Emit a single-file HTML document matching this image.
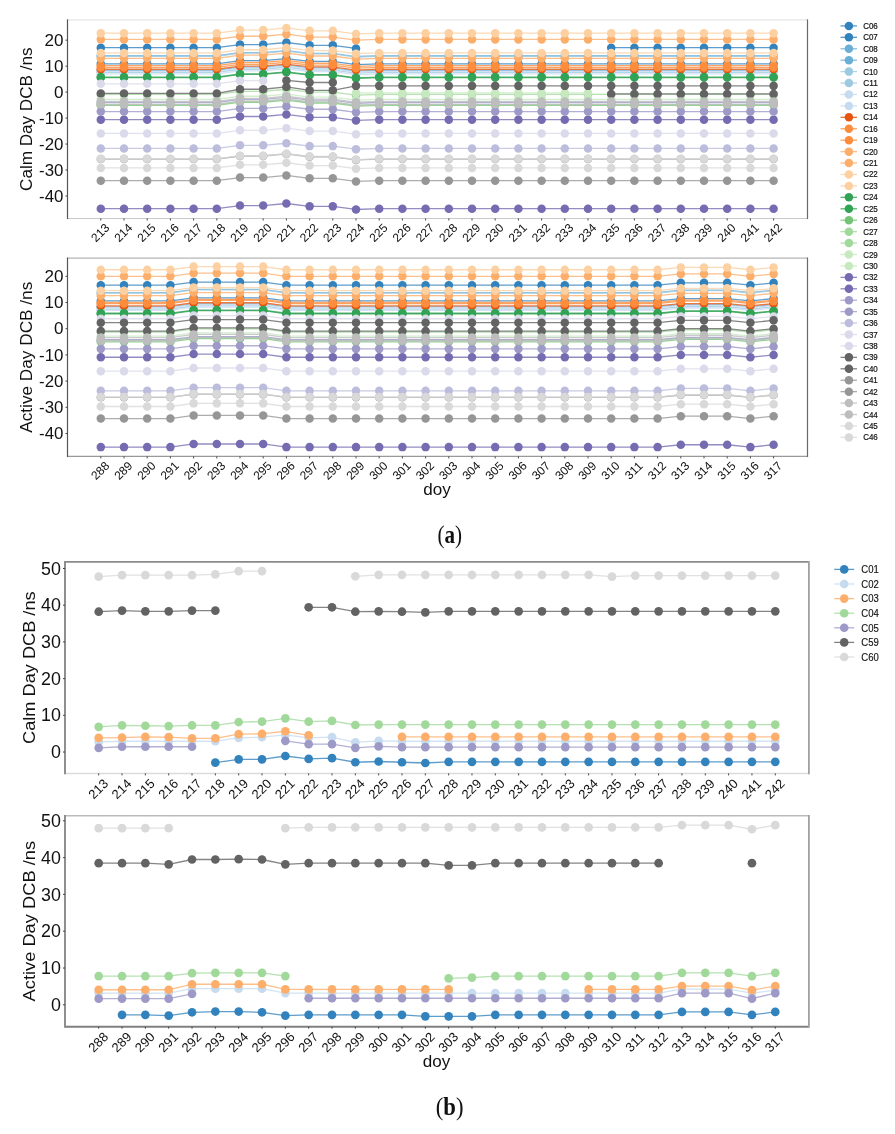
<!DOCTYPE html><html><head><meta charset="utf-8"><title>DCB</title><style>
html,body{margin:0;padding:0;background:#fff;width:895px;height:1134px;overflow:hidden}
svg{display:block;font-family:"Liberation Sans", sans-serif} text{opacity:0.999}
</style></head><body>
<svg width="895" height="1134" viewBox="0 0 895 1134">
<rect width="895" height="1134" fill="#fff"/>
<defs><filter id="gs" x="0" y="0" width="1" height="1"><feColorMatrix type="saturate" values="0"/></filter></defs>
<clipPath id="c1"><rect x="67.5" y="19.9" width="740.0" height="198.6"/></clipPath><g clip-path="url(#c1)"><path d="M100.80,47.69 L124.00,47.69 L147.20,47.69 L170.40,47.69 L193.60,47.69 L216.80,47.69 L240.00,44.57 L263.20,44.57 L286.40,42.50 L309.60,45.35 L332.80,45.35 L356.00,48.47" fill="none" stroke="#3182bd" stroke-width="1.3" stroke-opacity="0.78" stroke-linejoin="round"/><path d="M611.20,47.69 L634.40,47.69 L657.60,47.69 L680.80,47.69 L704.00,47.69 L727.20,47.69 L750.40,47.69 L773.60,47.69" fill="none" stroke="#3182bd" stroke-width="1.3" stroke-opacity="0.78" stroke-linejoin="round"/><circle cx="100.80" cy="47.69" r="4.25" fill="#3182bd"/><circle cx="124.00" cy="47.69" r="4.25" fill="#3182bd"/><circle cx="147.20" cy="47.69" r="4.25" fill="#3182bd"/><circle cx="170.40" cy="47.69" r="4.25" fill="#3182bd"/><circle cx="193.60" cy="47.69" r="4.25" fill="#3182bd"/><circle cx="216.80" cy="47.69" r="4.25" fill="#3182bd"/><circle cx="240.00" cy="44.57" r="4.25" fill="#3182bd"/><circle cx="263.20" cy="44.57" r="4.25" fill="#3182bd"/><circle cx="286.40" cy="42.50" r="4.25" fill="#3182bd"/><circle cx="309.60" cy="45.35" r="4.25" fill="#3182bd"/><circle cx="332.80" cy="45.35" r="4.25" fill="#3182bd"/><circle cx="356.00" cy="48.47" r="4.25" fill="#3182bd"/><circle cx="611.20" cy="47.69" r="4.25" fill="#3182bd"/><circle cx="634.40" cy="47.69" r="4.25" fill="#3182bd"/><circle cx="657.60" cy="47.69" r="4.25" fill="#3182bd"/><circle cx="680.80" cy="47.69" r="4.25" fill="#3182bd"/><circle cx="704.00" cy="47.69" r="4.25" fill="#3182bd"/><circle cx="727.20" cy="47.69" r="4.25" fill="#3182bd"/><circle cx="750.40" cy="47.69" r="4.25" fill="#3182bd"/><circle cx="773.60" cy="47.69" r="4.25" fill="#3182bd"/><path d="M100.80,63.79 L124.00,63.79 L147.20,63.79 L170.40,63.79 L193.60,63.79 L216.80,63.79 L240.00,60.68 L263.20,60.68 L286.40,58.60 L309.60,61.46 L332.80,61.46 L356.00,64.57 L379.20,63.79 L402.40,63.79 L425.60,63.79 L448.80,63.79 L472.00,63.79 L495.20,63.79 L518.40,63.79 L541.60,63.79 L564.80,63.79 L588.00,63.79 L611.20,63.79 L634.40,63.79 L657.60,63.79 L680.80,63.79 L704.00,63.79 L727.20,63.79 L750.40,63.79 L773.60,63.79" fill="none" stroke="#3182bd" stroke-width="1.3" stroke-opacity="0.78" stroke-linejoin="round"/><circle cx="100.80" cy="63.79" r="4.25" fill="#3182bd"/><circle cx="124.00" cy="63.79" r="4.25" fill="#3182bd"/><circle cx="147.20" cy="63.79" r="4.25" fill="#3182bd"/><circle cx="170.40" cy="63.79" r="4.25" fill="#3182bd"/><circle cx="193.60" cy="63.79" r="4.25" fill="#3182bd"/><circle cx="216.80" cy="63.79" r="4.25" fill="#3182bd"/><circle cx="240.00" cy="60.68" r="4.25" fill="#3182bd"/><circle cx="263.20" cy="60.68" r="4.25" fill="#3182bd"/><circle cx="286.40" cy="58.60" r="4.25" fill="#3182bd"/><circle cx="309.60" cy="61.46" r="4.25" fill="#3182bd"/><circle cx="332.80" cy="61.46" r="4.25" fill="#3182bd"/><circle cx="356.00" cy="64.57" r="4.25" fill="#3182bd"/><circle cx="379.20" cy="63.79" r="4.25" fill="#3182bd"/><circle cx="402.40" cy="63.79" r="4.25" fill="#3182bd"/><circle cx="425.60" cy="63.79" r="4.25" fill="#3182bd"/><circle cx="448.80" cy="63.79" r="4.25" fill="#3182bd"/><circle cx="472.00" cy="63.79" r="4.25" fill="#3182bd"/><circle cx="495.20" cy="63.79" r="4.25" fill="#3182bd"/><circle cx="518.40" cy="63.79" r="4.25" fill="#3182bd"/><circle cx="541.60" cy="63.79" r="4.25" fill="#3182bd"/><circle cx="564.80" cy="63.79" r="4.25" fill="#3182bd"/><circle cx="588.00" cy="63.79" r="4.25" fill="#3182bd"/><circle cx="611.20" cy="63.79" r="4.25" fill="#3182bd"/><circle cx="634.40" cy="63.79" r="4.25" fill="#3182bd"/><circle cx="657.60" cy="63.79" r="4.25" fill="#3182bd"/><circle cx="680.80" cy="63.79" r="4.25" fill="#3182bd"/><circle cx="704.00" cy="63.79" r="4.25" fill="#3182bd"/><circle cx="727.20" cy="63.79" r="4.25" fill="#3182bd"/><circle cx="750.40" cy="63.79" r="4.25" fill="#3182bd"/><circle cx="773.60" cy="63.79" r="4.25" fill="#3182bd"/><path d="M100.80,55.74 L124.00,55.74 L147.20,55.74 L170.40,55.74 L193.60,55.74 L216.80,55.74 L240.00,52.63 L263.20,52.63 L286.40,50.55 L309.60,53.40 L332.80,53.40 L356.00,56.52 L379.20,55.74 L402.40,55.74 L425.60,55.74 L448.80,55.74 L472.00,55.74 L495.20,55.74 L518.40,55.74 L541.60,55.74 L564.80,55.74 L588.00,55.74 L611.20,55.74 L634.40,55.74 L657.60,55.74 L680.80,55.74 L704.00,55.74 L727.20,55.74 L750.40,55.74 L773.60,55.74" fill="none" stroke="#6baed6" stroke-width="1.3" stroke-opacity="0.78" stroke-linejoin="round"/><circle cx="100.80" cy="55.74" r="4.25" fill="#6baed6"/><circle cx="124.00" cy="55.74" r="4.25" fill="#6baed6"/><circle cx="147.20" cy="55.74" r="4.25" fill="#6baed6"/><circle cx="170.40" cy="55.74" r="4.25" fill="#6baed6"/><circle cx="193.60" cy="55.74" r="4.25" fill="#6baed6"/><circle cx="216.80" cy="55.74" r="4.25" fill="#6baed6"/><circle cx="240.00" cy="52.63" r="4.25" fill="#6baed6"/><circle cx="263.20" cy="52.63" r="4.25" fill="#6baed6"/><circle cx="286.40" cy="50.55" r="4.25" fill="#6baed6"/><circle cx="309.60" cy="53.40" r="4.25" fill="#6baed6"/><circle cx="332.80" cy="53.40" r="4.25" fill="#6baed6"/><circle cx="356.00" cy="56.52" r="4.25" fill="#6baed6"/><circle cx="379.20" cy="55.74" r="4.25" fill="#6baed6"/><circle cx="402.40" cy="55.74" r="4.25" fill="#6baed6"/><circle cx="425.60" cy="55.74" r="4.25" fill="#6baed6"/><circle cx="448.80" cy="55.74" r="4.25" fill="#6baed6"/><circle cx="472.00" cy="55.74" r="4.25" fill="#6baed6"/><circle cx="495.20" cy="55.74" r="4.25" fill="#6baed6"/><circle cx="518.40" cy="55.74" r="4.25" fill="#6baed6"/><circle cx="541.60" cy="55.74" r="4.25" fill="#6baed6"/><circle cx="564.80" cy="55.74" r="4.25" fill="#6baed6"/><circle cx="588.00" cy="55.74" r="4.25" fill="#6baed6"/><circle cx="611.20" cy="55.74" r="4.25" fill="#6baed6"/><circle cx="634.40" cy="55.74" r="4.25" fill="#6baed6"/><circle cx="657.60" cy="55.74" r="4.25" fill="#6baed6"/><circle cx="680.80" cy="55.74" r="4.25" fill="#6baed6"/><circle cx="704.00" cy="55.74" r="4.25" fill="#6baed6"/><circle cx="727.20" cy="55.74" r="4.25" fill="#6baed6"/><circle cx="750.40" cy="55.74" r="4.25" fill="#6baed6"/><circle cx="773.60" cy="55.74" r="4.25" fill="#6baed6"/><path d="M100.80,70.29 L124.00,70.29 L147.20,70.29 L170.40,70.29 L193.60,70.29 L216.80,70.29 L240.00,67.17 L263.20,67.17 L286.40,65.09 L309.60,67.95 L332.80,67.95 L356.00,71.06 L379.20,70.29 L402.40,70.29 L425.60,70.29 L448.80,70.29 L472.00,70.29 L495.20,70.29 L518.40,70.29 L541.60,70.29 L564.80,70.29 L588.00,70.29 L611.20,70.29 L634.40,70.29 L657.60,70.29 L680.80,70.29 L704.00,70.29 L727.20,70.29 L750.40,70.29 L773.60,70.29" fill="none" stroke="#6baed6" stroke-width="1.3" stroke-opacity="0.78" stroke-linejoin="round"/><circle cx="100.80" cy="70.29" r="4.25" fill="#6baed6"/><circle cx="124.00" cy="70.29" r="4.25" fill="#6baed6"/><circle cx="147.20" cy="70.29" r="4.25" fill="#6baed6"/><circle cx="170.40" cy="70.29" r="4.25" fill="#6baed6"/><circle cx="193.60" cy="70.29" r="4.25" fill="#6baed6"/><circle cx="216.80" cy="70.29" r="4.25" fill="#6baed6"/><circle cx="240.00" cy="67.17" r="4.25" fill="#6baed6"/><circle cx="263.20" cy="67.17" r="4.25" fill="#6baed6"/><circle cx="286.40" cy="65.09" r="4.25" fill="#6baed6"/><circle cx="309.60" cy="67.95" r="4.25" fill="#6baed6"/><circle cx="332.80" cy="67.95" r="4.25" fill="#6baed6"/><circle cx="356.00" cy="71.06" r="4.25" fill="#6baed6"/><circle cx="379.20" cy="70.29" r="4.25" fill="#6baed6"/><circle cx="402.40" cy="70.29" r="4.25" fill="#6baed6"/><circle cx="425.60" cy="70.29" r="4.25" fill="#6baed6"/><circle cx="448.80" cy="70.29" r="4.25" fill="#6baed6"/><circle cx="472.00" cy="70.29" r="4.25" fill="#6baed6"/><circle cx="495.20" cy="70.29" r="4.25" fill="#6baed6"/><circle cx="518.40" cy="70.29" r="4.25" fill="#6baed6"/><circle cx="541.60" cy="70.29" r="4.25" fill="#6baed6"/><circle cx="564.80" cy="70.29" r="4.25" fill="#6baed6"/><circle cx="588.00" cy="70.29" r="4.25" fill="#6baed6"/><circle cx="611.20" cy="70.29" r="4.25" fill="#6baed6"/><circle cx="634.40" cy="70.29" r="4.25" fill="#6baed6"/><circle cx="657.60" cy="70.29" r="4.25" fill="#6baed6"/><circle cx="680.80" cy="70.29" r="4.25" fill="#6baed6"/><circle cx="704.00" cy="70.29" r="4.25" fill="#6baed6"/><circle cx="727.20" cy="70.29" r="4.25" fill="#6baed6"/><circle cx="750.40" cy="70.29" r="4.25" fill="#6baed6"/><circle cx="773.60" cy="70.29" r="4.25" fill="#6baed6"/><path d="M100.80,72.36 L124.00,72.36 L147.20,72.36 L170.40,72.36 L193.60,72.36 L216.80,72.36 L240.00,69.25 L263.20,69.25 L286.40,67.17 L309.60,70.03 L332.80,70.03 L356.00,73.14 L379.20,72.36 L402.40,72.36 L425.60,72.36 L448.80,72.36 L472.00,72.36 L495.20,72.36 L518.40,72.36 L541.60,72.36 L564.80,72.36 L588.00,72.36 L611.20,72.36 L634.40,72.36 L657.60,72.36 L680.80,72.36 L704.00,72.36 L727.20,72.36 L750.40,72.36 L773.60,72.36" fill="none" stroke="#9ecae1" stroke-width="1.3" stroke-opacity="0.78" stroke-linejoin="round"/><circle cx="100.80" cy="72.36" r="4.25" fill="#9ecae1"/><circle cx="124.00" cy="72.36" r="4.25" fill="#9ecae1"/><circle cx="147.20" cy="72.36" r="4.25" fill="#9ecae1"/><circle cx="170.40" cy="72.36" r="4.25" fill="#9ecae1"/><circle cx="193.60" cy="72.36" r="4.25" fill="#9ecae1"/><circle cx="216.80" cy="72.36" r="4.25" fill="#9ecae1"/><circle cx="240.00" cy="69.25" r="4.25" fill="#9ecae1"/><circle cx="263.20" cy="69.25" r="4.25" fill="#9ecae1"/><circle cx="286.40" cy="67.17" r="4.25" fill="#9ecae1"/><circle cx="309.60" cy="70.03" r="4.25" fill="#9ecae1"/><circle cx="332.80" cy="70.03" r="4.25" fill="#9ecae1"/><circle cx="356.00" cy="73.14" r="4.25" fill="#9ecae1"/><circle cx="379.20" cy="72.36" r="4.25" fill="#9ecae1"/><circle cx="402.40" cy="72.36" r="4.25" fill="#9ecae1"/><circle cx="425.60" cy="72.36" r="4.25" fill="#9ecae1"/><circle cx="448.80" cy="72.36" r="4.25" fill="#9ecae1"/><circle cx="472.00" cy="72.36" r="4.25" fill="#9ecae1"/><circle cx="495.20" cy="72.36" r="4.25" fill="#9ecae1"/><circle cx="518.40" cy="72.36" r="4.25" fill="#9ecae1"/><circle cx="541.60" cy="72.36" r="4.25" fill="#9ecae1"/><circle cx="564.80" cy="72.36" r="4.25" fill="#9ecae1"/><circle cx="588.00" cy="72.36" r="4.25" fill="#9ecae1"/><circle cx="611.20" cy="72.36" r="4.25" fill="#9ecae1"/><circle cx="634.40" cy="72.36" r="4.25" fill="#9ecae1"/><circle cx="657.60" cy="72.36" r="4.25" fill="#9ecae1"/><circle cx="680.80" cy="72.36" r="4.25" fill="#9ecae1"/><circle cx="704.00" cy="72.36" r="4.25" fill="#9ecae1"/><circle cx="727.20" cy="72.36" r="4.25" fill="#9ecae1"/><circle cx="750.40" cy="72.36" r="4.25" fill="#9ecae1"/><circle cx="773.60" cy="72.36" r="4.25" fill="#9ecae1"/><path d="M100.80,56.26 L124.00,56.26 L147.20,56.26 L170.40,56.26 L193.60,56.26 L216.80,56.26 L240.00,53.14 L263.20,53.14 L286.40,51.07 L309.60,53.92 L332.80,53.92 L356.00,57.04 L379.20,56.26 L402.40,56.26 L425.60,56.26 L448.80,56.26 L472.00,56.26 L495.20,56.26 L518.40,56.26 L541.60,56.26 L564.80,56.26 L588.00,56.26 L611.20,56.26 L634.40,56.26 L657.60,56.26 L680.80,56.26 L704.00,56.26 L727.20,56.26 L750.40,56.26 L773.60,56.26" fill="none" stroke="#9ecae1" stroke-width="1.3" stroke-opacity="0.78" stroke-linejoin="round"/><circle cx="100.80" cy="56.26" r="4.25" fill="#9ecae1"/><circle cx="124.00" cy="56.26" r="4.25" fill="#9ecae1"/><circle cx="147.20" cy="56.26" r="4.25" fill="#9ecae1"/><circle cx="170.40" cy="56.26" r="4.25" fill="#9ecae1"/><circle cx="193.60" cy="56.26" r="4.25" fill="#9ecae1"/><circle cx="216.80" cy="56.26" r="4.25" fill="#9ecae1"/><circle cx="240.00" cy="53.14" r="4.25" fill="#9ecae1"/><circle cx="263.20" cy="53.14" r="4.25" fill="#9ecae1"/><circle cx="286.40" cy="51.07" r="4.25" fill="#9ecae1"/><circle cx="309.60" cy="53.92" r="4.25" fill="#9ecae1"/><circle cx="332.80" cy="53.92" r="4.25" fill="#9ecae1"/><circle cx="356.00" cy="57.04" r="4.25" fill="#9ecae1"/><circle cx="379.20" cy="56.26" r="4.25" fill="#9ecae1"/><circle cx="402.40" cy="56.26" r="4.25" fill="#9ecae1"/><circle cx="425.60" cy="56.26" r="4.25" fill="#9ecae1"/><circle cx="448.80" cy="56.26" r="4.25" fill="#9ecae1"/><circle cx="472.00" cy="56.26" r="4.25" fill="#9ecae1"/><circle cx="495.20" cy="56.26" r="4.25" fill="#9ecae1"/><circle cx="518.40" cy="56.26" r="4.25" fill="#9ecae1"/><circle cx="541.60" cy="56.26" r="4.25" fill="#9ecae1"/><circle cx="564.80" cy="56.26" r="4.25" fill="#9ecae1"/><circle cx="588.00" cy="56.26" r="4.25" fill="#9ecae1"/><circle cx="611.20" cy="56.26" r="4.25" fill="#9ecae1"/><circle cx="634.40" cy="56.26" r="4.25" fill="#9ecae1"/><circle cx="657.60" cy="56.26" r="4.25" fill="#9ecae1"/><circle cx="680.80" cy="56.26" r="4.25" fill="#9ecae1"/><circle cx="704.00" cy="56.26" r="4.25" fill="#9ecae1"/><circle cx="727.20" cy="56.26" r="4.25" fill="#9ecae1"/><circle cx="750.40" cy="56.26" r="4.25" fill="#9ecae1"/><circle cx="773.60" cy="56.26" r="4.25" fill="#9ecae1"/><path d="M100.80,73.92 L124.00,73.92 L147.20,73.92 L170.40,73.92 L193.60,73.92 L216.80,73.92 L240.00,70.80 L263.20,70.80 L286.40,68.73 L309.60,71.58 L332.80,71.58 L356.00,74.70 L379.20,73.92 L402.40,73.92 L425.60,73.92 L448.80,73.92 L472.00,73.92 L495.20,73.92 L518.40,73.92 L541.60,73.92 L564.80,73.92 L588.00,73.92 L611.20,73.92 L634.40,73.92 L657.60,73.92 L680.80,73.92 L704.00,73.92 L727.20,73.92 L750.40,73.92 L773.60,73.92" fill="none" stroke="#c6dbef" stroke-width="1.3" stroke-opacity="0.78" stroke-linejoin="round"/><circle cx="100.80" cy="73.92" r="4.25" fill="#c6dbef"/><circle cx="124.00" cy="73.92" r="4.25" fill="#c6dbef"/><circle cx="147.20" cy="73.92" r="4.25" fill="#c6dbef"/><circle cx="170.40" cy="73.92" r="4.25" fill="#c6dbef"/><circle cx="193.60" cy="73.92" r="4.25" fill="#c6dbef"/><circle cx="216.80" cy="73.92" r="4.25" fill="#c6dbef"/><circle cx="240.00" cy="70.80" r="4.25" fill="#c6dbef"/><circle cx="263.20" cy="70.80" r="4.25" fill="#c6dbef"/><circle cx="286.40" cy="68.73" r="4.25" fill="#c6dbef"/><circle cx="309.60" cy="71.58" r="4.25" fill="#c6dbef"/><circle cx="332.80" cy="71.58" r="4.25" fill="#c6dbef"/><circle cx="356.00" cy="74.70" r="4.25" fill="#c6dbef"/><circle cx="379.20" cy="73.92" r="4.25" fill="#c6dbef"/><circle cx="402.40" cy="73.92" r="4.25" fill="#c6dbef"/><circle cx="425.60" cy="73.92" r="4.25" fill="#c6dbef"/><circle cx="448.80" cy="73.92" r="4.25" fill="#c6dbef"/><circle cx="472.00" cy="73.92" r="4.25" fill="#c6dbef"/><circle cx="495.20" cy="73.92" r="4.25" fill="#c6dbef"/><circle cx="518.40" cy="73.92" r="4.25" fill="#c6dbef"/><circle cx="541.60" cy="73.92" r="4.25" fill="#c6dbef"/><circle cx="564.80" cy="73.92" r="4.25" fill="#c6dbef"/><circle cx="588.00" cy="73.92" r="4.25" fill="#c6dbef"/><circle cx="611.20" cy="73.92" r="4.25" fill="#c6dbef"/><circle cx="634.40" cy="73.92" r="4.25" fill="#c6dbef"/><circle cx="657.60" cy="73.92" r="4.25" fill="#c6dbef"/><circle cx="680.80" cy="73.92" r="4.25" fill="#c6dbef"/><circle cx="704.00" cy="73.92" r="4.25" fill="#c6dbef"/><circle cx="727.20" cy="73.92" r="4.25" fill="#c6dbef"/><circle cx="750.40" cy="73.92" r="4.25" fill="#c6dbef"/><circle cx="773.60" cy="73.92" r="4.25" fill="#c6dbef"/><path d="M100.80,71.32 L124.00,71.32 L147.20,71.32 L170.40,71.32 L193.60,71.32 L216.80,71.32 L240.00,68.21 L263.20,68.21 L286.40,66.13 L309.60,68.99 L332.80,68.99 L356.00,72.10 L379.20,71.32 L402.40,71.32 L425.60,71.32 L448.80,71.32 L472.00,71.32 L495.20,71.32 L518.40,71.32 L541.60,71.32 L564.80,71.32 L588.00,71.32 L611.20,71.32 L634.40,71.32 L657.60,71.32 L680.80,71.32 L704.00,71.32 L727.20,71.32 L750.40,71.32 L773.60,71.32" fill="none" stroke="#c6dbef" stroke-width="1.3" stroke-opacity="0.78" stroke-linejoin="round"/><circle cx="100.80" cy="71.32" r="4.25" fill="#c6dbef"/><circle cx="124.00" cy="71.32" r="4.25" fill="#c6dbef"/><circle cx="147.20" cy="71.32" r="4.25" fill="#c6dbef"/><circle cx="170.40" cy="71.32" r="4.25" fill="#c6dbef"/><circle cx="193.60" cy="71.32" r="4.25" fill="#c6dbef"/><circle cx="216.80" cy="71.32" r="4.25" fill="#c6dbef"/><circle cx="240.00" cy="68.21" r="4.25" fill="#c6dbef"/><circle cx="263.20" cy="68.21" r="4.25" fill="#c6dbef"/><circle cx="286.40" cy="66.13" r="4.25" fill="#c6dbef"/><circle cx="309.60" cy="68.99" r="4.25" fill="#c6dbef"/><circle cx="332.80" cy="68.99" r="4.25" fill="#c6dbef"/><circle cx="356.00" cy="72.10" r="4.25" fill="#c6dbef"/><circle cx="379.20" cy="71.32" r="4.25" fill="#c6dbef"/><circle cx="402.40" cy="71.32" r="4.25" fill="#c6dbef"/><circle cx="425.60" cy="71.32" r="4.25" fill="#c6dbef"/><circle cx="448.80" cy="71.32" r="4.25" fill="#c6dbef"/><circle cx="472.00" cy="71.32" r="4.25" fill="#c6dbef"/><circle cx="495.20" cy="71.32" r="4.25" fill="#c6dbef"/><circle cx="518.40" cy="71.32" r="4.25" fill="#c6dbef"/><circle cx="541.60" cy="71.32" r="4.25" fill="#c6dbef"/><circle cx="564.80" cy="71.32" r="4.25" fill="#c6dbef"/><circle cx="588.00" cy="71.32" r="4.25" fill="#c6dbef"/><circle cx="611.20" cy="71.32" r="4.25" fill="#c6dbef"/><circle cx="634.40" cy="71.32" r="4.25" fill="#c6dbef"/><circle cx="657.60" cy="71.32" r="4.25" fill="#c6dbef"/><circle cx="680.80" cy="71.32" r="4.25" fill="#c6dbef"/><circle cx="704.00" cy="71.32" r="4.25" fill="#c6dbef"/><circle cx="727.20" cy="71.32" r="4.25" fill="#c6dbef"/><circle cx="750.40" cy="71.32" r="4.25" fill="#c6dbef"/><circle cx="773.60" cy="71.32" r="4.25" fill="#c6dbef"/><path d="M100.80,69.25 L124.00,69.25 L147.20,69.25 L170.40,69.25 L193.60,69.25 L216.80,69.25 L240.00,66.13 L263.20,66.13 L286.40,64.05 L309.60,66.91 L332.80,66.91 L356.00,70.03 L379.20,69.25 L402.40,69.25 L425.60,69.25 L448.80,69.25 L472.00,69.25 L495.20,69.25 L518.40,69.25 L541.60,69.25 L564.80,69.25 L588.00,69.25 L611.20,69.25 L634.40,69.25 L657.60,69.25 L680.80,69.25 L704.00,69.25 L727.20,69.25 L750.40,69.25 L773.60,69.25" fill="none" stroke="#e6550d" stroke-width="1.3" stroke-opacity="0.78" stroke-linejoin="round"/><circle cx="100.80" cy="69.25" r="4.25" fill="#e6550d"/><circle cx="124.00" cy="69.25" r="4.25" fill="#e6550d"/><circle cx="147.20" cy="69.25" r="4.25" fill="#e6550d"/><circle cx="170.40" cy="69.25" r="4.25" fill="#e6550d"/><circle cx="193.60" cy="69.25" r="4.25" fill="#e6550d"/><circle cx="216.80" cy="69.25" r="4.25" fill="#e6550d"/><circle cx="240.00" cy="66.13" r="4.25" fill="#e6550d"/><circle cx="263.20" cy="66.13" r="4.25" fill="#e6550d"/><circle cx="286.40" cy="64.05" r="4.25" fill="#e6550d"/><circle cx="309.60" cy="66.91" r="4.25" fill="#e6550d"/><circle cx="332.80" cy="66.91" r="4.25" fill="#e6550d"/><circle cx="356.00" cy="70.03" r="4.25" fill="#e6550d"/><circle cx="379.20" cy="69.25" r="4.25" fill="#e6550d"/><circle cx="402.40" cy="69.25" r="4.25" fill="#e6550d"/><circle cx="425.60" cy="69.25" r="4.25" fill="#e6550d"/><circle cx="448.80" cy="69.25" r="4.25" fill="#e6550d"/><circle cx="472.00" cy="69.25" r="4.25" fill="#e6550d"/><circle cx="495.20" cy="69.25" r="4.25" fill="#e6550d"/><circle cx="518.40" cy="69.25" r="4.25" fill="#e6550d"/><circle cx="541.60" cy="69.25" r="4.25" fill="#e6550d"/><circle cx="564.80" cy="69.25" r="4.25" fill="#e6550d"/><circle cx="588.00" cy="69.25" r="4.25" fill="#e6550d"/><circle cx="611.20" cy="69.25" r="4.25" fill="#e6550d"/><circle cx="634.40" cy="69.25" r="4.25" fill="#e6550d"/><circle cx="657.60" cy="69.25" r="4.25" fill="#e6550d"/><circle cx="680.80" cy="69.25" r="4.25" fill="#e6550d"/><circle cx="704.00" cy="69.25" r="4.25" fill="#e6550d"/><circle cx="727.20" cy="69.25" r="4.25" fill="#e6550d"/><circle cx="750.40" cy="69.25" r="4.25" fill="#e6550d"/><circle cx="773.60" cy="69.25" r="4.25" fill="#e6550d"/><path d="M100.80,65.61 L124.00,65.61 L147.20,65.61 L170.40,65.61 L193.60,65.61 L216.80,65.61 L240.00,62.49 L263.20,62.49 L286.40,60.42 L309.60,63.27 L332.80,63.27 L356.00,66.39 L379.20,65.61 L402.40,65.61 L425.60,65.61 L448.80,65.61 L472.00,65.61 L495.20,65.61 L518.40,65.61 L541.60,65.61 L564.80,65.61 L588.00,65.61 L611.20,65.61 L634.40,65.61 L657.60,65.61 L680.80,65.61 L704.00,65.61 L727.20,65.61 L750.40,65.61 L773.60,65.61" fill="none" stroke="#fd8d3c" stroke-width="1.3" stroke-opacity="0.78" stroke-linejoin="round"/><circle cx="100.80" cy="65.61" r="4.25" fill="#fd8d3c"/><circle cx="124.00" cy="65.61" r="4.25" fill="#fd8d3c"/><circle cx="147.20" cy="65.61" r="4.25" fill="#fd8d3c"/><circle cx="170.40" cy="65.61" r="4.25" fill="#fd8d3c"/><circle cx="193.60" cy="65.61" r="4.25" fill="#fd8d3c"/><circle cx="216.80" cy="65.61" r="4.25" fill="#fd8d3c"/><circle cx="240.00" cy="62.49" r="4.25" fill="#fd8d3c"/><circle cx="263.20" cy="62.49" r="4.25" fill="#fd8d3c"/><circle cx="286.40" cy="60.42" r="4.25" fill="#fd8d3c"/><circle cx="309.60" cy="63.27" r="4.25" fill="#fd8d3c"/><circle cx="332.80" cy="63.27" r="4.25" fill="#fd8d3c"/><circle cx="356.00" cy="66.39" r="4.25" fill="#fd8d3c"/><circle cx="379.20" cy="65.61" r="4.25" fill="#fd8d3c"/><circle cx="402.40" cy="65.61" r="4.25" fill="#fd8d3c"/><circle cx="425.60" cy="65.61" r="4.25" fill="#fd8d3c"/><circle cx="448.80" cy="65.61" r="4.25" fill="#fd8d3c"/><circle cx="472.00" cy="65.61" r="4.25" fill="#fd8d3c"/><circle cx="495.20" cy="65.61" r="4.25" fill="#fd8d3c"/><circle cx="518.40" cy="65.61" r="4.25" fill="#fd8d3c"/><circle cx="541.60" cy="65.61" r="4.25" fill="#fd8d3c"/><circle cx="564.80" cy="65.61" r="4.25" fill="#fd8d3c"/><circle cx="588.00" cy="65.61" r="4.25" fill="#fd8d3c"/><circle cx="611.20" cy="65.61" r="4.25" fill="#fd8d3c"/><circle cx="634.40" cy="65.61" r="4.25" fill="#fd8d3c"/><circle cx="657.60" cy="65.61" r="4.25" fill="#fd8d3c"/><circle cx="680.80" cy="65.61" r="4.25" fill="#fd8d3c"/><circle cx="704.00" cy="65.61" r="4.25" fill="#fd8d3c"/><circle cx="727.20" cy="65.61" r="4.25" fill="#fd8d3c"/><circle cx="750.40" cy="65.61" r="4.25" fill="#fd8d3c"/><circle cx="773.60" cy="65.61" r="4.25" fill="#fd8d3c"/><path d="M100.80,67.43 L124.00,67.43 L147.20,67.43 L170.40,67.43 L193.60,67.43 L216.80,67.43 L240.00,64.31 L263.20,64.31 L286.40,62.23 L309.60,65.09 L332.80,65.09 L356.00,68.21 L379.20,67.43 L402.40,67.43 L425.60,67.43 L448.80,67.43 L472.00,67.43 L495.20,67.43 L518.40,67.43 L541.60,67.43 L564.80,67.43 L588.00,67.43 L611.20,67.43 L634.40,67.43 L657.60,67.43 L680.80,67.43 L704.00,67.43 L727.20,67.43 L750.40,67.43 L773.60,67.43" fill="none" stroke="#fd8d3c" stroke-width="1.3" stroke-opacity="0.78" stroke-linejoin="round"/><circle cx="100.80" cy="67.43" r="4.25" fill="#fd8d3c"/><circle cx="124.00" cy="67.43" r="4.25" fill="#fd8d3c"/><circle cx="147.20" cy="67.43" r="4.25" fill="#fd8d3c"/><circle cx="170.40" cy="67.43" r="4.25" fill="#fd8d3c"/><circle cx="193.60" cy="67.43" r="4.25" fill="#fd8d3c"/><circle cx="216.80" cy="67.43" r="4.25" fill="#fd8d3c"/><circle cx="240.00" cy="64.31" r="4.25" fill="#fd8d3c"/><circle cx="263.20" cy="64.31" r="4.25" fill="#fd8d3c"/><circle cx="286.40" cy="62.23" r="4.25" fill="#fd8d3c"/><circle cx="309.60" cy="65.09" r="4.25" fill="#fd8d3c"/><circle cx="332.80" cy="65.09" r="4.25" fill="#fd8d3c"/><circle cx="356.00" cy="68.21" r="4.25" fill="#fd8d3c"/><circle cx="379.20" cy="67.43" r="4.25" fill="#fd8d3c"/><circle cx="402.40" cy="67.43" r="4.25" fill="#fd8d3c"/><circle cx="425.60" cy="67.43" r="4.25" fill="#fd8d3c"/><circle cx="448.80" cy="67.43" r="4.25" fill="#fd8d3c"/><circle cx="472.00" cy="67.43" r="4.25" fill="#fd8d3c"/><circle cx="495.20" cy="67.43" r="4.25" fill="#fd8d3c"/><circle cx="518.40" cy="67.43" r="4.25" fill="#fd8d3c"/><circle cx="541.60" cy="67.43" r="4.25" fill="#fd8d3c"/><circle cx="564.80" cy="67.43" r="4.25" fill="#fd8d3c"/><circle cx="588.00" cy="67.43" r="4.25" fill="#fd8d3c"/><circle cx="611.20" cy="67.43" r="4.25" fill="#fd8d3c"/><circle cx="634.40" cy="67.43" r="4.25" fill="#fd8d3c"/><circle cx="657.60" cy="67.43" r="4.25" fill="#fd8d3c"/><circle cx="680.80" cy="67.43" r="4.25" fill="#fd8d3c"/><circle cx="704.00" cy="67.43" r="4.25" fill="#fd8d3c"/><circle cx="727.20" cy="67.43" r="4.25" fill="#fd8d3c"/><circle cx="750.40" cy="67.43" r="4.25" fill="#fd8d3c"/><circle cx="773.60" cy="67.43" r="4.25" fill="#fd8d3c"/><path d="M100.80,39.38 L124.00,39.38 L147.20,39.38 L170.40,39.38 L193.60,39.38 L216.80,39.38 L240.00,36.26 L263.20,36.26 L286.40,34.19 L309.60,37.04 L332.80,37.04 L356.00,40.16 L379.20,39.38 L402.40,39.38 L425.60,39.38 L448.80,39.38 L472.00,39.38 L495.20,39.38 L518.40,39.38 L541.60,39.38 L564.80,39.38 L588.00,39.38 L611.20,39.38 L634.40,39.38 L657.60,39.38 L680.80,39.38 L704.00,39.38 L727.20,39.38 L750.40,39.38 L773.60,39.38" fill="none" stroke="#fdae6b" stroke-width="1.3" stroke-opacity="0.78" stroke-linejoin="round"/><circle cx="100.80" cy="39.38" r="4.25" fill="#fdae6b"/><circle cx="124.00" cy="39.38" r="4.25" fill="#fdae6b"/><circle cx="147.20" cy="39.38" r="4.25" fill="#fdae6b"/><circle cx="170.40" cy="39.38" r="4.25" fill="#fdae6b"/><circle cx="193.60" cy="39.38" r="4.25" fill="#fdae6b"/><circle cx="216.80" cy="39.38" r="4.25" fill="#fdae6b"/><circle cx="240.00" cy="36.26" r="4.25" fill="#fdae6b"/><circle cx="263.20" cy="36.26" r="4.25" fill="#fdae6b"/><circle cx="286.40" cy="34.19" r="4.25" fill="#fdae6b"/><circle cx="309.60" cy="37.04" r="4.25" fill="#fdae6b"/><circle cx="332.80" cy="37.04" r="4.25" fill="#fdae6b"/><circle cx="356.00" cy="40.16" r="4.25" fill="#fdae6b"/><circle cx="379.20" cy="39.38" r="4.25" fill="#fdae6b"/><circle cx="402.40" cy="39.38" r="4.25" fill="#fdae6b"/><circle cx="425.60" cy="39.38" r="4.25" fill="#fdae6b"/><circle cx="448.80" cy="39.38" r="4.25" fill="#fdae6b"/><circle cx="472.00" cy="39.38" r="4.25" fill="#fdae6b"/><circle cx="495.20" cy="39.38" r="4.25" fill="#fdae6b"/><circle cx="518.40" cy="39.38" r="4.25" fill="#fdae6b"/><circle cx="541.60" cy="39.38" r="4.25" fill="#fdae6b"/><circle cx="564.80" cy="39.38" r="4.25" fill="#fdae6b"/><circle cx="588.00" cy="39.38" r="4.25" fill="#fdae6b"/><circle cx="611.20" cy="39.38" r="4.25" fill="#fdae6b"/><circle cx="634.40" cy="39.38" r="4.25" fill="#fdae6b"/><circle cx="657.60" cy="39.38" r="4.25" fill="#fdae6b"/><circle cx="680.80" cy="39.38" r="4.25" fill="#fdae6b"/><circle cx="704.00" cy="39.38" r="4.25" fill="#fdae6b"/><circle cx="727.20" cy="39.38" r="4.25" fill="#fdae6b"/><circle cx="750.40" cy="39.38" r="4.25" fill="#fdae6b"/><circle cx="773.60" cy="39.38" r="4.25" fill="#fdae6b"/><path d="M100.80,58.34 L124.00,58.34 L147.20,58.34 L170.40,58.34 L193.60,58.34 L216.80,58.34 L240.00,55.22 L263.20,55.22 L286.40,53.14 L309.60,56.00 L332.80,56.00 L356.00,59.12 L379.20,58.34 L402.40,58.34 L425.60,58.34 L448.80,58.34 L472.00,58.34 L495.20,58.34 L518.40,58.34 L541.60,58.34 L564.80,58.34 L588.00,58.34 L611.20,58.34 L634.40,58.34 L657.60,58.34 L680.80,58.34 L704.00,58.34 L727.20,58.34 L750.40,58.34 L773.60,58.34" fill="none" stroke="#fdae6b" stroke-width="1.3" stroke-opacity="0.78" stroke-linejoin="round"/><circle cx="100.80" cy="58.34" r="4.25" fill="#fdae6b"/><circle cx="124.00" cy="58.34" r="4.25" fill="#fdae6b"/><circle cx="147.20" cy="58.34" r="4.25" fill="#fdae6b"/><circle cx="170.40" cy="58.34" r="4.25" fill="#fdae6b"/><circle cx="193.60" cy="58.34" r="4.25" fill="#fdae6b"/><circle cx="216.80" cy="58.34" r="4.25" fill="#fdae6b"/><circle cx="240.00" cy="55.22" r="4.25" fill="#fdae6b"/><circle cx="263.20" cy="55.22" r="4.25" fill="#fdae6b"/><circle cx="286.40" cy="53.14" r="4.25" fill="#fdae6b"/><circle cx="309.60" cy="56.00" r="4.25" fill="#fdae6b"/><circle cx="332.80" cy="56.00" r="4.25" fill="#fdae6b"/><circle cx="356.00" cy="59.12" r="4.25" fill="#fdae6b"/><circle cx="379.20" cy="58.34" r="4.25" fill="#fdae6b"/><circle cx="402.40" cy="58.34" r="4.25" fill="#fdae6b"/><circle cx="425.60" cy="58.34" r="4.25" fill="#fdae6b"/><circle cx="448.80" cy="58.34" r="4.25" fill="#fdae6b"/><circle cx="472.00" cy="58.34" r="4.25" fill="#fdae6b"/><circle cx="495.20" cy="58.34" r="4.25" fill="#fdae6b"/><circle cx="518.40" cy="58.34" r="4.25" fill="#fdae6b"/><circle cx="541.60" cy="58.34" r="4.25" fill="#fdae6b"/><circle cx="564.80" cy="58.34" r="4.25" fill="#fdae6b"/><circle cx="588.00" cy="58.34" r="4.25" fill="#fdae6b"/><circle cx="611.20" cy="58.34" r="4.25" fill="#fdae6b"/><circle cx="634.40" cy="58.34" r="4.25" fill="#fdae6b"/><circle cx="657.60" cy="58.34" r="4.25" fill="#fdae6b"/><circle cx="680.80" cy="58.34" r="4.25" fill="#fdae6b"/><circle cx="704.00" cy="58.34" r="4.25" fill="#fdae6b"/><circle cx="727.20" cy="58.34" r="4.25" fill="#fdae6b"/><circle cx="750.40" cy="58.34" r="4.25" fill="#fdae6b"/><circle cx="773.60" cy="58.34" r="4.25" fill="#fdae6b"/><path d="M100.80,33.15 L124.00,33.15 L147.20,33.15 L170.40,33.15 L193.60,33.15 L216.80,33.15 L240.00,30.03 L263.20,30.03 L286.40,27.95 L309.60,30.81 L332.80,30.81 L356.00,33.93 L379.20,33.15 L402.40,33.15 L425.60,33.15 L448.80,33.15 L472.00,33.15 L495.20,33.15 L518.40,33.15 L541.60,33.15 L564.80,33.15 L588.00,33.15 L611.20,33.15 L634.40,33.15 L657.60,33.15 L680.80,33.15 L704.00,33.15 L727.20,33.15 L750.40,33.15 L773.60,33.15" fill="none" stroke="#fdd0a2" stroke-width="1.3" stroke-opacity="0.78" stroke-linejoin="round"/><circle cx="100.80" cy="33.15" r="4.25" fill="#fdd0a2"/><circle cx="124.00" cy="33.15" r="4.25" fill="#fdd0a2"/><circle cx="147.20" cy="33.15" r="4.25" fill="#fdd0a2"/><circle cx="170.40" cy="33.15" r="4.25" fill="#fdd0a2"/><circle cx="193.60" cy="33.15" r="4.25" fill="#fdd0a2"/><circle cx="216.80" cy="33.15" r="4.25" fill="#fdd0a2"/><circle cx="240.00" cy="30.03" r="4.25" fill="#fdd0a2"/><circle cx="263.20" cy="30.03" r="4.25" fill="#fdd0a2"/><circle cx="286.40" cy="27.95" r="4.25" fill="#fdd0a2"/><circle cx="309.60" cy="30.81" r="4.25" fill="#fdd0a2"/><circle cx="332.80" cy="30.81" r="4.25" fill="#fdd0a2"/><circle cx="356.00" cy="33.93" r="4.25" fill="#fdd0a2"/><circle cx="379.20" cy="33.15" r="4.25" fill="#fdd0a2"/><circle cx="402.40" cy="33.15" r="4.25" fill="#fdd0a2"/><circle cx="425.60" cy="33.15" r="4.25" fill="#fdd0a2"/><circle cx="448.80" cy="33.15" r="4.25" fill="#fdd0a2"/><circle cx="472.00" cy="33.15" r="4.25" fill="#fdd0a2"/><circle cx="495.20" cy="33.15" r="4.25" fill="#fdd0a2"/><circle cx="518.40" cy="33.15" r="4.25" fill="#fdd0a2"/><circle cx="541.60" cy="33.15" r="4.25" fill="#fdd0a2"/><circle cx="564.80" cy="33.15" r="4.25" fill="#fdd0a2"/><circle cx="588.00" cy="33.15" r="4.25" fill="#fdd0a2"/><circle cx="611.20" cy="33.15" r="4.25" fill="#fdd0a2"/><circle cx="634.40" cy="33.15" r="4.25" fill="#fdd0a2"/><circle cx="657.60" cy="33.15" r="4.25" fill="#fdd0a2"/><circle cx="680.80" cy="33.15" r="4.25" fill="#fdd0a2"/><circle cx="704.00" cy="33.15" r="4.25" fill="#fdd0a2"/><circle cx="727.20" cy="33.15" r="4.25" fill="#fdd0a2"/><circle cx="750.40" cy="33.15" r="4.25" fill="#fdd0a2"/><circle cx="773.60" cy="33.15" r="4.25" fill="#fdd0a2"/><path d="M100.80,52.89 L124.00,52.89 L147.20,52.89 L170.40,52.89 L193.60,52.89 L216.80,52.89 L240.00,49.77 L263.20,49.77 L286.40,47.69 L309.60,50.55 L332.80,50.55 L356.00,53.66 L379.20,52.89 L402.40,52.89 L425.60,52.89 L448.80,52.89 L472.00,52.89 L495.20,52.89 L518.40,52.89 L541.60,52.89 L564.80,52.89 L588.00,52.89 L611.20,52.89 L634.40,52.89 L657.60,52.89 L680.80,52.89 L704.00,52.89 L727.20,52.89 L750.40,52.89 L773.60,52.89" fill="none" stroke="#fdd0a2" stroke-width="1.3" stroke-opacity="0.78" stroke-linejoin="round"/><circle cx="100.80" cy="52.89" r="4.25" fill="#fdd0a2"/><circle cx="124.00" cy="52.89" r="4.25" fill="#fdd0a2"/><circle cx="147.20" cy="52.89" r="4.25" fill="#fdd0a2"/><circle cx="170.40" cy="52.89" r="4.25" fill="#fdd0a2"/><circle cx="193.60" cy="52.89" r="4.25" fill="#fdd0a2"/><circle cx="216.80" cy="52.89" r="4.25" fill="#fdd0a2"/><circle cx="240.00" cy="49.77" r="4.25" fill="#fdd0a2"/><circle cx="263.20" cy="49.77" r="4.25" fill="#fdd0a2"/><circle cx="286.40" cy="47.69" r="4.25" fill="#fdd0a2"/><circle cx="309.60" cy="50.55" r="4.25" fill="#fdd0a2"/><circle cx="332.80" cy="50.55" r="4.25" fill="#fdd0a2"/><circle cx="356.00" cy="53.66" r="4.25" fill="#fdd0a2"/><circle cx="379.20" cy="52.89" r="4.25" fill="#fdd0a2"/><circle cx="402.40" cy="52.89" r="4.25" fill="#fdd0a2"/><circle cx="425.60" cy="52.89" r="4.25" fill="#fdd0a2"/><circle cx="448.80" cy="52.89" r="4.25" fill="#fdd0a2"/><circle cx="472.00" cy="52.89" r="4.25" fill="#fdd0a2"/><circle cx="495.20" cy="52.89" r="4.25" fill="#fdd0a2"/><circle cx="518.40" cy="52.89" r="4.25" fill="#fdd0a2"/><circle cx="541.60" cy="52.89" r="4.25" fill="#fdd0a2"/><circle cx="564.80" cy="52.89" r="4.25" fill="#fdd0a2"/><circle cx="588.00" cy="52.89" r="4.25" fill="#fdd0a2"/><circle cx="611.20" cy="52.89" r="4.25" fill="#fdd0a2"/><circle cx="634.40" cy="52.89" r="4.25" fill="#fdd0a2"/><circle cx="657.60" cy="52.89" r="4.25" fill="#fdd0a2"/><circle cx="680.80" cy="52.89" r="4.25" fill="#fdd0a2"/><circle cx="704.00" cy="52.89" r="4.25" fill="#fdd0a2"/><circle cx="727.20" cy="52.89" r="4.25" fill="#fdd0a2"/><circle cx="750.40" cy="52.89" r="4.25" fill="#fdd0a2"/><circle cx="773.60" cy="52.89" r="4.25" fill="#fdd0a2"/><path d="M100.80,77.04 L124.00,77.04 L147.20,77.04 L170.40,77.04 L193.60,77.04 L216.80,77.04 L240.00,73.92 L263.20,73.92 L286.40,71.84 L309.60,74.70 L332.80,74.70 L356.00,77.82 L379.20,77.04 L402.40,77.04 L425.60,77.04 L448.80,77.04 L472.00,77.04 L495.20,77.04 L518.40,77.04 L541.60,77.04 L564.80,77.04 L588.00,77.04 L611.20,77.04 L634.40,77.04 L657.60,77.04 L680.80,77.04 L704.00,77.04 L727.20,77.04 L750.40,77.04 L773.60,77.04" fill="none" stroke="#31a354" stroke-width="1.3" stroke-opacity="0.78" stroke-linejoin="round"/><circle cx="100.80" cy="77.04" r="4.25" fill="#31a354"/><circle cx="124.00" cy="77.04" r="4.25" fill="#31a354"/><circle cx="147.20" cy="77.04" r="4.25" fill="#31a354"/><circle cx="170.40" cy="77.04" r="4.25" fill="#31a354"/><circle cx="193.60" cy="77.04" r="4.25" fill="#31a354"/><circle cx="216.80" cy="77.04" r="4.25" fill="#31a354"/><circle cx="240.00" cy="73.92" r="4.25" fill="#31a354"/><circle cx="263.20" cy="73.92" r="4.25" fill="#31a354"/><circle cx="286.40" cy="71.84" r="4.25" fill="#31a354"/><circle cx="309.60" cy="74.70" r="4.25" fill="#31a354"/><circle cx="332.80" cy="74.70" r="4.25" fill="#31a354"/><circle cx="356.00" cy="77.82" r="4.25" fill="#31a354"/><circle cx="379.20" cy="77.04" r="4.25" fill="#31a354"/><circle cx="402.40" cy="77.04" r="4.25" fill="#31a354"/><circle cx="425.60" cy="77.04" r="4.25" fill="#31a354"/><circle cx="448.80" cy="77.04" r="4.25" fill="#31a354"/><circle cx="472.00" cy="77.04" r="4.25" fill="#31a354"/><circle cx="495.20" cy="77.04" r="4.25" fill="#31a354"/><circle cx="518.40" cy="77.04" r="4.25" fill="#31a354"/><circle cx="541.60" cy="77.04" r="4.25" fill="#31a354"/><circle cx="564.80" cy="77.04" r="4.25" fill="#31a354"/><circle cx="588.00" cy="77.04" r="4.25" fill="#31a354"/><circle cx="611.20" cy="77.04" r="4.25" fill="#31a354"/><circle cx="634.40" cy="77.04" r="4.25" fill="#31a354"/><circle cx="657.60" cy="77.04" r="4.25" fill="#31a354"/><circle cx="680.80" cy="77.04" r="4.25" fill="#31a354"/><circle cx="704.00" cy="77.04" r="4.25" fill="#31a354"/><circle cx="727.20" cy="77.04" r="4.25" fill="#31a354"/><circle cx="750.40" cy="77.04" r="4.25" fill="#31a354"/><circle cx="773.60" cy="77.04" r="4.25" fill="#31a354"/><path d="M100.80,77.56 L124.00,77.56 L147.20,77.56 L170.40,77.56 L193.60,77.56 L216.80,77.56 L240.00,74.44 L263.20,74.44 L286.40,72.36 L309.60,75.22 L332.80,75.22 L356.00,78.34 L379.20,77.56 L402.40,77.56 L425.60,77.56 L448.80,77.56 L472.00,77.56 L495.20,77.56 L518.40,77.56 L541.60,77.56 L564.80,77.56 L588.00,77.56 L611.20,77.56 L634.40,77.56 L657.60,77.56 L680.80,77.56 L704.00,77.56 L727.20,77.56 L750.40,77.56 L773.60,77.56" fill="none" stroke="#31a354" stroke-width="1.3" stroke-opacity="0.78" stroke-linejoin="round"/><circle cx="100.80" cy="77.56" r="4.25" fill="#31a354"/><circle cx="124.00" cy="77.56" r="4.25" fill="#31a354"/><circle cx="147.20" cy="77.56" r="4.25" fill="#31a354"/><circle cx="170.40" cy="77.56" r="4.25" fill="#31a354"/><circle cx="193.60" cy="77.56" r="4.25" fill="#31a354"/><circle cx="216.80" cy="77.56" r="4.25" fill="#31a354"/><circle cx="240.00" cy="74.44" r="4.25" fill="#31a354"/><circle cx="263.20" cy="74.44" r="4.25" fill="#31a354"/><circle cx="286.40" cy="72.36" r="4.25" fill="#31a354"/><circle cx="309.60" cy="75.22" r="4.25" fill="#31a354"/><circle cx="332.80" cy="75.22" r="4.25" fill="#31a354"/><circle cx="356.00" cy="78.34" r="4.25" fill="#31a354"/><circle cx="379.20" cy="77.56" r="4.25" fill="#31a354"/><circle cx="402.40" cy="77.56" r="4.25" fill="#31a354"/><circle cx="425.60" cy="77.56" r="4.25" fill="#31a354"/><circle cx="448.80" cy="77.56" r="4.25" fill="#31a354"/><circle cx="472.00" cy="77.56" r="4.25" fill="#31a354"/><circle cx="495.20" cy="77.56" r="4.25" fill="#31a354"/><circle cx="518.40" cy="77.56" r="4.25" fill="#31a354"/><circle cx="541.60" cy="77.56" r="4.25" fill="#31a354"/><circle cx="564.80" cy="77.56" r="4.25" fill="#31a354"/><circle cx="588.00" cy="77.56" r="4.25" fill="#31a354"/><circle cx="611.20" cy="77.56" r="4.25" fill="#31a354"/><circle cx="634.40" cy="77.56" r="4.25" fill="#31a354"/><circle cx="657.60" cy="77.56" r="4.25" fill="#31a354"/><circle cx="680.80" cy="77.56" r="4.25" fill="#31a354"/><circle cx="704.00" cy="77.56" r="4.25" fill="#31a354"/><circle cx="727.20" cy="77.56" r="4.25" fill="#31a354"/><circle cx="750.40" cy="77.56" r="4.25" fill="#31a354"/><circle cx="773.60" cy="77.56" r="4.25" fill="#31a354"/><path d="M100.80,105.34 L124.00,105.34 L147.20,105.34 L170.40,105.34 L193.60,105.34 L216.80,105.34 L240.00,102.23 L263.20,102.23 L286.40,100.15 L309.60,103.01 L332.80,103.01 L356.00,106.12 L379.20,105.34 L402.40,105.34 L425.60,105.34 L448.80,105.34 L472.00,105.34 L495.20,105.34 L518.40,105.34 L541.60,105.34 L564.80,105.34 L588.00,105.34 L611.20,105.34 L634.40,105.34 L657.60,105.34 L680.80,105.34 L704.00,105.34 L727.20,105.34 L750.40,105.34 L773.60,105.34" fill="none" stroke="#74c476" stroke-width="1.3" stroke-opacity="0.78" stroke-linejoin="round"/><circle cx="100.80" cy="105.34" r="4.25" fill="#74c476"/><circle cx="124.00" cy="105.34" r="4.25" fill="#74c476"/><circle cx="147.20" cy="105.34" r="4.25" fill="#74c476"/><circle cx="170.40" cy="105.34" r="4.25" fill="#74c476"/><circle cx="193.60" cy="105.34" r="4.25" fill="#74c476"/><circle cx="216.80" cy="105.34" r="4.25" fill="#74c476"/><circle cx="240.00" cy="102.23" r="4.25" fill="#74c476"/><circle cx="263.20" cy="102.23" r="4.25" fill="#74c476"/><circle cx="286.40" cy="100.15" r="4.25" fill="#74c476"/><circle cx="309.60" cy="103.01" r="4.25" fill="#74c476"/><circle cx="332.80" cy="103.01" r="4.25" fill="#74c476"/><circle cx="356.00" cy="106.12" r="4.25" fill="#74c476"/><circle cx="379.20" cy="105.34" r="4.25" fill="#74c476"/><circle cx="402.40" cy="105.34" r="4.25" fill="#74c476"/><circle cx="425.60" cy="105.34" r="4.25" fill="#74c476"/><circle cx="448.80" cy="105.34" r="4.25" fill="#74c476"/><circle cx="472.00" cy="105.34" r="4.25" fill="#74c476"/><circle cx="495.20" cy="105.34" r="4.25" fill="#74c476"/><circle cx="518.40" cy="105.34" r="4.25" fill="#74c476"/><circle cx="541.60" cy="105.34" r="4.25" fill="#74c476"/><circle cx="564.80" cy="105.34" r="4.25" fill="#74c476"/><circle cx="588.00" cy="105.34" r="4.25" fill="#74c476"/><circle cx="611.20" cy="105.34" r="4.25" fill="#74c476"/><circle cx="634.40" cy="105.34" r="4.25" fill="#74c476"/><circle cx="657.60" cy="105.34" r="4.25" fill="#74c476"/><circle cx="680.80" cy="105.34" r="4.25" fill="#74c476"/><circle cx="704.00" cy="105.34" r="4.25" fill="#74c476"/><circle cx="727.20" cy="105.34" r="4.25" fill="#74c476"/><circle cx="750.40" cy="105.34" r="4.25" fill="#74c476"/><circle cx="773.60" cy="105.34" r="4.25" fill="#74c476"/><path d="M100.80,94.44 L124.00,94.44 L147.20,94.44 L170.40,94.44 L193.60,94.44 L216.80,94.44 L240.00,91.32 L263.20,91.32 L286.40,89.24 L309.60,92.10 L332.80,92.10 L356.00,95.22 L379.20,94.44 L402.40,94.44 L425.60,94.44 L448.80,94.44 L472.00,94.44 L495.20,94.44 L518.40,94.44 L541.60,94.44 L564.80,94.44 L588.00,94.44 L611.20,94.44 L634.40,94.44 L657.60,94.44 L680.80,94.44 L704.00,94.44 L727.20,94.44 L750.40,94.44 L773.60,94.44" fill="none" stroke="#a1d99b" stroke-width="1.3" stroke-opacity="0.78" stroke-linejoin="round"/><circle cx="100.80" cy="94.44" r="4.25" fill="#a1d99b"/><circle cx="124.00" cy="94.44" r="4.25" fill="#a1d99b"/><circle cx="147.20" cy="94.44" r="4.25" fill="#a1d99b"/><circle cx="170.40" cy="94.44" r="4.25" fill="#a1d99b"/><circle cx="193.60" cy="94.44" r="4.25" fill="#a1d99b"/><circle cx="216.80" cy="94.44" r="4.25" fill="#a1d99b"/><circle cx="240.00" cy="91.32" r="4.25" fill="#a1d99b"/><circle cx="263.20" cy="91.32" r="4.25" fill="#a1d99b"/><circle cx="286.40" cy="89.24" r="4.25" fill="#a1d99b"/><circle cx="309.60" cy="92.10" r="4.25" fill="#a1d99b"/><circle cx="332.80" cy="92.10" r="4.25" fill="#a1d99b"/><circle cx="356.00" cy="95.22" r="4.25" fill="#a1d99b"/><circle cx="379.20" cy="94.44" r="4.25" fill="#a1d99b"/><circle cx="402.40" cy="94.44" r="4.25" fill="#a1d99b"/><circle cx="425.60" cy="94.44" r="4.25" fill="#a1d99b"/><circle cx="448.80" cy="94.44" r="4.25" fill="#a1d99b"/><circle cx="472.00" cy="94.44" r="4.25" fill="#a1d99b"/><circle cx="495.20" cy="94.44" r="4.25" fill="#a1d99b"/><circle cx="518.40" cy="94.44" r="4.25" fill="#a1d99b"/><circle cx="541.60" cy="94.44" r="4.25" fill="#a1d99b"/><circle cx="564.80" cy="94.44" r="4.25" fill="#a1d99b"/><circle cx="588.00" cy="94.44" r="4.25" fill="#a1d99b"/><circle cx="611.20" cy="94.44" r="4.25" fill="#a1d99b"/><circle cx="634.40" cy="94.44" r="4.25" fill="#a1d99b"/><circle cx="657.60" cy="94.44" r="4.25" fill="#a1d99b"/><circle cx="680.80" cy="94.44" r="4.25" fill="#a1d99b"/><circle cx="704.00" cy="94.44" r="4.25" fill="#a1d99b"/><circle cx="727.20" cy="94.44" r="4.25" fill="#a1d99b"/><circle cx="750.40" cy="94.44" r="4.25" fill="#a1d99b"/><circle cx="773.60" cy="94.44" r="4.25" fill="#a1d99b"/><path d="M100.80,104.57 L124.00,104.57 L147.20,104.57 L170.40,104.57 L193.60,104.57 L216.80,104.57 L240.00,101.45 L263.20,101.45 L286.40,99.37 L309.60,102.23 L332.80,102.23 L356.00,105.34 L379.20,104.57 L402.40,104.57 L425.60,104.57 L448.80,104.57 L472.00,104.57 L495.20,104.57 L518.40,104.57 L541.60,104.57 L564.80,104.57 L588.00,104.57 L611.20,104.57 L634.40,104.57 L657.60,104.57 L680.80,104.57 L704.00,104.57 L727.20,104.57 L750.40,104.57 L773.60,104.57" fill="none" stroke="#a1d99b" stroke-width="1.3" stroke-opacity="0.78" stroke-linejoin="round"/><circle cx="100.80" cy="104.57" r="4.25" fill="#a1d99b"/><circle cx="124.00" cy="104.57" r="4.25" fill="#a1d99b"/><circle cx="147.20" cy="104.57" r="4.25" fill="#a1d99b"/><circle cx="170.40" cy="104.57" r="4.25" fill="#a1d99b"/><circle cx="193.60" cy="104.57" r="4.25" fill="#a1d99b"/><circle cx="216.80" cy="104.57" r="4.25" fill="#a1d99b"/><circle cx="240.00" cy="101.45" r="4.25" fill="#a1d99b"/><circle cx="263.20" cy="101.45" r="4.25" fill="#a1d99b"/><circle cx="286.40" cy="99.37" r="4.25" fill="#a1d99b"/><circle cx="309.60" cy="102.23" r="4.25" fill="#a1d99b"/><circle cx="332.80" cy="102.23" r="4.25" fill="#a1d99b"/><circle cx="356.00" cy="105.34" r="4.25" fill="#a1d99b"/><circle cx="379.20" cy="104.57" r="4.25" fill="#a1d99b"/><circle cx="402.40" cy="104.57" r="4.25" fill="#a1d99b"/><circle cx="425.60" cy="104.57" r="4.25" fill="#a1d99b"/><circle cx="448.80" cy="104.57" r="4.25" fill="#a1d99b"/><circle cx="472.00" cy="104.57" r="4.25" fill="#a1d99b"/><circle cx="495.20" cy="104.57" r="4.25" fill="#a1d99b"/><circle cx="518.40" cy="104.57" r="4.25" fill="#a1d99b"/><circle cx="541.60" cy="104.57" r="4.25" fill="#a1d99b"/><circle cx="564.80" cy="104.57" r="4.25" fill="#a1d99b"/><circle cx="588.00" cy="104.57" r="4.25" fill="#a1d99b"/><circle cx="611.20" cy="104.57" r="4.25" fill="#a1d99b"/><circle cx="634.40" cy="104.57" r="4.25" fill="#a1d99b"/><circle cx="657.60" cy="104.57" r="4.25" fill="#a1d99b"/><circle cx="680.80" cy="104.57" r="4.25" fill="#a1d99b"/><circle cx="704.00" cy="104.57" r="4.25" fill="#a1d99b"/><circle cx="727.20" cy="104.57" r="4.25" fill="#a1d99b"/><circle cx="750.40" cy="104.57" r="4.25" fill="#a1d99b"/><circle cx="773.60" cy="104.57" r="4.25" fill="#a1d99b"/><path d="M356.00,92.88 L379.20,92.88 L402.40,92.88 L425.60,92.88 L448.80,92.88 L472.00,92.88 L495.20,92.88 L518.40,92.88 L541.60,92.88 L564.80,92.88 L588.00,92.88" fill="none" stroke="#c7e9c0" stroke-width="1.3" stroke-opacity="0.78" stroke-linejoin="round"/><circle cx="356.00" cy="92.88" r="4.25" fill="#c7e9c0"/><circle cx="379.20" cy="92.88" r="4.25" fill="#c7e9c0"/><circle cx="402.40" cy="92.88" r="4.25" fill="#c7e9c0"/><circle cx="425.60" cy="92.88" r="4.25" fill="#c7e9c0"/><circle cx="448.80" cy="92.88" r="4.25" fill="#c7e9c0"/><circle cx="472.00" cy="92.88" r="4.25" fill="#c7e9c0"/><circle cx="495.20" cy="92.88" r="4.25" fill="#c7e9c0"/><circle cx="518.40" cy="92.88" r="4.25" fill="#c7e9c0"/><circle cx="541.60" cy="92.88" r="4.25" fill="#c7e9c0"/><circle cx="564.80" cy="92.88" r="4.25" fill="#c7e9c0"/><circle cx="588.00" cy="92.88" r="4.25" fill="#c7e9c0"/><path d="M100.80,99.37 L124.00,99.37 L147.20,99.37 L170.40,99.37 L193.60,99.37 L216.80,99.37 L240.00,96.26 L263.20,96.26 L286.40,94.18 L309.60,97.03 L332.80,97.03 L356.00,100.15 L379.20,99.37 L402.40,99.37 L425.60,99.37 L448.80,99.37 L472.00,99.37 L495.20,99.37 L518.40,99.37 L541.60,99.37 L564.80,99.37 L588.00,99.37 L611.20,99.37 L634.40,99.37 L657.60,99.37 L680.80,99.37 L704.00,99.37 L727.20,99.37 L750.40,99.37 L773.60,99.37" fill="none" stroke="#c7e9c0" stroke-width="1.3" stroke-opacity="0.78" stroke-linejoin="round"/><circle cx="100.80" cy="99.37" r="4.25" fill="#c7e9c0"/><circle cx="124.00" cy="99.37" r="4.25" fill="#c7e9c0"/><circle cx="147.20" cy="99.37" r="4.25" fill="#c7e9c0"/><circle cx="170.40" cy="99.37" r="4.25" fill="#c7e9c0"/><circle cx="193.60" cy="99.37" r="4.25" fill="#c7e9c0"/><circle cx="216.80" cy="99.37" r="4.25" fill="#c7e9c0"/><circle cx="240.00" cy="96.26" r="4.25" fill="#c7e9c0"/><circle cx="263.20" cy="96.26" r="4.25" fill="#c7e9c0"/><circle cx="286.40" cy="94.18" r="4.25" fill="#c7e9c0"/><circle cx="309.60" cy="97.03" r="4.25" fill="#c7e9c0"/><circle cx="332.80" cy="97.03" r="4.25" fill="#c7e9c0"/><circle cx="356.00" cy="100.15" r="4.25" fill="#c7e9c0"/><circle cx="379.20" cy="99.37" r="4.25" fill="#c7e9c0"/><circle cx="402.40" cy="99.37" r="4.25" fill="#c7e9c0"/><circle cx="425.60" cy="99.37" r="4.25" fill="#c7e9c0"/><circle cx="448.80" cy="99.37" r="4.25" fill="#c7e9c0"/><circle cx="472.00" cy="99.37" r="4.25" fill="#c7e9c0"/><circle cx="495.20" cy="99.37" r="4.25" fill="#c7e9c0"/><circle cx="518.40" cy="99.37" r="4.25" fill="#c7e9c0"/><circle cx="541.60" cy="99.37" r="4.25" fill="#c7e9c0"/><circle cx="564.80" cy="99.37" r="4.25" fill="#c7e9c0"/><circle cx="588.00" cy="99.37" r="4.25" fill="#c7e9c0"/><circle cx="611.20" cy="99.37" r="4.25" fill="#c7e9c0"/><circle cx="634.40" cy="99.37" r="4.25" fill="#c7e9c0"/><circle cx="657.60" cy="99.37" r="4.25" fill="#c7e9c0"/><circle cx="680.80" cy="99.37" r="4.25" fill="#c7e9c0"/><circle cx="704.00" cy="99.37" r="4.25" fill="#c7e9c0"/><circle cx="727.20" cy="99.37" r="4.25" fill="#c7e9c0"/><circle cx="750.40" cy="99.37" r="4.25" fill="#c7e9c0"/><circle cx="773.60" cy="99.37" r="4.25" fill="#c7e9c0"/><path d="M100.80,119.63 L124.00,119.63 L147.20,119.63 L170.40,119.63 L193.60,119.63 L216.80,119.63 L240.00,116.51 L263.20,116.51 L286.40,114.43 L309.60,117.29 L332.80,117.29 L356.00,120.41 L379.20,119.63 L402.40,119.63 L425.60,119.63 L448.80,119.63 L472.00,119.63 L495.20,119.63 L518.40,119.63 L541.60,119.63 L564.80,119.63 L588.00,119.63 L611.20,119.63 L634.40,119.63 L657.60,119.63 L680.80,119.63 L704.00,119.63 L727.20,119.63 L750.40,119.63 L773.60,119.63" fill="none" stroke="#756bb1" stroke-width="1.3" stroke-opacity="0.78" stroke-linejoin="round"/><circle cx="100.80" cy="119.63" r="4.25" fill="#756bb1"/><circle cx="124.00" cy="119.63" r="4.25" fill="#756bb1"/><circle cx="147.20" cy="119.63" r="4.25" fill="#756bb1"/><circle cx="170.40" cy="119.63" r="4.25" fill="#756bb1"/><circle cx="193.60" cy="119.63" r="4.25" fill="#756bb1"/><circle cx="216.80" cy="119.63" r="4.25" fill="#756bb1"/><circle cx="240.00" cy="116.51" r="4.25" fill="#756bb1"/><circle cx="263.20" cy="116.51" r="4.25" fill="#756bb1"/><circle cx="286.40" cy="114.43" r="4.25" fill="#756bb1"/><circle cx="309.60" cy="117.29" r="4.25" fill="#756bb1"/><circle cx="332.80" cy="117.29" r="4.25" fill="#756bb1"/><circle cx="356.00" cy="120.41" r="4.25" fill="#756bb1"/><circle cx="379.20" cy="119.63" r="4.25" fill="#756bb1"/><circle cx="402.40" cy="119.63" r="4.25" fill="#756bb1"/><circle cx="425.60" cy="119.63" r="4.25" fill="#756bb1"/><circle cx="448.80" cy="119.63" r="4.25" fill="#756bb1"/><circle cx="472.00" cy="119.63" r="4.25" fill="#756bb1"/><circle cx="495.20" cy="119.63" r="4.25" fill="#756bb1"/><circle cx="518.40" cy="119.63" r="4.25" fill="#756bb1"/><circle cx="541.60" cy="119.63" r="4.25" fill="#756bb1"/><circle cx="564.80" cy="119.63" r="4.25" fill="#756bb1"/><circle cx="588.00" cy="119.63" r="4.25" fill="#756bb1"/><circle cx="611.20" cy="119.63" r="4.25" fill="#756bb1"/><circle cx="634.40" cy="119.63" r="4.25" fill="#756bb1"/><circle cx="657.60" cy="119.63" r="4.25" fill="#756bb1"/><circle cx="680.80" cy="119.63" r="4.25" fill="#756bb1"/><circle cx="704.00" cy="119.63" r="4.25" fill="#756bb1"/><circle cx="727.20" cy="119.63" r="4.25" fill="#756bb1"/><circle cx="750.40" cy="119.63" r="4.25" fill="#756bb1"/><circle cx="773.60" cy="119.63" r="4.25" fill="#756bb1"/><path d="M100.80,208.71 L124.00,208.71 L147.20,208.71 L170.40,208.71 L193.60,208.71 L216.80,208.71 L240.00,205.59 L263.20,205.59 L286.40,203.51 L309.60,206.37 L332.80,206.37 L356.00,209.48 L379.20,208.71 L402.40,208.71 L425.60,208.71 L448.80,208.71 L472.00,208.71 L495.20,208.71 L518.40,208.71 L541.60,208.71 L564.80,208.71 L588.00,208.71 L611.20,208.71 L634.40,208.71 L657.60,208.71 L680.80,208.71 L704.00,208.71 L727.20,208.71 L750.40,208.71 L773.60,208.71" fill="none" stroke="#756bb1" stroke-width="1.3" stroke-opacity="0.78" stroke-linejoin="round"/><circle cx="100.80" cy="208.71" r="4.25" fill="#756bb1"/><circle cx="124.00" cy="208.71" r="4.25" fill="#756bb1"/><circle cx="147.20" cy="208.71" r="4.25" fill="#756bb1"/><circle cx="170.40" cy="208.71" r="4.25" fill="#756bb1"/><circle cx="193.60" cy="208.71" r="4.25" fill="#756bb1"/><circle cx="216.80" cy="208.71" r="4.25" fill="#756bb1"/><circle cx="240.00" cy="205.59" r="4.25" fill="#756bb1"/><circle cx="263.20" cy="205.59" r="4.25" fill="#756bb1"/><circle cx="286.40" cy="203.51" r="4.25" fill="#756bb1"/><circle cx="309.60" cy="206.37" r="4.25" fill="#756bb1"/><circle cx="332.80" cy="206.37" r="4.25" fill="#756bb1"/><circle cx="356.00" cy="209.48" r="4.25" fill="#756bb1"/><circle cx="379.20" cy="208.71" r="4.25" fill="#756bb1"/><circle cx="402.40" cy="208.71" r="4.25" fill="#756bb1"/><circle cx="425.60" cy="208.71" r="4.25" fill="#756bb1"/><circle cx="448.80" cy="208.71" r="4.25" fill="#756bb1"/><circle cx="472.00" cy="208.71" r="4.25" fill="#756bb1"/><circle cx="495.20" cy="208.71" r="4.25" fill="#756bb1"/><circle cx="518.40" cy="208.71" r="4.25" fill="#756bb1"/><circle cx="541.60" cy="208.71" r="4.25" fill="#756bb1"/><circle cx="564.80" cy="208.71" r="4.25" fill="#756bb1"/><circle cx="588.00" cy="208.71" r="4.25" fill="#756bb1"/><circle cx="611.20" cy="208.71" r="4.25" fill="#756bb1"/><circle cx="634.40" cy="208.71" r="4.25" fill="#756bb1"/><circle cx="657.60" cy="208.71" r="4.25" fill="#756bb1"/><circle cx="680.80" cy="208.71" r="4.25" fill="#756bb1"/><circle cx="704.00" cy="208.71" r="4.25" fill="#756bb1"/><circle cx="727.20" cy="208.71" r="4.25" fill="#756bb1"/><circle cx="750.40" cy="208.71" r="4.25" fill="#756bb1"/><circle cx="773.60" cy="208.71" r="4.25" fill="#756bb1"/><path d="M100.80,111.58 L124.00,111.58 L147.20,111.58 L170.40,111.58 L193.60,111.58 L216.80,111.58 L240.00,108.46 L263.20,108.46 L286.40,106.38 L309.60,109.24 L332.80,109.24 L356.00,112.36 L379.20,111.58 L402.40,111.58 L425.60,111.58 L448.80,111.58 L472.00,111.58 L495.20,111.58 L518.40,111.58 L541.60,111.58 L564.80,111.58 L588.00,111.58 L611.20,111.58 L634.40,111.58 L657.60,111.58 L680.80,111.58 L704.00,111.58 L727.20,111.58 L750.40,111.58 L773.60,111.58" fill="none" stroke="#9e9ac8" stroke-width="1.3" stroke-opacity="0.78" stroke-linejoin="round"/><circle cx="100.80" cy="111.58" r="4.25" fill="#9e9ac8"/><circle cx="124.00" cy="111.58" r="4.25" fill="#9e9ac8"/><circle cx="147.20" cy="111.58" r="4.25" fill="#9e9ac8"/><circle cx="170.40" cy="111.58" r="4.25" fill="#9e9ac8"/><circle cx="193.60" cy="111.58" r="4.25" fill="#9e9ac8"/><circle cx="216.80" cy="111.58" r="4.25" fill="#9e9ac8"/><circle cx="240.00" cy="108.46" r="4.25" fill="#9e9ac8"/><circle cx="263.20" cy="108.46" r="4.25" fill="#9e9ac8"/><circle cx="286.40" cy="106.38" r="4.25" fill="#9e9ac8"/><circle cx="309.60" cy="109.24" r="4.25" fill="#9e9ac8"/><circle cx="332.80" cy="109.24" r="4.25" fill="#9e9ac8"/><circle cx="356.00" cy="112.36" r="4.25" fill="#9e9ac8"/><circle cx="379.20" cy="111.58" r="4.25" fill="#9e9ac8"/><circle cx="402.40" cy="111.58" r="4.25" fill="#9e9ac8"/><circle cx="425.60" cy="111.58" r="4.25" fill="#9e9ac8"/><circle cx="448.80" cy="111.58" r="4.25" fill="#9e9ac8"/><circle cx="472.00" cy="111.58" r="4.25" fill="#9e9ac8"/><circle cx="495.20" cy="111.58" r="4.25" fill="#9e9ac8"/><circle cx="518.40" cy="111.58" r="4.25" fill="#9e9ac8"/><circle cx="541.60" cy="111.58" r="4.25" fill="#9e9ac8"/><circle cx="564.80" cy="111.58" r="4.25" fill="#9e9ac8"/><circle cx="588.00" cy="111.58" r="4.25" fill="#9e9ac8"/><circle cx="611.20" cy="111.58" r="4.25" fill="#9e9ac8"/><circle cx="634.40" cy="111.58" r="4.25" fill="#9e9ac8"/><circle cx="657.60" cy="111.58" r="4.25" fill="#9e9ac8"/><circle cx="680.80" cy="111.58" r="4.25" fill="#9e9ac8"/><circle cx="704.00" cy="111.58" r="4.25" fill="#9e9ac8"/><circle cx="727.20" cy="111.58" r="4.25" fill="#9e9ac8"/><circle cx="750.40" cy="111.58" r="4.25" fill="#9e9ac8"/><circle cx="773.60" cy="111.58" r="4.25" fill="#9e9ac8"/><path d="M100.80,102.49 L124.00,102.49 L147.20,102.49 L170.40,102.49 L193.60,102.49 L216.80,102.49 L240.00,99.37 L263.20,99.37 L286.40,97.29 L309.60,100.15 L332.80,100.15 L356.00,103.27 L379.20,102.49 L402.40,102.49 L425.60,102.49 L448.80,102.49 L472.00,102.49 L495.20,102.49 L518.40,102.49 L541.60,102.49 L564.80,102.49 L588.00,102.49 L611.20,102.49 L634.40,102.49 L657.60,102.49 L680.80,102.49 L704.00,102.49 L727.20,102.49 L750.40,102.49 L773.60,102.49" fill="none" stroke="#9e9ac8" stroke-width="1.3" stroke-opacity="0.78" stroke-linejoin="round"/><circle cx="100.80" cy="102.49" r="4.25" fill="#9e9ac8"/><circle cx="124.00" cy="102.49" r="4.25" fill="#9e9ac8"/><circle cx="147.20" cy="102.49" r="4.25" fill="#9e9ac8"/><circle cx="170.40" cy="102.49" r="4.25" fill="#9e9ac8"/><circle cx="193.60" cy="102.49" r="4.25" fill="#9e9ac8"/><circle cx="216.80" cy="102.49" r="4.25" fill="#9e9ac8"/><circle cx="240.00" cy="99.37" r="4.25" fill="#9e9ac8"/><circle cx="263.20" cy="99.37" r="4.25" fill="#9e9ac8"/><circle cx="286.40" cy="97.29" r="4.25" fill="#9e9ac8"/><circle cx="309.60" cy="100.15" r="4.25" fill="#9e9ac8"/><circle cx="332.80" cy="100.15" r="4.25" fill="#9e9ac8"/><circle cx="356.00" cy="103.27" r="4.25" fill="#9e9ac8"/><circle cx="379.20" cy="102.49" r="4.25" fill="#9e9ac8"/><circle cx="402.40" cy="102.49" r="4.25" fill="#9e9ac8"/><circle cx="425.60" cy="102.49" r="4.25" fill="#9e9ac8"/><circle cx="448.80" cy="102.49" r="4.25" fill="#9e9ac8"/><circle cx="472.00" cy="102.49" r="4.25" fill="#9e9ac8"/><circle cx="495.20" cy="102.49" r="4.25" fill="#9e9ac8"/><circle cx="518.40" cy="102.49" r="4.25" fill="#9e9ac8"/><circle cx="541.60" cy="102.49" r="4.25" fill="#9e9ac8"/><circle cx="564.80" cy="102.49" r="4.25" fill="#9e9ac8"/><circle cx="588.00" cy="102.49" r="4.25" fill="#9e9ac8"/><circle cx="611.20" cy="102.49" r="4.25" fill="#9e9ac8"/><circle cx="634.40" cy="102.49" r="4.25" fill="#9e9ac8"/><circle cx="657.60" cy="102.49" r="4.25" fill="#9e9ac8"/><circle cx="680.80" cy="102.49" r="4.25" fill="#9e9ac8"/><circle cx="704.00" cy="102.49" r="4.25" fill="#9e9ac8"/><circle cx="727.20" cy="102.49" r="4.25" fill="#9e9ac8"/><circle cx="750.40" cy="102.49" r="4.25" fill="#9e9ac8"/><circle cx="773.60" cy="102.49" r="4.25" fill="#9e9ac8"/><path d="M100.80,148.45 L124.00,148.45 L147.20,148.45 L170.40,148.45 L193.60,148.45 L216.80,148.45 L240.00,145.34 L263.20,145.34 L286.40,143.26 L309.60,146.12 L332.80,146.12 L356.00,149.23 L379.20,148.45 L402.40,148.45 L425.60,148.45 L448.80,148.45 L472.00,148.45 L495.20,148.45 L518.40,148.45 L541.60,148.45 L564.80,148.45 L588.00,148.45 L611.20,148.45 L634.40,148.45 L657.60,148.45 L680.80,148.45 L704.00,148.45 L727.20,148.45 L750.40,148.45 L773.60,148.45" fill="none" stroke="#bcbddc" stroke-width="1.3" stroke-opacity="0.78" stroke-linejoin="round"/><circle cx="100.80" cy="148.45" r="4.25" fill="#bcbddc"/><circle cx="124.00" cy="148.45" r="4.25" fill="#bcbddc"/><circle cx="147.20" cy="148.45" r="4.25" fill="#bcbddc"/><circle cx="170.40" cy="148.45" r="4.25" fill="#bcbddc"/><circle cx="193.60" cy="148.45" r="4.25" fill="#bcbddc"/><circle cx="216.80" cy="148.45" r="4.25" fill="#bcbddc"/><circle cx="240.00" cy="145.34" r="4.25" fill="#bcbddc"/><circle cx="263.20" cy="145.34" r="4.25" fill="#bcbddc"/><circle cx="286.40" cy="143.26" r="4.25" fill="#bcbddc"/><circle cx="309.60" cy="146.12" r="4.25" fill="#bcbddc"/><circle cx="332.80" cy="146.12" r="4.25" fill="#bcbddc"/><circle cx="356.00" cy="149.23" r="4.25" fill="#bcbddc"/><circle cx="379.20" cy="148.45" r="4.25" fill="#bcbddc"/><circle cx="402.40" cy="148.45" r="4.25" fill="#bcbddc"/><circle cx="425.60" cy="148.45" r="4.25" fill="#bcbddc"/><circle cx="448.80" cy="148.45" r="4.25" fill="#bcbddc"/><circle cx="472.00" cy="148.45" r="4.25" fill="#bcbddc"/><circle cx="495.20" cy="148.45" r="4.25" fill="#bcbddc"/><circle cx="518.40" cy="148.45" r="4.25" fill="#bcbddc"/><circle cx="541.60" cy="148.45" r="4.25" fill="#bcbddc"/><circle cx="564.80" cy="148.45" r="4.25" fill="#bcbddc"/><circle cx="588.00" cy="148.45" r="4.25" fill="#bcbddc"/><circle cx="611.20" cy="148.45" r="4.25" fill="#bcbddc"/><circle cx="634.40" cy="148.45" r="4.25" fill="#bcbddc"/><circle cx="657.60" cy="148.45" r="4.25" fill="#bcbddc"/><circle cx="680.80" cy="148.45" r="4.25" fill="#bcbddc"/><circle cx="704.00" cy="148.45" r="4.25" fill="#bcbddc"/><circle cx="727.20" cy="148.45" r="4.25" fill="#bcbddc"/><circle cx="750.40" cy="148.45" r="4.25" fill="#bcbddc"/><circle cx="773.60" cy="148.45" r="4.25" fill="#bcbddc"/><path d="M100.80,83.79 L124.00,83.79 L147.20,83.79 L170.40,83.79 L193.60,83.79 L216.80,83.79 L240.00,80.67 L263.20,80.67" fill="none" stroke="#dadaeb" stroke-width="1.3" stroke-opacity="0.78" stroke-linejoin="round"/><circle cx="100.80" cy="83.79" r="4.25" fill="#dadaeb"/><circle cx="124.00" cy="83.79" r="4.25" fill="#dadaeb"/><circle cx="147.20" cy="83.79" r="4.25" fill="#dadaeb"/><circle cx="170.40" cy="83.79" r="4.25" fill="#dadaeb"/><circle cx="193.60" cy="83.79" r="4.25" fill="#dadaeb"/><circle cx="216.80" cy="83.79" r="4.25" fill="#dadaeb"/><circle cx="240.00" cy="80.67" r="4.25" fill="#dadaeb"/><circle cx="263.20" cy="80.67" r="4.25" fill="#dadaeb"/><path d="M100.80,133.39 L124.00,133.39 L147.20,133.39 L170.40,133.39 L193.60,133.39 L216.80,133.39 L240.00,130.28 L263.20,130.28 L286.40,128.20 L309.60,131.06 L332.80,131.06 L356.00,134.17 L379.20,133.39 L402.40,133.39 L425.60,133.39 L448.80,133.39 L472.00,133.39 L495.20,133.39 L518.40,133.39 L541.60,133.39 L564.80,133.39 L588.00,133.39 L611.20,133.39 L634.40,133.39 L657.60,133.39 L680.80,133.39 L704.00,133.39 L727.20,133.39 L750.40,133.39 L773.60,133.39" fill="none" stroke="#dadaeb" stroke-width="1.3" stroke-opacity="0.78" stroke-linejoin="round"/><circle cx="100.80" cy="133.39" r="4.25" fill="#dadaeb"/><circle cx="124.00" cy="133.39" r="4.25" fill="#dadaeb"/><circle cx="147.20" cy="133.39" r="4.25" fill="#dadaeb"/><circle cx="170.40" cy="133.39" r="4.25" fill="#dadaeb"/><circle cx="193.60" cy="133.39" r="4.25" fill="#dadaeb"/><circle cx="216.80" cy="133.39" r="4.25" fill="#dadaeb"/><circle cx="240.00" cy="130.28" r="4.25" fill="#dadaeb"/><circle cx="263.20" cy="130.28" r="4.25" fill="#dadaeb"/><circle cx="286.40" cy="128.20" r="4.25" fill="#dadaeb"/><circle cx="309.60" cy="131.06" r="4.25" fill="#dadaeb"/><circle cx="332.80" cy="131.06" r="4.25" fill="#dadaeb"/><circle cx="356.00" cy="134.17" r="4.25" fill="#dadaeb"/><circle cx="379.20" cy="133.39" r="4.25" fill="#dadaeb"/><circle cx="402.40" cy="133.39" r="4.25" fill="#dadaeb"/><circle cx="425.60" cy="133.39" r="4.25" fill="#dadaeb"/><circle cx="448.80" cy="133.39" r="4.25" fill="#dadaeb"/><circle cx="472.00" cy="133.39" r="4.25" fill="#dadaeb"/><circle cx="495.20" cy="133.39" r="4.25" fill="#dadaeb"/><circle cx="518.40" cy="133.39" r="4.25" fill="#dadaeb"/><circle cx="541.60" cy="133.39" r="4.25" fill="#dadaeb"/><circle cx="564.80" cy="133.39" r="4.25" fill="#dadaeb"/><circle cx="588.00" cy="133.39" r="4.25" fill="#dadaeb"/><circle cx="611.20" cy="133.39" r="4.25" fill="#dadaeb"/><circle cx="634.40" cy="133.39" r="4.25" fill="#dadaeb"/><circle cx="657.60" cy="133.39" r="4.25" fill="#dadaeb"/><circle cx="680.80" cy="133.39" r="4.25" fill="#dadaeb"/><circle cx="704.00" cy="133.39" r="4.25" fill="#dadaeb"/><circle cx="727.20" cy="133.39" r="4.25" fill="#dadaeb"/><circle cx="750.40" cy="133.39" r="4.25" fill="#dadaeb"/><circle cx="773.60" cy="133.39" r="4.25" fill="#dadaeb"/><path d="M100.80,93.40 L124.00,93.40 L147.20,93.40 L170.40,93.40 L193.60,93.40 L216.80,93.40 L240.00,89.24 L263.20,89.24 L286.40,86.91 L309.60,90.28 L332.80,90.28 L356.00,85.87 L379.20,85.87 L402.40,85.87 L425.60,85.87 L448.80,85.87 L472.00,85.87 L495.20,85.87 L518.40,85.87 L541.60,85.87 L564.80,85.87 L588.00,85.87 L611.20,85.87 L634.40,85.87 L657.60,85.87 L680.80,85.87 L704.00,85.87 L727.20,85.87 L750.40,85.87 L773.60,85.87" fill="none" stroke="#636363" stroke-width="1.3" stroke-opacity="0.78" stroke-linejoin="round"/><circle cx="100.80" cy="93.40" r="4.25" fill="#636363"/><circle cx="124.00" cy="93.40" r="4.25" fill="#636363"/><circle cx="147.20" cy="93.40" r="4.25" fill="#636363"/><circle cx="170.40" cy="93.40" r="4.25" fill="#636363"/><circle cx="193.60" cy="93.40" r="4.25" fill="#636363"/><circle cx="216.80" cy="93.40" r="4.25" fill="#636363"/><circle cx="240.00" cy="89.24" r="4.25" fill="#636363"/><circle cx="263.20" cy="89.24" r="4.25" fill="#636363"/><circle cx="286.40" cy="86.91" r="4.25" fill="#636363"/><circle cx="309.60" cy="90.28" r="4.25" fill="#636363"/><circle cx="332.80" cy="90.28" r="4.25" fill="#636363"/><circle cx="356.00" cy="85.87" r="4.25" fill="#636363"/><circle cx="379.20" cy="85.87" r="4.25" fill="#636363"/><circle cx="402.40" cy="85.87" r="4.25" fill="#636363"/><circle cx="425.60" cy="85.87" r="4.25" fill="#636363"/><circle cx="448.80" cy="85.87" r="4.25" fill="#636363"/><circle cx="472.00" cy="85.87" r="4.25" fill="#636363"/><circle cx="495.20" cy="85.87" r="4.25" fill="#636363"/><circle cx="518.40" cy="85.87" r="4.25" fill="#636363"/><circle cx="541.60" cy="85.87" r="4.25" fill="#636363"/><circle cx="564.80" cy="85.87" r="4.25" fill="#636363"/><circle cx="588.00" cy="85.87" r="4.25" fill="#636363"/><circle cx="611.20" cy="85.87" r="4.25" fill="#636363"/><circle cx="634.40" cy="85.87" r="4.25" fill="#636363"/><circle cx="657.60" cy="85.87" r="4.25" fill="#636363"/><circle cx="680.80" cy="85.87" r="4.25" fill="#636363"/><circle cx="704.00" cy="85.87" r="4.25" fill="#636363"/><circle cx="727.20" cy="85.87" r="4.25" fill="#636363"/><circle cx="750.40" cy="85.87" r="4.25" fill="#636363"/><circle cx="773.60" cy="85.87" r="4.25" fill="#636363"/><path d="M286.40,80.41 L309.60,82.49 L332.80,82.49" fill="none" stroke="#636363" stroke-width="1.3" stroke-opacity="0.78" stroke-linejoin="round"/><path d="M611.20,93.92 L634.40,93.92 L657.60,93.92 L680.80,93.92 L704.00,93.92 L727.20,93.92 L750.40,93.92 L773.60,93.92" fill="none" stroke="#636363" stroke-width="1.3" stroke-opacity="0.78" stroke-linejoin="round"/><circle cx="286.40" cy="80.41" r="4.25" fill="#636363"/><circle cx="309.60" cy="82.49" r="4.25" fill="#636363"/><circle cx="332.80" cy="82.49" r="4.25" fill="#636363"/><circle cx="611.20" cy="93.92" r="4.25" fill="#636363"/><circle cx="634.40" cy="93.92" r="4.25" fill="#636363"/><circle cx="657.60" cy="93.92" r="4.25" fill="#636363"/><circle cx="680.80" cy="93.92" r="4.25" fill="#636363"/><circle cx="704.00" cy="93.92" r="4.25" fill="#636363"/><circle cx="727.20" cy="93.92" r="4.25" fill="#636363"/><circle cx="750.40" cy="93.92" r="4.25" fill="#636363"/><circle cx="773.60" cy="93.92" r="4.25" fill="#636363"/><path d="M100.80,180.66 L124.00,180.66 L147.20,180.66 L170.40,180.66 L193.60,180.66 L216.80,180.66 L240.00,177.54 L263.20,177.54 L286.40,175.46 L309.60,178.32 L332.80,178.32 L356.00,181.44 L379.20,180.66 L402.40,180.66 L425.60,180.66 L448.80,180.66 L472.00,180.66 L495.20,180.66 L518.40,180.66 L541.60,180.66 L564.80,180.66 L588.00,180.66 L611.20,180.66 L634.40,180.66 L657.60,180.66 L680.80,180.66 L704.00,180.66 L727.20,180.66 L750.40,180.66 L773.60,180.66" fill="none" stroke="#969696" stroke-width="1.3" stroke-opacity="0.78" stroke-linejoin="round"/><circle cx="100.80" cy="180.66" r="4.25" fill="#969696"/><circle cx="124.00" cy="180.66" r="4.25" fill="#969696"/><circle cx="147.20" cy="180.66" r="4.25" fill="#969696"/><circle cx="170.40" cy="180.66" r="4.25" fill="#969696"/><circle cx="193.60" cy="180.66" r="4.25" fill="#969696"/><circle cx="216.80" cy="180.66" r="4.25" fill="#969696"/><circle cx="240.00" cy="177.54" r="4.25" fill="#969696"/><circle cx="263.20" cy="177.54" r="4.25" fill="#969696"/><circle cx="286.40" cy="175.46" r="4.25" fill="#969696"/><circle cx="309.60" cy="178.32" r="4.25" fill="#969696"/><circle cx="332.80" cy="178.32" r="4.25" fill="#969696"/><circle cx="356.00" cy="181.44" r="4.25" fill="#969696"/><circle cx="379.20" cy="180.66" r="4.25" fill="#969696"/><circle cx="402.40" cy="180.66" r="4.25" fill="#969696"/><circle cx="425.60" cy="180.66" r="4.25" fill="#969696"/><circle cx="448.80" cy="180.66" r="4.25" fill="#969696"/><circle cx="472.00" cy="180.66" r="4.25" fill="#969696"/><circle cx="495.20" cy="180.66" r="4.25" fill="#969696"/><circle cx="518.40" cy="180.66" r="4.25" fill="#969696"/><circle cx="541.60" cy="180.66" r="4.25" fill="#969696"/><circle cx="564.80" cy="180.66" r="4.25" fill="#969696"/><circle cx="588.00" cy="180.66" r="4.25" fill="#969696"/><circle cx="611.20" cy="180.66" r="4.25" fill="#969696"/><circle cx="634.40" cy="180.66" r="4.25" fill="#969696"/><circle cx="657.60" cy="180.66" r="4.25" fill="#969696"/><circle cx="680.80" cy="180.66" r="4.25" fill="#969696"/><circle cx="704.00" cy="180.66" r="4.25" fill="#969696"/><circle cx="727.20" cy="180.66" r="4.25" fill="#969696"/><circle cx="750.40" cy="180.66" r="4.25" fill="#969696"/><circle cx="773.60" cy="180.66" r="4.25" fill="#969696"/><path d="M100.80,159.10 L124.00,159.10 L147.20,159.10 L170.40,159.10 L193.60,159.10 L216.80,159.10 L240.00,155.99 L263.20,155.99 L286.40,153.91 L309.60,156.77 L332.80,156.77 L356.00,159.88 L379.20,159.10 L402.40,159.10 L425.60,159.10 L448.80,159.10 L472.00,159.10 L495.20,159.10 L518.40,159.10 L541.60,159.10 L564.80,159.10 L588.00,159.10 L611.20,159.10 L634.40,159.10 L657.60,159.10 L680.80,159.10 L704.00,159.10 L727.20,159.10 L750.40,159.10 L773.60,159.10" fill="none" stroke="#969696" stroke-width="1.3" stroke-opacity="0.78" stroke-linejoin="round"/><circle cx="100.80" cy="159.10" r="4.25" fill="#969696"/><circle cx="124.00" cy="159.10" r="4.25" fill="#969696"/><circle cx="147.20" cy="159.10" r="4.25" fill="#969696"/><circle cx="170.40" cy="159.10" r="4.25" fill="#969696"/><circle cx="193.60" cy="159.10" r="4.25" fill="#969696"/><circle cx="216.80" cy="159.10" r="4.25" fill="#969696"/><circle cx="240.00" cy="155.99" r="4.25" fill="#969696"/><circle cx="263.20" cy="155.99" r="4.25" fill="#969696"/><circle cx="286.40" cy="153.91" r="4.25" fill="#969696"/><circle cx="309.60" cy="156.77" r="4.25" fill="#969696"/><circle cx="332.80" cy="156.77" r="4.25" fill="#969696"/><circle cx="356.00" cy="159.88" r="4.25" fill="#969696"/><circle cx="379.20" cy="159.10" r="4.25" fill="#969696"/><circle cx="402.40" cy="159.10" r="4.25" fill="#969696"/><circle cx="425.60" cy="159.10" r="4.25" fill="#969696"/><circle cx="448.80" cy="159.10" r="4.25" fill="#969696"/><circle cx="472.00" cy="159.10" r="4.25" fill="#969696"/><circle cx="495.20" cy="159.10" r="4.25" fill="#969696"/><circle cx="518.40" cy="159.10" r="4.25" fill="#969696"/><circle cx="541.60" cy="159.10" r="4.25" fill="#969696"/><circle cx="564.80" cy="159.10" r="4.25" fill="#969696"/><circle cx="588.00" cy="159.10" r="4.25" fill="#969696"/><circle cx="611.20" cy="159.10" r="4.25" fill="#969696"/><circle cx="634.40" cy="159.10" r="4.25" fill="#969696"/><circle cx="657.60" cy="159.10" r="4.25" fill="#969696"/><circle cx="680.80" cy="159.10" r="4.25" fill="#969696"/><circle cx="704.00" cy="159.10" r="4.25" fill="#969696"/><circle cx="727.20" cy="159.10" r="4.25" fill="#969696"/><circle cx="750.40" cy="159.10" r="4.25" fill="#969696"/><circle cx="773.60" cy="159.10" r="4.25" fill="#969696"/><path d="M100.80,101.45 L124.00,101.45 L147.20,101.45 L170.40,101.45 L193.60,101.45 L216.80,101.45 L240.00,98.33 L263.20,98.33 L286.40,96.26 L309.60,99.11 L332.80,99.11 L356.00,102.23 L379.20,101.45 L402.40,101.45 L425.60,101.45 L448.80,101.45 L472.00,101.45 L495.20,101.45 L518.40,101.45 L541.60,101.45 L564.80,101.45 L588.00,101.45 L611.20,101.45 L634.40,101.45 L657.60,101.45 L680.80,101.45 L704.00,101.45 L727.20,101.45 L750.40,101.45 L773.60,101.45" fill="none" stroke="#bdbdbd" stroke-width="1.3" stroke-opacity="0.78" stroke-linejoin="round"/><circle cx="100.80" cy="101.45" r="4.25" fill="#bdbdbd"/><circle cx="124.00" cy="101.45" r="4.25" fill="#bdbdbd"/><circle cx="147.20" cy="101.45" r="4.25" fill="#bdbdbd"/><circle cx="170.40" cy="101.45" r="4.25" fill="#bdbdbd"/><circle cx="193.60" cy="101.45" r="4.25" fill="#bdbdbd"/><circle cx="216.80" cy="101.45" r="4.25" fill="#bdbdbd"/><circle cx="240.00" cy="98.33" r="4.25" fill="#bdbdbd"/><circle cx="263.20" cy="98.33" r="4.25" fill="#bdbdbd"/><circle cx="286.40" cy="96.26" r="4.25" fill="#bdbdbd"/><circle cx="309.60" cy="99.11" r="4.25" fill="#bdbdbd"/><circle cx="332.80" cy="99.11" r="4.25" fill="#bdbdbd"/><circle cx="356.00" cy="102.23" r="4.25" fill="#bdbdbd"/><circle cx="379.20" cy="101.45" r="4.25" fill="#bdbdbd"/><circle cx="402.40" cy="101.45" r="4.25" fill="#bdbdbd"/><circle cx="425.60" cy="101.45" r="4.25" fill="#bdbdbd"/><circle cx="448.80" cy="101.45" r="4.25" fill="#bdbdbd"/><circle cx="472.00" cy="101.45" r="4.25" fill="#bdbdbd"/><circle cx="495.20" cy="101.45" r="4.25" fill="#bdbdbd"/><circle cx="518.40" cy="101.45" r="4.25" fill="#bdbdbd"/><circle cx="541.60" cy="101.45" r="4.25" fill="#bdbdbd"/><circle cx="564.80" cy="101.45" r="4.25" fill="#bdbdbd"/><circle cx="588.00" cy="101.45" r="4.25" fill="#bdbdbd"/><circle cx="611.20" cy="101.45" r="4.25" fill="#bdbdbd"/><circle cx="634.40" cy="101.45" r="4.25" fill="#bdbdbd"/><circle cx="657.60" cy="101.45" r="4.25" fill="#bdbdbd"/><circle cx="680.80" cy="101.45" r="4.25" fill="#bdbdbd"/><circle cx="704.00" cy="101.45" r="4.25" fill="#bdbdbd"/><circle cx="727.20" cy="101.45" r="4.25" fill="#bdbdbd"/><circle cx="750.40" cy="101.45" r="4.25" fill="#bdbdbd"/><circle cx="773.60" cy="101.45" r="4.25" fill="#bdbdbd"/><path d="M100.80,104.31 L124.00,104.31 L147.20,104.31 L170.40,104.31 L193.60,104.31 L216.80,104.31 L240.00,101.19 L263.20,101.19 L286.40,99.11 L309.60,101.97 L332.80,101.97 L356.00,105.08 L379.20,104.31 L402.40,104.31 L425.60,104.31 L448.80,104.31 L472.00,104.31 L495.20,104.31 L518.40,104.31 L541.60,104.31 L564.80,104.31 L588.00,104.31 L611.20,104.31 L634.40,104.31 L657.60,104.31 L680.80,104.31 L704.00,104.31 L727.20,104.31 L750.40,104.31 L773.60,104.31" fill="none" stroke="#bdbdbd" stroke-width="1.3" stroke-opacity="0.78" stroke-linejoin="round"/><circle cx="100.80" cy="104.31" r="4.25" fill="#bdbdbd"/><circle cx="124.00" cy="104.31" r="4.25" fill="#bdbdbd"/><circle cx="147.20" cy="104.31" r="4.25" fill="#bdbdbd"/><circle cx="170.40" cy="104.31" r="4.25" fill="#bdbdbd"/><circle cx="193.60" cy="104.31" r="4.25" fill="#bdbdbd"/><circle cx="216.80" cy="104.31" r="4.25" fill="#bdbdbd"/><circle cx="240.00" cy="101.19" r="4.25" fill="#bdbdbd"/><circle cx="263.20" cy="101.19" r="4.25" fill="#bdbdbd"/><circle cx="286.40" cy="99.11" r="4.25" fill="#bdbdbd"/><circle cx="309.60" cy="101.97" r="4.25" fill="#bdbdbd"/><circle cx="332.80" cy="101.97" r="4.25" fill="#bdbdbd"/><circle cx="356.00" cy="105.08" r="4.25" fill="#bdbdbd"/><circle cx="379.20" cy="104.31" r="4.25" fill="#bdbdbd"/><circle cx="402.40" cy="104.31" r="4.25" fill="#bdbdbd"/><circle cx="425.60" cy="104.31" r="4.25" fill="#bdbdbd"/><circle cx="448.80" cy="104.31" r="4.25" fill="#bdbdbd"/><circle cx="472.00" cy="104.31" r="4.25" fill="#bdbdbd"/><circle cx="495.20" cy="104.31" r="4.25" fill="#bdbdbd"/><circle cx="518.40" cy="104.31" r="4.25" fill="#bdbdbd"/><circle cx="541.60" cy="104.31" r="4.25" fill="#bdbdbd"/><circle cx="564.80" cy="104.31" r="4.25" fill="#bdbdbd"/><circle cx="588.00" cy="104.31" r="4.25" fill="#bdbdbd"/><circle cx="611.20" cy="104.31" r="4.25" fill="#bdbdbd"/><circle cx="634.40" cy="104.31" r="4.25" fill="#bdbdbd"/><circle cx="657.60" cy="104.31" r="4.25" fill="#bdbdbd"/><circle cx="680.80" cy="104.31" r="4.25" fill="#bdbdbd"/><circle cx="704.00" cy="104.31" r="4.25" fill="#bdbdbd"/><circle cx="727.20" cy="104.31" r="4.25" fill="#bdbdbd"/><circle cx="750.40" cy="104.31" r="4.25" fill="#bdbdbd"/><circle cx="773.60" cy="104.31" r="4.25" fill="#bdbdbd"/><path d="M100.80,158.84 L124.00,158.84 L147.20,158.84 L170.40,158.84 L193.60,158.84 L216.80,158.84 L240.00,155.73 L263.20,155.73 L286.40,153.65 L309.60,156.51 L332.80,156.51 L356.00,159.62 L379.20,158.84 L402.40,158.84 L425.60,158.84 L448.80,158.84 L472.00,158.84 L495.20,158.84 L518.40,158.84 L541.60,158.84 L564.80,158.84 L588.00,158.84 L611.20,158.84 L634.40,158.84 L657.60,158.84 L680.80,158.84 L704.00,158.84 L727.20,158.84 L750.40,158.84 L773.60,158.84" fill="none" stroke="#d9d9d9" stroke-width="1.3" stroke-opacity="0.78" stroke-linejoin="round"/><circle cx="100.80" cy="158.84" r="4.25" fill="#d9d9d9"/><circle cx="124.00" cy="158.84" r="4.25" fill="#d9d9d9"/><circle cx="147.20" cy="158.84" r="4.25" fill="#d9d9d9"/><circle cx="170.40" cy="158.84" r="4.25" fill="#d9d9d9"/><circle cx="193.60" cy="158.84" r="4.25" fill="#d9d9d9"/><circle cx="216.80" cy="158.84" r="4.25" fill="#d9d9d9"/><circle cx="240.00" cy="155.73" r="4.25" fill="#d9d9d9"/><circle cx="263.20" cy="155.73" r="4.25" fill="#d9d9d9"/><circle cx="286.40" cy="153.65" r="4.25" fill="#d9d9d9"/><circle cx="309.60" cy="156.51" r="4.25" fill="#d9d9d9"/><circle cx="332.80" cy="156.51" r="4.25" fill="#d9d9d9"/><circle cx="356.00" cy="159.62" r="4.25" fill="#d9d9d9"/><circle cx="379.20" cy="158.84" r="4.25" fill="#d9d9d9"/><circle cx="402.40" cy="158.84" r="4.25" fill="#d9d9d9"/><circle cx="425.60" cy="158.84" r="4.25" fill="#d9d9d9"/><circle cx="448.80" cy="158.84" r="4.25" fill="#d9d9d9"/><circle cx="472.00" cy="158.84" r="4.25" fill="#d9d9d9"/><circle cx="495.20" cy="158.84" r="4.25" fill="#d9d9d9"/><circle cx="518.40" cy="158.84" r="4.25" fill="#d9d9d9"/><circle cx="541.60" cy="158.84" r="4.25" fill="#d9d9d9"/><circle cx="564.80" cy="158.84" r="4.25" fill="#d9d9d9"/><circle cx="588.00" cy="158.84" r="4.25" fill="#d9d9d9"/><circle cx="611.20" cy="158.84" r="4.25" fill="#d9d9d9"/><circle cx="634.40" cy="158.84" r="4.25" fill="#d9d9d9"/><circle cx="657.60" cy="158.84" r="4.25" fill="#d9d9d9"/><circle cx="680.80" cy="158.84" r="4.25" fill="#d9d9d9"/><circle cx="704.00" cy="158.84" r="4.25" fill="#d9d9d9"/><circle cx="727.20" cy="158.84" r="4.25" fill="#d9d9d9"/><circle cx="750.40" cy="158.84" r="4.25" fill="#d9d9d9"/><circle cx="773.60" cy="158.84" r="4.25" fill="#d9d9d9"/><path d="M100.80,167.93 L124.00,167.93 L147.20,167.93 L170.40,167.93 L193.60,167.93 L216.80,167.93 L240.00,164.82 L263.20,164.82 L286.40,162.74 L309.60,165.60 L332.80,165.60 L356.00,168.71 L379.20,167.93 L402.40,167.93 L425.60,167.93 L448.80,167.93 L472.00,167.93 L495.20,167.93 L518.40,167.93 L541.60,167.93 L564.80,167.93 L588.00,167.93 L611.20,167.93 L634.40,167.93 L657.60,167.93 L680.80,167.93 L704.00,167.93 L727.20,167.93 L750.40,167.93 L773.60,167.93" fill="none" stroke="#d9d9d9" stroke-width="1.3" stroke-opacity="0.78" stroke-linejoin="round"/><circle cx="100.80" cy="167.93" r="4.25" fill="#d9d9d9"/><circle cx="124.00" cy="167.93" r="4.25" fill="#d9d9d9"/><circle cx="147.20" cy="167.93" r="4.25" fill="#d9d9d9"/><circle cx="170.40" cy="167.93" r="4.25" fill="#d9d9d9"/><circle cx="193.60" cy="167.93" r="4.25" fill="#d9d9d9"/><circle cx="216.80" cy="167.93" r="4.25" fill="#d9d9d9"/><circle cx="240.00" cy="164.82" r="4.25" fill="#d9d9d9"/><circle cx="263.20" cy="164.82" r="4.25" fill="#d9d9d9"/><circle cx="286.40" cy="162.74" r="4.25" fill="#d9d9d9"/><circle cx="309.60" cy="165.60" r="4.25" fill="#d9d9d9"/><circle cx="332.80" cy="165.60" r="4.25" fill="#d9d9d9"/><circle cx="356.00" cy="168.71" r="4.25" fill="#d9d9d9"/><circle cx="379.20" cy="167.93" r="4.25" fill="#d9d9d9"/><circle cx="402.40" cy="167.93" r="4.25" fill="#d9d9d9"/><circle cx="425.60" cy="167.93" r="4.25" fill="#d9d9d9"/><circle cx="448.80" cy="167.93" r="4.25" fill="#d9d9d9"/><circle cx="472.00" cy="167.93" r="4.25" fill="#d9d9d9"/><circle cx="495.20" cy="167.93" r="4.25" fill="#d9d9d9"/><circle cx="518.40" cy="167.93" r="4.25" fill="#d9d9d9"/><circle cx="541.60" cy="167.93" r="4.25" fill="#d9d9d9"/><circle cx="564.80" cy="167.93" r="4.25" fill="#d9d9d9"/><circle cx="588.00" cy="167.93" r="4.25" fill="#d9d9d9"/><circle cx="611.20" cy="167.93" r="4.25" fill="#d9d9d9"/><circle cx="634.40" cy="167.93" r="4.25" fill="#d9d9d9"/><circle cx="657.60" cy="167.93" r="4.25" fill="#d9d9d9"/><circle cx="680.80" cy="167.93" r="4.25" fill="#d9d9d9"/><circle cx="704.00" cy="167.93" r="4.25" fill="#d9d9d9"/><circle cx="727.20" cy="167.93" r="4.25" fill="#d9d9d9"/><circle cx="750.40" cy="167.93" r="4.25" fill="#d9d9d9"/><circle cx="773.60" cy="167.93" r="4.25" fill="#d9d9d9"/></g><line x1="67.5" y1="19.9" x2="807.5" y2="19.9" stroke="#e6e6e6" stroke-width="1.1"/><line x1="67.5" y1="218.5" x2="807.5" y2="218.5" stroke="#c8c8c8" stroke-width="1.1"/><line x1="67.5" y1="19.349999999999998" x2="67.5" y2="219.05" stroke="#555" stroke-width="1.2"/><line x1="807.5" y1="19.349999999999998" x2="807.5" y2="219.05" stroke="#6a6a6a" stroke-width="1.2"/><line x1="65.5" y1="40.16" x2="67.5" y2="40.16" stroke="#444" stroke-width="1.0"/><line x1="65.5" y1="66.13" x2="67.5" y2="66.13" stroke="#444" stroke-width="1.0"/><line x1="65.5" y1="92.10" x2="67.5" y2="92.10" stroke="#444" stroke-width="1.0"/><line x1="65.5" y1="118.07" x2="67.5" y2="118.07" stroke="#444" stroke-width="1.0"/><line x1="65.5" y1="144.04" x2="67.5" y2="144.04" stroke="#444" stroke-width="1.0"/><line x1="65.5" y1="170.01" x2="67.5" y2="170.01" stroke="#444" stroke-width="1.0"/><line x1="65.5" y1="195.98" x2="67.5" y2="195.98" stroke="#444" stroke-width="1.0"/><line x1="100.80" y1="218.5" x2="100.80" y2="220.5" stroke="#444" stroke-width="1.0"/><line x1="124.00" y1="218.5" x2="124.00" y2="220.5" stroke="#444" stroke-width="1.0"/><line x1="147.20" y1="218.5" x2="147.20" y2="220.5" stroke="#444" stroke-width="1.0"/><line x1="170.40" y1="218.5" x2="170.40" y2="220.5" stroke="#444" stroke-width="1.0"/><line x1="193.60" y1="218.5" x2="193.60" y2="220.5" stroke="#444" stroke-width="1.0"/><line x1="216.80" y1="218.5" x2="216.80" y2="220.5" stroke="#444" stroke-width="1.0"/><line x1="240.00" y1="218.5" x2="240.00" y2="220.5" stroke="#444" stroke-width="1.0"/><line x1="263.20" y1="218.5" x2="263.20" y2="220.5" stroke="#444" stroke-width="1.0"/><line x1="286.40" y1="218.5" x2="286.40" y2="220.5" stroke="#444" stroke-width="1.0"/><line x1="309.60" y1="218.5" x2="309.60" y2="220.5" stroke="#444" stroke-width="1.0"/><line x1="332.80" y1="218.5" x2="332.80" y2="220.5" stroke="#444" stroke-width="1.0"/><line x1="356.00" y1="218.5" x2="356.00" y2="220.5" stroke="#444" stroke-width="1.0"/><line x1="379.20" y1="218.5" x2="379.20" y2="220.5" stroke="#444" stroke-width="1.0"/><line x1="402.40" y1="218.5" x2="402.40" y2="220.5" stroke="#444" stroke-width="1.0"/><line x1="425.60" y1="218.5" x2="425.60" y2="220.5" stroke="#444" stroke-width="1.0"/><line x1="448.80" y1="218.5" x2="448.80" y2="220.5" stroke="#444" stroke-width="1.0"/><line x1="472.00" y1="218.5" x2="472.00" y2="220.5" stroke="#444" stroke-width="1.0"/><line x1="495.20" y1="218.5" x2="495.20" y2="220.5" stroke="#444" stroke-width="1.0"/><line x1="518.40" y1="218.5" x2="518.40" y2="220.5" stroke="#444" stroke-width="1.0"/><line x1="541.60" y1="218.5" x2="541.60" y2="220.5" stroke="#444" stroke-width="1.0"/><line x1="564.80" y1="218.5" x2="564.80" y2="220.5" stroke="#444" stroke-width="1.0"/><line x1="588.00" y1="218.5" x2="588.00" y2="220.5" stroke="#444" stroke-width="1.0"/><line x1="611.20" y1="218.5" x2="611.20" y2="220.5" stroke="#444" stroke-width="1.0"/><line x1="634.40" y1="218.5" x2="634.40" y2="220.5" stroke="#444" stroke-width="1.0"/><line x1="657.60" y1="218.5" x2="657.60" y2="220.5" stroke="#444" stroke-width="1.0"/><line x1="680.80" y1="218.5" x2="680.80" y2="220.5" stroke="#444" stroke-width="1.0"/><line x1="704.00" y1="218.5" x2="704.00" y2="220.5" stroke="#444" stroke-width="1.0"/><line x1="727.20" y1="218.5" x2="727.20" y2="220.5" stroke="#444" stroke-width="1.0"/><line x1="750.40" y1="218.5" x2="750.40" y2="220.5" stroke="#444" stroke-width="1.0"/><line x1="773.60" y1="218.5" x2="773.60" y2="220.5" stroke="#444" stroke-width="1.0"/>
<clipPath id="c2"><rect x="67.5" y="258.1" width="740.0" height="198.29999999999995"/></clipPath><g clip-path="url(#c2)"><path d="M100.80,285.21 L124.00,285.21 L147.20,285.21 L170.40,285.21 L193.60,282.06 L216.80,282.06 L240.00,282.06 L263.20,282.06 L286.40,285.21 L309.60,285.21 L332.80,285.21 L356.00,285.21 L379.20,285.21 L402.40,285.21 L425.60,285.21 L448.80,285.21 L472.00,285.21 L495.20,285.21 L518.40,285.21 L541.60,285.21 L564.80,285.21 L588.00,285.21 L611.20,285.21 L634.40,285.21 L657.60,285.21 L680.80,282.85 L704.00,282.85 L727.20,282.85 L750.40,285.21 L773.60,282.85" fill="none" stroke="#3182bd" stroke-width="1.3" stroke-opacity="0.78" stroke-linejoin="round"/><circle cx="100.80" cy="285.21" r="4.25" fill="#3182bd"/><circle cx="124.00" cy="285.21" r="4.25" fill="#3182bd"/><circle cx="147.20" cy="285.21" r="4.25" fill="#3182bd"/><circle cx="170.40" cy="285.21" r="4.25" fill="#3182bd"/><circle cx="193.60" cy="282.06" r="4.25" fill="#3182bd"/><circle cx="216.80" cy="282.06" r="4.25" fill="#3182bd"/><circle cx="240.00" cy="282.06" r="4.25" fill="#3182bd"/><circle cx="263.20" cy="282.06" r="4.25" fill="#3182bd"/><circle cx="286.40" cy="285.21" r="4.25" fill="#3182bd"/><circle cx="309.60" cy="285.21" r="4.25" fill="#3182bd"/><circle cx="332.80" cy="285.21" r="4.25" fill="#3182bd"/><circle cx="356.00" cy="285.21" r="4.25" fill="#3182bd"/><circle cx="379.20" cy="285.21" r="4.25" fill="#3182bd"/><circle cx="402.40" cy="285.21" r="4.25" fill="#3182bd"/><circle cx="425.60" cy="285.21" r="4.25" fill="#3182bd"/><circle cx="448.80" cy="285.21" r="4.25" fill="#3182bd"/><circle cx="472.00" cy="285.21" r="4.25" fill="#3182bd"/><circle cx="495.20" cy="285.21" r="4.25" fill="#3182bd"/><circle cx="518.40" cy="285.21" r="4.25" fill="#3182bd"/><circle cx="541.60" cy="285.21" r="4.25" fill="#3182bd"/><circle cx="564.80" cy="285.21" r="4.25" fill="#3182bd"/><circle cx="588.00" cy="285.21" r="4.25" fill="#3182bd"/><circle cx="611.20" cy="285.21" r="4.25" fill="#3182bd"/><circle cx="634.40" cy="285.21" r="4.25" fill="#3182bd"/><circle cx="657.60" cy="285.21" r="4.25" fill="#3182bd"/><circle cx="680.80" cy="282.85" r="4.25" fill="#3182bd"/><circle cx="704.00" cy="282.85" r="4.25" fill="#3182bd"/><circle cx="727.20" cy="282.85" r="4.25" fill="#3182bd"/><circle cx="750.40" cy="285.21" r="4.25" fill="#3182bd"/><circle cx="773.60" cy="282.85" r="4.25" fill="#3182bd"/><path d="M100.80,300.93 L124.00,300.93 L147.20,300.93 L170.40,300.93 L193.60,297.78 L216.80,297.78 L240.00,297.78 L263.20,297.78 L286.40,300.93 L309.60,300.93 L332.80,300.93 L356.00,300.93 L379.20,300.93 L402.40,300.93 L425.60,300.93 L448.80,300.93 L472.00,300.93 L495.20,300.93 L518.40,300.93 L541.60,300.93 L564.80,300.93 L588.00,300.93 L611.20,300.93 L634.40,300.93 L657.60,300.93 L680.80,298.57 L704.00,298.57 L727.20,298.57 L750.40,300.93 L773.60,298.57" fill="none" stroke="#3182bd" stroke-width="1.3" stroke-opacity="0.78" stroke-linejoin="round"/><circle cx="100.80" cy="300.93" r="4.25" fill="#3182bd"/><circle cx="124.00" cy="300.93" r="4.25" fill="#3182bd"/><circle cx="147.20" cy="300.93" r="4.25" fill="#3182bd"/><circle cx="170.40" cy="300.93" r="4.25" fill="#3182bd"/><circle cx="193.60" cy="297.78" r="4.25" fill="#3182bd"/><circle cx="216.80" cy="297.78" r="4.25" fill="#3182bd"/><circle cx="240.00" cy="297.78" r="4.25" fill="#3182bd"/><circle cx="263.20" cy="297.78" r="4.25" fill="#3182bd"/><circle cx="286.40" cy="300.93" r="4.25" fill="#3182bd"/><circle cx="309.60" cy="300.93" r="4.25" fill="#3182bd"/><circle cx="332.80" cy="300.93" r="4.25" fill="#3182bd"/><circle cx="356.00" cy="300.93" r="4.25" fill="#3182bd"/><circle cx="379.20" cy="300.93" r="4.25" fill="#3182bd"/><circle cx="402.40" cy="300.93" r="4.25" fill="#3182bd"/><circle cx="425.60" cy="300.93" r="4.25" fill="#3182bd"/><circle cx="448.80" cy="300.93" r="4.25" fill="#3182bd"/><circle cx="472.00" cy="300.93" r="4.25" fill="#3182bd"/><circle cx="495.20" cy="300.93" r="4.25" fill="#3182bd"/><circle cx="518.40" cy="300.93" r="4.25" fill="#3182bd"/><circle cx="541.60" cy="300.93" r="4.25" fill="#3182bd"/><circle cx="564.80" cy="300.93" r="4.25" fill="#3182bd"/><circle cx="588.00" cy="300.93" r="4.25" fill="#3182bd"/><circle cx="611.20" cy="300.93" r="4.25" fill="#3182bd"/><circle cx="634.40" cy="300.93" r="4.25" fill="#3182bd"/><circle cx="657.60" cy="300.93" r="4.25" fill="#3182bd"/><circle cx="680.80" cy="298.57" r="4.25" fill="#3182bd"/><circle cx="704.00" cy="298.57" r="4.25" fill="#3182bd"/><circle cx="727.20" cy="298.57" r="4.25" fill="#3182bd"/><circle cx="750.40" cy="300.93" r="4.25" fill="#3182bd"/><circle cx="773.60" cy="298.57" r="4.25" fill="#3182bd"/><path d="M100.80,292.54 L124.00,292.54 L147.20,292.54 L170.40,292.54 L193.60,289.40 L216.80,289.40 L240.00,289.40 L263.20,289.40 L286.40,292.54 L309.60,292.54 L332.80,292.54 L356.00,292.54 L379.20,292.54 L402.40,292.54 L425.60,292.54 L448.80,292.54 L472.00,292.54 L495.20,292.54 L518.40,292.54 L541.60,292.54 L564.80,292.54 L588.00,292.54 L611.20,292.54 L634.40,292.54 L657.60,292.54 L680.80,290.19 L704.00,290.19 L727.20,290.19 L750.40,292.54 L773.60,290.19" fill="none" stroke="#6baed6" stroke-width="1.3" stroke-opacity="0.78" stroke-linejoin="round"/><circle cx="100.80" cy="292.54" r="4.25" fill="#6baed6"/><circle cx="124.00" cy="292.54" r="4.25" fill="#6baed6"/><circle cx="147.20" cy="292.54" r="4.25" fill="#6baed6"/><circle cx="170.40" cy="292.54" r="4.25" fill="#6baed6"/><circle cx="193.60" cy="289.40" r="4.25" fill="#6baed6"/><circle cx="216.80" cy="289.40" r="4.25" fill="#6baed6"/><circle cx="240.00" cy="289.40" r="4.25" fill="#6baed6"/><circle cx="263.20" cy="289.40" r="4.25" fill="#6baed6"/><circle cx="286.40" cy="292.54" r="4.25" fill="#6baed6"/><circle cx="309.60" cy="292.54" r="4.25" fill="#6baed6"/><circle cx="332.80" cy="292.54" r="4.25" fill="#6baed6"/><circle cx="356.00" cy="292.54" r="4.25" fill="#6baed6"/><circle cx="379.20" cy="292.54" r="4.25" fill="#6baed6"/><circle cx="402.40" cy="292.54" r="4.25" fill="#6baed6"/><circle cx="425.60" cy="292.54" r="4.25" fill="#6baed6"/><circle cx="448.80" cy="292.54" r="4.25" fill="#6baed6"/><circle cx="472.00" cy="292.54" r="4.25" fill="#6baed6"/><circle cx="495.20" cy="292.54" r="4.25" fill="#6baed6"/><circle cx="518.40" cy="292.54" r="4.25" fill="#6baed6"/><circle cx="541.60" cy="292.54" r="4.25" fill="#6baed6"/><circle cx="564.80" cy="292.54" r="4.25" fill="#6baed6"/><circle cx="588.00" cy="292.54" r="4.25" fill="#6baed6"/><circle cx="611.20" cy="292.54" r="4.25" fill="#6baed6"/><circle cx="634.40" cy="292.54" r="4.25" fill="#6baed6"/><circle cx="657.60" cy="292.54" r="4.25" fill="#6baed6"/><circle cx="680.80" cy="290.19" r="4.25" fill="#6baed6"/><circle cx="704.00" cy="290.19" r="4.25" fill="#6baed6"/><circle cx="727.20" cy="290.19" r="4.25" fill="#6baed6"/><circle cx="750.40" cy="292.54" r="4.25" fill="#6baed6"/><circle cx="773.60" cy="290.19" r="4.25" fill="#6baed6"/><path d="M100.80,306.95 L124.00,306.95 L147.20,306.95 L170.40,306.95 L193.60,303.81 L216.80,303.81 L240.00,303.81 L263.20,303.81 L286.40,306.95 L309.60,306.95 L332.80,306.95 L356.00,306.95 L379.20,306.95 L402.40,306.95 L425.60,306.95 L448.80,306.95 L472.00,306.95 L495.20,306.95 L518.40,306.95 L541.60,306.95 L564.80,306.95 L588.00,306.95 L611.20,306.95 L634.40,306.95 L657.60,306.95 L680.80,304.60 L704.00,304.60 L727.20,304.60 L750.40,306.95 L773.60,304.60" fill="none" stroke="#6baed6" stroke-width="1.3" stroke-opacity="0.78" stroke-linejoin="round"/><circle cx="100.80" cy="306.95" r="4.25" fill="#6baed6"/><circle cx="124.00" cy="306.95" r="4.25" fill="#6baed6"/><circle cx="147.20" cy="306.95" r="4.25" fill="#6baed6"/><circle cx="170.40" cy="306.95" r="4.25" fill="#6baed6"/><circle cx="193.60" cy="303.81" r="4.25" fill="#6baed6"/><circle cx="216.80" cy="303.81" r="4.25" fill="#6baed6"/><circle cx="240.00" cy="303.81" r="4.25" fill="#6baed6"/><circle cx="263.20" cy="303.81" r="4.25" fill="#6baed6"/><circle cx="286.40" cy="306.95" r="4.25" fill="#6baed6"/><circle cx="309.60" cy="306.95" r="4.25" fill="#6baed6"/><circle cx="332.80" cy="306.95" r="4.25" fill="#6baed6"/><circle cx="356.00" cy="306.95" r="4.25" fill="#6baed6"/><circle cx="379.20" cy="306.95" r="4.25" fill="#6baed6"/><circle cx="402.40" cy="306.95" r="4.25" fill="#6baed6"/><circle cx="425.60" cy="306.95" r="4.25" fill="#6baed6"/><circle cx="448.80" cy="306.95" r="4.25" fill="#6baed6"/><circle cx="472.00" cy="306.95" r="4.25" fill="#6baed6"/><circle cx="495.20" cy="306.95" r="4.25" fill="#6baed6"/><circle cx="518.40" cy="306.95" r="4.25" fill="#6baed6"/><circle cx="541.60" cy="306.95" r="4.25" fill="#6baed6"/><circle cx="564.80" cy="306.95" r="4.25" fill="#6baed6"/><circle cx="588.00" cy="306.95" r="4.25" fill="#6baed6"/><circle cx="611.20" cy="306.95" r="4.25" fill="#6baed6"/><circle cx="634.40" cy="306.95" r="4.25" fill="#6baed6"/><circle cx="657.60" cy="306.95" r="4.25" fill="#6baed6"/><circle cx="680.80" cy="304.60" r="4.25" fill="#6baed6"/><circle cx="704.00" cy="304.60" r="4.25" fill="#6baed6"/><circle cx="727.20" cy="304.60" r="4.25" fill="#6baed6"/><circle cx="750.40" cy="306.95" r="4.25" fill="#6baed6"/><circle cx="773.60" cy="304.60" r="4.25" fill="#6baed6"/><path d="M100.80,309.05 L124.00,309.05 L147.20,309.05 L170.40,309.05 L193.60,305.91 L216.80,305.91 L240.00,305.91 L263.20,305.91 L286.40,309.05 L309.60,309.05 L332.80,309.05 L356.00,309.05 L379.20,309.05 L402.40,309.05 L425.60,309.05 L448.80,309.05 L472.00,309.05 L495.20,309.05 L518.40,309.05 L541.60,309.05 L564.80,309.05 L588.00,309.05 L611.20,309.05 L634.40,309.05 L657.60,309.05 L680.80,306.69 L704.00,306.69 L727.20,306.69 L750.40,309.05 L773.60,306.69" fill="none" stroke="#9ecae1" stroke-width="1.3" stroke-opacity="0.78" stroke-linejoin="round"/><circle cx="100.80" cy="309.05" r="4.25" fill="#9ecae1"/><circle cx="124.00" cy="309.05" r="4.25" fill="#9ecae1"/><circle cx="147.20" cy="309.05" r="4.25" fill="#9ecae1"/><circle cx="170.40" cy="309.05" r="4.25" fill="#9ecae1"/><circle cx="193.60" cy="305.91" r="4.25" fill="#9ecae1"/><circle cx="216.80" cy="305.91" r="4.25" fill="#9ecae1"/><circle cx="240.00" cy="305.91" r="4.25" fill="#9ecae1"/><circle cx="263.20" cy="305.91" r="4.25" fill="#9ecae1"/><circle cx="286.40" cy="309.05" r="4.25" fill="#9ecae1"/><circle cx="309.60" cy="309.05" r="4.25" fill="#9ecae1"/><circle cx="332.80" cy="309.05" r="4.25" fill="#9ecae1"/><circle cx="356.00" cy="309.05" r="4.25" fill="#9ecae1"/><circle cx="379.20" cy="309.05" r="4.25" fill="#9ecae1"/><circle cx="402.40" cy="309.05" r="4.25" fill="#9ecae1"/><circle cx="425.60" cy="309.05" r="4.25" fill="#9ecae1"/><circle cx="448.80" cy="309.05" r="4.25" fill="#9ecae1"/><circle cx="472.00" cy="309.05" r="4.25" fill="#9ecae1"/><circle cx="495.20" cy="309.05" r="4.25" fill="#9ecae1"/><circle cx="518.40" cy="309.05" r="4.25" fill="#9ecae1"/><circle cx="541.60" cy="309.05" r="4.25" fill="#9ecae1"/><circle cx="564.80" cy="309.05" r="4.25" fill="#9ecae1"/><circle cx="588.00" cy="309.05" r="4.25" fill="#9ecae1"/><circle cx="611.20" cy="309.05" r="4.25" fill="#9ecae1"/><circle cx="634.40" cy="309.05" r="4.25" fill="#9ecae1"/><circle cx="657.60" cy="309.05" r="4.25" fill="#9ecae1"/><circle cx="680.80" cy="306.69" r="4.25" fill="#9ecae1"/><circle cx="704.00" cy="306.69" r="4.25" fill="#9ecae1"/><circle cx="727.20" cy="306.69" r="4.25" fill="#9ecae1"/><circle cx="750.40" cy="309.05" r="4.25" fill="#9ecae1"/><circle cx="773.60" cy="306.69" r="4.25" fill="#9ecae1"/><path d="M100.80,293.07 L124.00,293.07 L147.20,293.07 L170.40,293.07 L193.60,289.92 L216.80,289.92 L240.00,289.92 L263.20,289.92 L286.40,293.07 L309.60,293.07 L332.80,293.07 L356.00,293.07 L379.20,293.07 L402.40,293.07 L425.60,293.07 L448.80,293.07 L472.00,293.07 L495.20,293.07 L518.40,293.07 L541.60,293.07 L564.80,293.07 L588.00,293.07 L611.20,293.07 L634.40,293.07 L657.60,293.07 L680.80,290.71 L704.00,290.71 L727.20,290.71 L750.40,293.07 L773.60,290.71" fill="none" stroke="#9ecae1" stroke-width="1.3" stroke-opacity="0.78" stroke-linejoin="round"/><circle cx="100.80" cy="293.07" r="4.25" fill="#9ecae1"/><circle cx="124.00" cy="293.07" r="4.25" fill="#9ecae1"/><circle cx="147.20" cy="293.07" r="4.25" fill="#9ecae1"/><circle cx="170.40" cy="293.07" r="4.25" fill="#9ecae1"/><circle cx="193.60" cy="289.92" r="4.25" fill="#9ecae1"/><circle cx="216.80" cy="289.92" r="4.25" fill="#9ecae1"/><circle cx="240.00" cy="289.92" r="4.25" fill="#9ecae1"/><circle cx="263.20" cy="289.92" r="4.25" fill="#9ecae1"/><circle cx="286.40" cy="293.07" r="4.25" fill="#9ecae1"/><circle cx="309.60" cy="293.07" r="4.25" fill="#9ecae1"/><circle cx="332.80" cy="293.07" r="4.25" fill="#9ecae1"/><circle cx="356.00" cy="293.07" r="4.25" fill="#9ecae1"/><circle cx="379.20" cy="293.07" r="4.25" fill="#9ecae1"/><circle cx="402.40" cy="293.07" r="4.25" fill="#9ecae1"/><circle cx="425.60" cy="293.07" r="4.25" fill="#9ecae1"/><circle cx="448.80" cy="293.07" r="4.25" fill="#9ecae1"/><circle cx="472.00" cy="293.07" r="4.25" fill="#9ecae1"/><circle cx="495.20" cy="293.07" r="4.25" fill="#9ecae1"/><circle cx="518.40" cy="293.07" r="4.25" fill="#9ecae1"/><circle cx="541.60" cy="293.07" r="4.25" fill="#9ecae1"/><circle cx="564.80" cy="293.07" r="4.25" fill="#9ecae1"/><circle cx="588.00" cy="293.07" r="4.25" fill="#9ecae1"/><circle cx="611.20" cy="293.07" r="4.25" fill="#9ecae1"/><circle cx="634.40" cy="293.07" r="4.25" fill="#9ecae1"/><circle cx="657.60" cy="293.07" r="4.25" fill="#9ecae1"/><circle cx="680.80" cy="290.71" r="4.25" fill="#9ecae1"/><circle cx="704.00" cy="290.71" r="4.25" fill="#9ecae1"/><circle cx="727.20" cy="290.71" r="4.25" fill="#9ecae1"/><circle cx="750.40" cy="293.07" r="4.25" fill="#9ecae1"/><circle cx="773.60" cy="290.71" r="4.25" fill="#9ecae1"/><path d="M100.80,310.36 L124.00,310.36 L147.20,310.36 L170.40,310.36 L193.60,307.22 L216.80,307.22 L240.00,307.22 L263.20,307.22 L286.40,310.36 L309.60,310.36 L332.80,310.36 L356.00,310.36 L379.20,310.36 L402.40,310.36 L425.60,310.36 L448.80,310.36 L472.00,310.36 L495.20,310.36 L518.40,310.36 L541.60,310.36 L564.80,310.36 L588.00,310.36 L611.20,310.36 L634.40,310.36 L657.60,310.36 L680.80,308.00 L704.00,308.00 L727.20,308.00 L750.40,310.36 L773.60,308.00" fill="none" stroke="#c6dbef" stroke-width="1.3" stroke-opacity="0.78" stroke-linejoin="round"/><circle cx="100.80" cy="310.36" r="4.25" fill="#c6dbef"/><circle cx="124.00" cy="310.36" r="4.25" fill="#c6dbef"/><circle cx="147.20" cy="310.36" r="4.25" fill="#c6dbef"/><circle cx="170.40" cy="310.36" r="4.25" fill="#c6dbef"/><circle cx="193.60" cy="307.22" r="4.25" fill="#c6dbef"/><circle cx="216.80" cy="307.22" r="4.25" fill="#c6dbef"/><circle cx="240.00" cy="307.22" r="4.25" fill="#c6dbef"/><circle cx="263.20" cy="307.22" r="4.25" fill="#c6dbef"/><circle cx="286.40" cy="310.36" r="4.25" fill="#c6dbef"/><circle cx="309.60" cy="310.36" r="4.25" fill="#c6dbef"/><circle cx="332.80" cy="310.36" r="4.25" fill="#c6dbef"/><circle cx="356.00" cy="310.36" r="4.25" fill="#c6dbef"/><circle cx="379.20" cy="310.36" r="4.25" fill="#c6dbef"/><circle cx="402.40" cy="310.36" r="4.25" fill="#c6dbef"/><circle cx="425.60" cy="310.36" r="4.25" fill="#c6dbef"/><circle cx="448.80" cy="310.36" r="4.25" fill="#c6dbef"/><circle cx="472.00" cy="310.36" r="4.25" fill="#c6dbef"/><circle cx="495.20" cy="310.36" r="4.25" fill="#c6dbef"/><circle cx="518.40" cy="310.36" r="4.25" fill="#c6dbef"/><circle cx="541.60" cy="310.36" r="4.25" fill="#c6dbef"/><circle cx="564.80" cy="310.36" r="4.25" fill="#c6dbef"/><circle cx="588.00" cy="310.36" r="4.25" fill="#c6dbef"/><circle cx="611.20" cy="310.36" r="4.25" fill="#c6dbef"/><circle cx="634.40" cy="310.36" r="4.25" fill="#c6dbef"/><circle cx="657.60" cy="310.36" r="4.25" fill="#c6dbef"/><circle cx="680.80" cy="308.00" r="4.25" fill="#c6dbef"/><circle cx="704.00" cy="308.00" r="4.25" fill="#c6dbef"/><circle cx="727.20" cy="308.00" r="4.25" fill="#c6dbef"/><circle cx="750.40" cy="310.36" r="4.25" fill="#c6dbef"/><circle cx="773.60" cy="308.00" r="4.25" fill="#c6dbef"/><path d="M100.80,307.74 L124.00,307.74 L147.20,307.74 L170.40,307.74 L193.60,304.60 L216.80,304.60 L240.00,304.60 L263.20,304.60 L286.40,307.74 L309.60,307.74 L332.80,307.74 L356.00,307.74 L379.20,307.74 L402.40,307.74 L425.60,307.74 L448.80,307.74 L472.00,307.74 L495.20,307.74 L518.40,307.74 L541.60,307.74 L564.80,307.74 L588.00,307.74 L611.20,307.74 L634.40,307.74 L657.60,307.74 L680.80,305.38 L704.00,305.38 L727.20,305.38 L750.40,307.74 L773.60,305.38" fill="none" stroke="#c6dbef" stroke-width="1.3" stroke-opacity="0.78" stroke-linejoin="round"/><circle cx="100.80" cy="307.74" r="4.25" fill="#c6dbef"/><circle cx="124.00" cy="307.74" r="4.25" fill="#c6dbef"/><circle cx="147.20" cy="307.74" r="4.25" fill="#c6dbef"/><circle cx="170.40" cy="307.74" r="4.25" fill="#c6dbef"/><circle cx="193.60" cy="304.60" r="4.25" fill="#c6dbef"/><circle cx="216.80" cy="304.60" r="4.25" fill="#c6dbef"/><circle cx="240.00" cy="304.60" r="4.25" fill="#c6dbef"/><circle cx="263.20" cy="304.60" r="4.25" fill="#c6dbef"/><circle cx="286.40" cy="307.74" r="4.25" fill="#c6dbef"/><circle cx="309.60" cy="307.74" r="4.25" fill="#c6dbef"/><circle cx="332.80" cy="307.74" r="4.25" fill="#c6dbef"/><circle cx="356.00" cy="307.74" r="4.25" fill="#c6dbef"/><circle cx="379.20" cy="307.74" r="4.25" fill="#c6dbef"/><circle cx="402.40" cy="307.74" r="4.25" fill="#c6dbef"/><circle cx="425.60" cy="307.74" r="4.25" fill="#c6dbef"/><circle cx="448.80" cy="307.74" r="4.25" fill="#c6dbef"/><circle cx="472.00" cy="307.74" r="4.25" fill="#c6dbef"/><circle cx="495.20" cy="307.74" r="4.25" fill="#c6dbef"/><circle cx="518.40" cy="307.74" r="4.25" fill="#c6dbef"/><circle cx="541.60" cy="307.74" r="4.25" fill="#c6dbef"/><circle cx="564.80" cy="307.74" r="4.25" fill="#c6dbef"/><circle cx="588.00" cy="307.74" r="4.25" fill="#c6dbef"/><circle cx="611.20" cy="307.74" r="4.25" fill="#c6dbef"/><circle cx="634.40" cy="307.74" r="4.25" fill="#c6dbef"/><circle cx="657.60" cy="307.74" r="4.25" fill="#c6dbef"/><circle cx="680.80" cy="305.38" r="4.25" fill="#c6dbef"/><circle cx="704.00" cy="305.38" r="4.25" fill="#c6dbef"/><circle cx="727.20" cy="305.38" r="4.25" fill="#c6dbef"/><circle cx="750.40" cy="307.74" r="4.25" fill="#c6dbef"/><circle cx="773.60" cy="305.38" r="4.25" fill="#c6dbef"/><path d="M100.80,305.91 L124.00,305.91 L147.20,305.91 L170.40,305.91 L193.60,302.76 L216.80,302.76 L240.00,302.76 L263.20,302.76 L286.40,305.91 L309.60,305.91 L332.80,305.91 L356.00,305.91 L379.20,305.91 L402.40,305.91 L425.60,305.91 L448.80,305.91 L472.00,305.91 L495.20,305.91 L518.40,305.91 L541.60,305.91 L564.80,305.91 L588.00,305.91 L611.20,305.91 L634.40,305.91 L657.60,305.91 L680.80,303.55 L704.00,303.55 L727.20,303.55 L750.40,305.91 L773.60,303.55" fill="none" stroke="#e6550d" stroke-width="1.3" stroke-opacity="0.78" stroke-linejoin="round"/><circle cx="100.80" cy="305.91" r="4.25" fill="#e6550d"/><circle cx="124.00" cy="305.91" r="4.25" fill="#e6550d"/><circle cx="147.20" cy="305.91" r="4.25" fill="#e6550d"/><circle cx="170.40" cy="305.91" r="4.25" fill="#e6550d"/><circle cx="193.60" cy="302.76" r="4.25" fill="#e6550d"/><circle cx="216.80" cy="302.76" r="4.25" fill="#e6550d"/><circle cx="240.00" cy="302.76" r="4.25" fill="#e6550d"/><circle cx="263.20" cy="302.76" r="4.25" fill="#e6550d"/><circle cx="286.40" cy="305.91" r="4.25" fill="#e6550d"/><circle cx="309.60" cy="305.91" r="4.25" fill="#e6550d"/><circle cx="332.80" cy="305.91" r="4.25" fill="#e6550d"/><circle cx="356.00" cy="305.91" r="4.25" fill="#e6550d"/><circle cx="379.20" cy="305.91" r="4.25" fill="#e6550d"/><circle cx="402.40" cy="305.91" r="4.25" fill="#e6550d"/><circle cx="425.60" cy="305.91" r="4.25" fill="#e6550d"/><circle cx="448.80" cy="305.91" r="4.25" fill="#e6550d"/><circle cx="472.00" cy="305.91" r="4.25" fill="#e6550d"/><circle cx="495.20" cy="305.91" r="4.25" fill="#e6550d"/><circle cx="518.40" cy="305.91" r="4.25" fill="#e6550d"/><circle cx="541.60" cy="305.91" r="4.25" fill="#e6550d"/><circle cx="564.80" cy="305.91" r="4.25" fill="#e6550d"/><circle cx="588.00" cy="305.91" r="4.25" fill="#e6550d"/><circle cx="611.20" cy="305.91" r="4.25" fill="#e6550d"/><circle cx="634.40" cy="305.91" r="4.25" fill="#e6550d"/><circle cx="657.60" cy="305.91" r="4.25" fill="#e6550d"/><circle cx="680.80" cy="303.55" r="4.25" fill="#e6550d"/><circle cx="704.00" cy="303.55" r="4.25" fill="#e6550d"/><circle cx="727.20" cy="303.55" r="4.25" fill="#e6550d"/><circle cx="750.40" cy="305.91" r="4.25" fill="#e6550d"/><circle cx="773.60" cy="303.55" r="4.25" fill="#e6550d"/><path d="M100.80,302.50 L124.00,302.50 L147.20,302.50 L170.40,302.50 L193.60,299.36 L216.80,299.36 L240.00,299.36 L263.20,299.36 L286.40,302.50 L309.60,302.50 L332.80,302.50 L356.00,302.50 L379.20,302.50 L402.40,302.50 L425.60,302.50 L448.80,302.50 L472.00,302.50 L495.20,302.50 L518.40,302.50 L541.60,302.50 L564.80,302.50 L588.00,302.50 L611.20,302.50 L634.40,302.50 L657.60,302.50 L680.80,300.14 L704.00,300.14 L727.20,300.14 L750.40,302.50 L773.60,300.14" fill="none" stroke="#fd8d3c" stroke-width="1.3" stroke-opacity="0.78" stroke-linejoin="round"/><circle cx="100.80" cy="302.50" r="4.25" fill="#fd8d3c"/><circle cx="124.00" cy="302.50" r="4.25" fill="#fd8d3c"/><circle cx="147.20" cy="302.50" r="4.25" fill="#fd8d3c"/><circle cx="170.40" cy="302.50" r="4.25" fill="#fd8d3c"/><circle cx="193.60" cy="299.36" r="4.25" fill="#fd8d3c"/><circle cx="216.80" cy="299.36" r="4.25" fill="#fd8d3c"/><circle cx="240.00" cy="299.36" r="4.25" fill="#fd8d3c"/><circle cx="263.20" cy="299.36" r="4.25" fill="#fd8d3c"/><circle cx="286.40" cy="302.50" r="4.25" fill="#fd8d3c"/><circle cx="309.60" cy="302.50" r="4.25" fill="#fd8d3c"/><circle cx="332.80" cy="302.50" r="4.25" fill="#fd8d3c"/><circle cx="356.00" cy="302.50" r="4.25" fill="#fd8d3c"/><circle cx="379.20" cy="302.50" r="4.25" fill="#fd8d3c"/><circle cx="402.40" cy="302.50" r="4.25" fill="#fd8d3c"/><circle cx="425.60" cy="302.50" r="4.25" fill="#fd8d3c"/><circle cx="448.80" cy="302.50" r="4.25" fill="#fd8d3c"/><circle cx="472.00" cy="302.50" r="4.25" fill="#fd8d3c"/><circle cx="495.20" cy="302.50" r="4.25" fill="#fd8d3c"/><circle cx="518.40" cy="302.50" r="4.25" fill="#fd8d3c"/><circle cx="541.60" cy="302.50" r="4.25" fill="#fd8d3c"/><circle cx="564.80" cy="302.50" r="4.25" fill="#fd8d3c"/><circle cx="588.00" cy="302.50" r="4.25" fill="#fd8d3c"/><circle cx="611.20" cy="302.50" r="4.25" fill="#fd8d3c"/><circle cx="634.40" cy="302.50" r="4.25" fill="#fd8d3c"/><circle cx="657.60" cy="302.50" r="4.25" fill="#fd8d3c"/><circle cx="680.80" cy="300.14" r="4.25" fill="#fd8d3c"/><circle cx="704.00" cy="300.14" r="4.25" fill="#fd8d3c"/><circle cx="727.20" cy="300.14" r="4.25" fill="#fd8d3c"/><circle cx="750.40" cy="302.50" r="4.25" fill="#fd8d3c"/><circle cx="773.60" cy="300.14" r="4.25" fill="#fd8d3c"/><path d="M100.80,303.55 L124.00,303.55 L147.20,303.55 L170.40,303.55 L193.60,300.40 L216.80,300.40 L240.00,300.40 L263.20,300.40 L286.40,303.55 L309.60,303.55 L332.80,303.55 L356.00,303.55 L379.20,303.55 L402.40,303.55 L425.60,303.55 L448.80,303.55 L472.00,303.55 L495.20,303.55 L518.40,303.55 L541.60,303.55 L564.80,303.55 L588.00,303.55 L611.20,303.55 L634.40,303.55 L657.60,303.55 L680.80,301.19 L704.00,301.19 L727.20,301.19 L750.40,303.55 L773.60,301.19" fill="none" stroke="#fd8d3c" stroke-width="1.3" stroke-opacity="0.78" stroke-linejoin="round"/><circle cx="100.80" cy="303.55" r="4.25" fill="#fd8d3c"/><circle cx="124.00" cy="303.55" r="4.25" fill="#fd8d3c"/><circle cx="147.20" cy="303.55" r="4.25" fill="#fd8d3c"/><circle cx="170.40" cy="303.55" r="4.25" fill="#fd8d3c"/><circle cx="193.60" cy="300.40" r="4.25" fill="#fd8d3c"/><circle cx="216.80" cy="300.40" r="4.25" fill="#fd8d3c"/><circle cx="240.00" cy="300.40" r="4.25" fill="#fd8d3c"/><circle cx="263.20" cy="300.40" r="4.25" fill="#fd8d3c"/><circle cx="286.40" cy="303.55" r="4.25" fill="#fd8d3c"/><circle cx="309.60" cy="303.55" r="4.25" fill="#fd8d3c"/><circle cx="332.80" cy="303.55" r="4.25" fill="#fd8d3c"/><circle cx="356.00" cy="303.55" r="4.25" fill="#fd8d3c"/><circle cx="379.20" cy="303.55" r="4.25" fill="#fd8d3c"/><circle cx="402.40" cy="303.55" r="4.25" fill="#fd8d3c"/><circle cx="425.60" cy="303.55" r="4.25" fill="#fd8d3c"/><circle cx="448.80" cy="303.55" r="4.25" fill="#fd8d3c"/><circle cx="472.00" cy="303.55" r="4.25" fill="#fd8d3c"/><circle cx="495.20" cy="303.55" r="4.25" fill="#fd8d3c"/><circle cx="518.40" cy="303.55" r="4.25" fill="#fd8d3c"/><circle cx="541.60" cy="303.55" r="4.25" fill="#fd8d3c"/><circle cx="564.80" cy="303.55" r="4.25" fill="#fd8d3c"/><circle cx="588.00" cy="303.55" r="4.25" fill="#fd8d3c"/><circle cx="611.20" cy="303.55" r="4.25" fill="#fd8d3c"/><circle cx="634.40" cy="303.55" r="4.25" fill="#fd8d3c"/><circle cx="657.60" cy="303.55" r="4.25" fill="#fd8d3c"/><circle cx="680.80" cy="301.19" r="4.25" fill="#fd8d3c"/><circle cx="704.00" cy="301.19" r="4.25" fill="#fd8d3c"/><circle cx="727.20" cy="301.19" r="4.25" fill="#fd8d3c"/><circle cx="750.40" cy="303.55" r="4.25" fill="#fd8d3c"/><circle cx="773.60" cy="301.19" r="4.25" fill="#fd8d3c"/><path d="M100.80,276.30 L124.00,276.30 L147.20,276.30 L170.40,276.30 L193.60,273.16 L216.80,273.16 L240.00,273.16 L263.20,273.16 L286.40,276.30 L309.60,276.30 L332.80,276.30 L356.00,276.30 L379.20,276.30 L402.40,276.30 L425.60,276.30 L448.80,276.30 L472.00,276.30 L495.20,276.30 L518.40,276.30 L541.60,276.30 L564.80,276.30 L588.00,276.30 L611.20,276.30 L634.40,276.30 L657.60,276.30 L680.80,273.94 L704.00,273.94 L727.20,273.94 L750.40,276.30 L773.60,273.94" fill="none" stroke="#fdae6b" stroke-width="1.3" stroke-opacity="0.78" stroke-linejoin="round"/><circle cx="100.80" cy="276.30" r="4.25" fill="#fdae6b"/><circle cx="124.00" cy="276.30" r="4.25" fill="#fdae6b"/><circle cx="147.20" cy="276.30" r="4.25" fill="#fdae6b"/><circle cx="170.40" cy="276.30" r="4.25" fill="#fdae6b"/><circle cx="193.60" cy="273.16" r="4.25" fill="#fdae6b"/><circle cx="216.80" cy="273.16" r="4.25" fill="#fdae6b"/><circle cx="240.00" cy="273.16" r="4.25" fill="#fdae6b"/><circle cx="263.20" cy="273.16" r="4.25" fill="#fdae6b"/><circle cx="286.40" cy="276.30" r="4.25" fill="#fdae6b"/><circle cx="309.60" cy="276.30" r="4.25" fill="#fdae6b"/><circle cx="332.80" cy="276.30" r="4.25" fill="#fdae6b"/><circle cx="356.00" cy="276.30" r="4.25" fill="#fdae6b"/><circle cx="379.20" cy="276.30" r="4.25" fill="#fdae6b"/><circle cx="402.40" cy="276.30" r="4.25" fill="#fdae6b"/><circle cx="425.60" cy="276.30" r="4.25" fill="#fdae6b"/><circle cx="448.80" cy="276.30" r="4.25" fill="#fdae6b"/><circle cx="472.00" cy="276.30" r="4.25" fill="#fdae6b"/><circle cx="495.20" cy="276.30" r="4.25" fill="#fdae6b"/><circle cx="518.40" cy="276.30" r="4.25" fill="#fdae6b"/><circle cx="541.60" cy="276.30" r="4.25" fill="#fdae6b"/><circle cx="564.80" cy="276.30" r="4.25" fill="#fdae6b"/><circle cx="588.00" cy="276.30" r="4.25" fill="#fdae6b"/><circle cx="611.20" cy="276.30" r="4.25" fill="#fdae6b"/><circle cx="634.40" cy="276.30" r="4.25" fill="#fdae6b"/><circle cx="657.60" cy="276.30" r="4.25" fill="#fdae6b"/><circle cx="680.80" cy="273.94" r="4.25" fill="#fdae6b"/><circle cx="704.00" cy="273.94" r="4.25" fill="#fdae6b"/><circle cx="727.20" cy="273.94" r="4.25" fill="#fdae6b"/><circle cx="750.40" cy="276.30" r="4.25" fill="#fdae6b"/><circle cx="773.60" cy="273.94" r="4.25" fill="#fdae6b"/><path d="M100.80,295.69 L124.00,295.69 L147.20,295.69 L170.40,295.69 L193.60,292.54 L216.80,292.54 L240.00,292.54 L263.20,292.54 L286.40,295.69 L309.60,295.69 L332.80,295.69 L356.00,295.69 L379.20,295.69 L402.40,295.69 L425.60,295.69 L448.80,295.69 L472.00,295.69 L495.20,295.69 L518.40,295.69 L541.60,295.69 L564.80,295.69 L588.00,295.69 L611.20,295.69 L634.40,295.69 L657.60,295.69 L680.80,293.33 L704.00,293.33 L727.20,293.33 L750.40,295.69 L773.60,293.33" fill="none" stroke="#fdae6b" stroke-width="1.3" stroke-opacity="0.78" stroke-linejoin="round"/><circle cx="100.80" cy="295.69" r="4.25" fill="#fdae6b"/><circle cx="124.00" cy="295.69" r="4.25" fill="#fdae6b"/><circle cx="147.20" cy="295.69" r="4.25" fill="#fdae6b"/><circle cx="170.40" cy="295.69" r="4.25" fill="#fdae6b"/><circle cx="193.60" cy="292.54" r="4.25" fill="#fdae6b"/><circle cx="216.80" cy="292.54" r="4.25" fill="#fdae6b"/><circle cx="240.00" cy="292.54" r="4.25" fill="#fdae6b"/><circle cx="263.20" cy="292.54" r="4.25" fill="#fdae6b"/><circle cx="286.40" cy="295.69" r="4.25" fill="#fdae6b"/><circle cx="309.60" cy="295.69" r="4.25" fill="#fdae6b"/><circle cx="332.80" cy="295.69" r="4.25" fill="#fdae6b"/><circle cx="356.00" cy="295.69" r="4.25" fill="#fdae6b"/><circle cx="379.20" cy="295.69" r="4.25" fill="#fdae6b"/><circle cx="402.40" cy="295.69" r="4.25" fill="#fdae6b"/><circle cx="425.60" cy="295.69" r="4.25" fill="#fdae6b"/><circle cx="448.80" cy="295.69" r="4.25" fill="#fdae6b"/><circle cx="472.00" cy="295.69" r="4.25" fill="#fdae6b"/><circle cx="495.20" cy="295.69" r="4.25" fill="#fdae6b"/><circle cx="518.40" cy="295.69" r="4.25" fill="#fdae6b"/><circle cx="541.60" cy="295.69" r="4.25" fill="#fdae6b"/><circle cx="564.80" cy="295.69" r="4.25" fill="#fdae6b"/><circle cx="588.00" cy="295.69" r="4.25" fill="#fdae6b"/><circle cx="611.20" cy="295.69" r="4.25" fill="#fdae6b"/><circle cx="634.40" cy="295.69" r="4.25" fill="#fdae6b"/><circle cx="657.60" cy="295.69" r="4.25" fill="#fdae6b"/><circle cx="680.80" cy="293.33" r="4.25" fill="#fdae6b"/><circle cx="704.00" cy="293.33" r="4.25" fill="#fdae6b"/><circle cx="727.20" cy="293.33" r="4.25" fill="#fdae6b"/><circle cx="750.40" cy="295.69" r="4.25" fill="#fdae6b"/><circle cx="773.60" cy="293.33" r="4.25" fill="#fdae6b"/><path d="M100.80,269.75 L124.00,269.75 L147.20,269.75 L170.40,269.75 L193.60,266.61 L216.80,266.61 L240.00,266.61 L263.20,266.61 L286.40,269.75 L309.60,269.75 L332.80,269.75 L356.00,269.75 L379.20,269.75 L402.40,269.75 L425.60,269.75 L448.80,269.75 L472.00,269.75 L495.20,269.75 L518.40,269.75 L541.60,269.75 L564.80,269.75 L588.00,269.75 L611.20,269.75 L634.40,269.75 L657.60,269.75 L680.80,267.39 L704.00,267.39 L727.20,267.39 L750.40,269.75 L773.60,267.39" fill="none" stroke="#fdd0a2" stroke-width="1.3" stroke-opacity="0.78" stroke-linejoin="round"/><circle cx="100.80" cy="269.75" r="4.25" fill="#fdd0a2"/><circle cx="124.00" cy="269.75" r="4.25" fill="#fdd0a2"/><circle cx="147.20" cy="269.75" r="4.25" fill="#fdd0a2"/><circle cx="170.40" cy="269.75" r="4.25" fill="#fdd0a2"/><circle cx="193.60" cy="266.61" r="4.25" fill="#fdd0a2"/><circle cx="216.80" cy="266.61" r="4.25" fill="#fdd0a2"/><circle cx="240.00" cy="266.61" r="4.25" fill="#fdd0a2"/><circle cx="263.20" cy="266.61" r="4.25" fill="#fdd0a2"/><circle cx="286.40" cy="269.75" r="4.25" fill="#fdd0a2"/><circle cx="309.60" cy="269.75" r="4.25" fill="#fdd0a2"/><circle cx="332.80" cy="269.75" r="4.25" fill="#fdd0a2"/><circle cx="356.00" cy="269.75" r="4.25" fill="#fdd0a2"/><circle cx="379.20" cy="269.75" r="4.25" fill="#fdd0a2"/><circle cx="402.40" cy="269.75" r="4.25" fill="#fdd0a2"/><circle cx="425.60" cy="269.75" r="4.25" fill="#fdd0a2"/><circle cx="448.80" cy="269.75" r="4.25" fill="#fdd0a2"/><circle cx="472.00" cy="269.75" r="4.25" fill="#fdd0a2"/><circle cx="495.20" cy="269.75" r="4.25" fill="#fdd0a2"/><circle cx="518.40" cy="269.75" r="4.25" fill="#fdd0a2"/><circle cx="541.60" cy="269.75" r="4.25" fill="#fdd0a2"/><circle cx="564.80" cy="269.75" r="4.25" fill="#fdd0a2"/><circle cx="588.00" cy="269.75" r="4.25" fill="#fdd0a2"/><circle cx="611.20" cy="269.75" r="4.25" fill="#fdd0a2"/><circle cx="634.40" cy="269.75" r="4.25" fill="#fdd0a2"/><circle cx="657.60" cy="269.75" r="4.25" fill="#fdd0a2"/><circle cx="680.80" cy="267.39" r="4.25" fill="#fdd0a2"/><circle cx="704.00" cy="267.39" r="4.25" fill="#fdd0a2"/><circle cx="727.20" cy="267.39" r="4.25" fill="#fdd0a2"/><circle cx="750.40" cy="269.75" r="4.25" fill="#fdd0a2"/><circle cx="773.60" cy="267.39" r="4.25" fill="#fdd0a2"/><path d="M100.80,290.71 L124.00,290.71 L147.20,290.71 L170.40,290.71 L193.60,287.57 L216.80,287.57 L240.00,287.57 L263.20,287.57 L286.40,290.71 L309.60,290.71 L332.80,290.71 L356.00,290.71 L379.20,290.71 L402.40,290.71 L425.60,290.71 L448.80,290.71 L472.00,290.71 L495.20,290.71 L518.40,290.71 L541.60,290.71 L564.80,290.71 L588.00,290.71 L611.20,290.71 L634.40,290.71 L657.60,290.71 L680.80,288.35 L704.00,288.35 L727.20,288.35 L750.40,290.71 L773.60,288.35" fill="none" stroke="#fdd0a2" stroke-width="1.3" stroke-opacity="0.78" stroke-linejoin="round"/><circle cx="100.80" cy="290.71" r="4.25" fill="#fdd0a2"/><circle cx="124.00" cy="290.71" r="4.25" fill="#fdd0a2"/><circle cx="147.20" cy="290.71" r="4.25" fill="#fdd0a2"/><circle cx="170.40" cy="290.71" r="4.25" fill="#fdd0a2"/><circle cx="193.60" cy="287.57" r="4.25" fill="#fdd0a2"/><circle cx="216.80" cy="287.57" r="4.25" fill="#fdd0a2"/><circle cx="240.00" cy="287.57" r="4.25" fill="#fdd0a2"/><circle cx="263.20" cy="287.57" r="4.25" fill="#fdd0a2"/><circle cx="286.40" cy="290.71" r="4.25" fill="#fdd0a2"/><circle cx="309.60" cy="290.71" r="4.25" fill="#fdd0a2"/><circle cx="332.80" cy="290.71" r="4.25" fill="#fdd0a2"/><circle cx="356.00" cy="290.71" r="4.25" fill="#fdd0a2"/><circle cx="379.20" cy="290.71" r="4.25" fill="#fdd0a2"/><circle cx="402.40" cy="290.71" r="4.25" fill="#fdd0a2"/><circle cx="425.60" cy="290.71" r="4.25" fill="#fdd0a2"/><circle cx="448.80" cy="290.71" r="4.25" fill="#fdd0a2"/><circle cx="472.00" cy="290.71" r="4.25" fill="#fdd0a2"/><circle cx="495.20" cy="290.71" r="4.25" fill="#fdd0a2"/><circle cx="518.40" cy="290.71" r="4.25" fill="#fdd0a2"/><circle cx="541.60" cy="290.71" r="4.25" fill="#fdd0a2"/><circle cx="564.80" cy="290.71" r="4.25" fill="#fdd0a2"/><circle cx="588.00" cy="290.71" r="4.25" fill="#fdd0a2"/><circle cx="611.20" cy="290.71" r="4.25" fill="#fdd0a2"/><circle cx="634.40" cy="290.71" r="4.25" fill="#fdd0a2"/><circle cx="657.60" cy="290.71" r="4.25" fill="#fdd0a2"/><circle cx="680.80" cy="288.35" r="4.25" fill="#fdd0a2"/><circle cx="704.00" cy="288.35" r="4.25" fill="#fdd0a2"/><circle cx="727.20" cy="288.35" r="4.25" fill="#fdd0a2"/><circle cx="750.40" cy="290.71" r="4.25" fill="#fdd0a2"/><circle cx="773.60" cy="288.35" r="4.25" fill="#fdd0a2"/><path d="M100.80,313.24 L124.00,313.24 L147.20,313.24 L170.40,313.24 L193.60,310.10 L216.80,310.10 L240.00,310.10 L263.20,310.10 L286.40,313.24 L309.60,313.24 L332.80,313.24 L356.00,313.24 L379.20,313.24 L402.40,313.24 L425.60,313.24 L448.80,313.24 L472.00,313.24 L495.20,313.24 L518.40,313.24 L541.60,313.24 L564.80,313.24 L588.00,313.24 L611.20,313.24 L634.40,313.24 L657.60,313.24 L680.80,310.88 L704.00,310.88 L727.20,310.88 L750.40,313.24 L773.60,310.88" fill="none" stroke="#31a354" stroke-width="1.3" stroke-opacity="0.78" stroke-linejoin="round"/><circle cx="100.80" cy="313.24" r="4.25" fill="#31a354"/><circle cx="124.00" cy="313.24" r="4.25" fill="#31a354"/><circle cx="147.20" cy="313.24" r="4.25" fill="#31a354"/><circle cx="170.40" cy="313.24" r="4.25" fill="#31a354"/><circle cx="193.60" cy="310.10" r="4.25" fill="#31a354"/><circle cx="216.80" cy="310.10" r="4.25" fill="#31a354"/><circle cx="240.00" cy="310.10" r="4.25" fill="#31a354"/><circle cx="263.20" cy="310.10" r="4.25" fill="#31a354"/><circle cx="286.40" cy="313.24" r="4.25" fill="#31a354"/><circle cx="309.60" cy="313.24" r="4.25" fill="#31a354"/><circle cx="332.80" cy="313.24" r="4.25" fill="#31a354"/><circle cx="356.00" cy="313.24" r="4.25" fill="#31a354"/><circle cx="379.20" cy="313.24" r="4.25" fill="#31a354"/><circle cx="402.40" cy="313.24" r="4.25" fill="#31a354"/><circle cx="425.60" cy="313.24" r="4.25" fill="#31a354"/><circle cx="448.80" cy="313.24" r="4.25" fill="#31a354"/><circle cx="472.00" cy="313.24" r="4.25" fill="#31a354"/><circle cx="495.20" cy="313.24" r="4.25" fill="#31a354"/><circle cx="518.40" cy="313.24" r="4.25" fill="#31a354"/><circle cx="541.60" cy="313.24" r="4.25" fill="#31a354"/><circle cx="564.80" cy="313.24" r="4.25" fill="#31a354"/><circle cx="588.00" cy="313.24" r="4.25" fill="#31a354"/><circle cx="611.20" cy="313.24" r="4.25" fill="#31a354"/><circle cx="634.40" cy="313.24" r="4.25" fill="#31a354"/><circle cx="657.60" cy="313.24" r="4.25" fill="#31a354"/><circle cx="680.80" cy="310.88" r="4.25" fill="#31a354"/><circle cx="704.00" cy="310.88" r="4.25" fill="#31a354"/><circle cx="727.20" cy="310.88" r="4.25" fill="#31a354"/><circle cx="750.40" cy="313.24" r="4.25" fill="#31a354"/><circle cx="773.60" cy="310.88" r="4.25" fill="#31a354"/><path d="M100.80,313.77 L124.00,313.77 L147.20,313.77 L170.40,313.77 L193.60,310.62 L216.80,310.62 L240.00,310.62 L263.20,310.62 L286.40,313.77 L309.60,313.77 L332.80,313.77 L356.00,313.77 L379.20,313.77 L402.40,313.77 L425.60,313.77 L448.80,313.77 L472.00,313.77 L495.20,313.77 L518.40,313.77 L541.60,313.77 L564.80,313.77 L588.00,313.77 L611.20,313.77 L634.40,313.77 L657.60,313.77 L680.80,311.41 L704.00,311.41 L727.20,311.41 L750.40,313.77 L773.60,311.41" fill="none" stroke="#31a354" stroke-width="1.3" stroke-opacity="0.78" stroke-linejoin="round"/><circle cx="100.80" cy="313.77" r="4.25" fill="#31a354"/><circle cx="124.00" cy="313.77" r="4.25" fill="#31a354"/><circle cx="147.20" cy="313.77" r="4.25" fill="#31a354"/><circle cx="170.40" cy="313.77" r="4.25" fill="#31a354"/><circle cx="193.60" cy="310.62" r="4.25" fill="#31a354"/><circle cx="216.80" cy="310.62" r="4.25" fill="#31a354"/><circle cx="240.00" cy="310.62" r="4.25" fill="#31a354"/><circle cx="263.20" cy="310.62" r="4.25" fill="#31a354"/><circle cx="286.40" cy="313.77" r="4.25" fill="#31a354"/><circle cx="309.60" cy="313.77" r="4.25" fill="#31a354"/><circle cx="332.80" cy="313.77" r="4.25" fill="#31a354"/><circle cx="356.00" cy="313.77" r="4.25" fill="#31a354"/><circle cx="379.20" cy="313.77" r="4.25" fill="#31a354"/><circle cx="402.40" cy="313.77" r="4.25" fill="#31a354"/><circle cx="425.60" cy="313.77" r="4.25" fill="#31a354"/><circle cx="448.80" cy="313.77" r="4.25" fill="#31a354"/><circle cx="472.00" cy="313.77" r="4.25" fill="#31a354"/><circle cx="495.20" cy="313.77" r="4.25" fill="#31a354"/><circle cx="518.40" cy="313.77" r="4.25" fill="#31a354"/><circle cx="541.60" cy="313.77" r="4.25" fill="#31a354"/><circle cx="564.80" cy="313.77" r="4.25" fill="#31a354"/><circle cx="588.00" cy="313.77" r="4.25" fill="#31a354"/><circle cx="611.20" cy="313.77" r="4.25" fill="#31a354"/><circle cx="634.40" cy="313.77" r="4.25" fill="#31a354"/><circle cx="657.60" cy="313.77" r="4.25" fill="#31a354"/><circle cx="680.80" cy="311.41" r="4.25" fill="#31a354"/><circle cx="704.00" cy="311.41" r="4.25" fill="#31a354"/><circle cx="727.20" cy="311.41" r="4.25" fill="#31a354"/><circle cx="750.40" cy="313.77" r="4.25" fill="#31a354"/><circle cx="773.60" cy="311.41" r="4.25" fill="#31a354"/><path d="M100.80,341.80 L124.00,341.80 L147.20,341.80 L170.40,341.80 L193.60,338.66 L216.80,338.66 L240.00,338.66 L263.20,338.66 L286.40,341.80 L309.60,341.80 L332.80,341.80 L356.00,341.80 L379.20,341.80 L402.40,341.80 L425.60,341.80 L448.80,341.80 L472.00,341.80 L495.20,341.80 L518.40,341.80 L541.60,341.80 L564.80,341.80 L588.00,341.80 L611.20,341.80 L634.40,341.80 L657.60,341.80 L680.80,339.44 L704.00,339.44 L727.20,339.44 L750.40,341.80 L773.60,339.44" fill="none" stroke="#74c476" stroke-width="1.3" stroke-opacity="0.78" stroke-linejoin="round"/><circle cx="100.80" cy="341.80" r="4.25" fill="#74c476"/><circle cx="124.00" cy="341.80" r="4.25" fill="#74c476"/><circle cx="147.20" cy="341.80" r="4.25" fill="#74c476"/><circle cx="170.40" cy="341.80" r="4.25" fill="#74c476"/><circle cx="193.60" cy="338.66" r="4.25" fill="#74c476"/><circle cx="216.80" cy="338.66" r="4.25" fill="#74c476"/><circle cx="240.00" cy="338.66" r="4.25" fill="#74c476"/><circle cx="263.20" cy="338.66" r="4.25" fill="#74c476"/><circle cx="286.40" cy="341.80" r="4.25" fill="#74c476"/><circle cx="309.60" cy="341.80" r="4.25" fill="#74c476"/><circle cx="332.80" cy="341.80" r="4.25" fill="#74c476"/><circle cx="356.00" cy="341.80" r="4.25" fill="#74c476"/><circle cx="379.20" cy="341.80" r="4.25" fill="#74c476"/><circle cx="402.40" cy="341.80" r="4.25" fill="#74c476"/><circle cx="425.60" cy="341.80" r="4.25" fill="#74c476"/><circle cx="448.80" cy="341.80" r="4.25" fill="#74c476"/><circle cx="472.00" cy="341.80" r="4.25" fill="#74c476"/><circle cx="495.20" cy="341.80" r="4.25" fill="#74c476"/><circle cx="518.40" cy="341.80" r="4.25" fill="#74c476"/><circle cx="541.60" cy="341.80" r="4.25" fill="#74c476"/><circle cx="564.80" cy="341.80" r="4.25" fill="#74c476"/><circle cx="588.00" cy="341.80" r="4.25" fill="#74c476"/><circle cx="611.20" cy="341.80" r="4.25" fill="#74c476"/><circle cx="634.40" cy="341.80" r="4.25" fill="#74c476"/><circle cx="657.60" cy="341.80" r="4.25" fill="#74c476"/><circle cx="680.80" cy="339.44" r="4.25" fill="#74c476"/><circle cx="704.00" cy="339.44" r="4.25" fill="#74c476"/><circle cx="727.20" cy="339.44" r="4.25" fill="#74c476"/><circle cx="750.40" cy="341.80" r="4.25" fill="#74c476"/><circle cx="773.60" cy="339.44" r="4.25" fill="#74c476"/><path d="M100.80,332.11 L124.00,332.11 L147.20,332.11 L170.40,332.11 L193.60,328.96 L216.80,328.96 L240.00,328.96 L263.20,328.96 L286.40,332.11 L309.60,332.11 L332.80,332.11 L356.00,332.11 L379.20,332.11 L402.40,332.11 L425.60,332.11 L448.80,332.11 L472.00,332.11 L495.20,332.11 L518.40,332.11 L541.60,332.11 L564.80,332.11 L588.00,332.11 L611.20,332.11 L634.40,332.11 L657.60,332.11 L680.80,329.75 L704.00,329.75 L727.20,329.75 L750.40,332.11 L773.60,329.75" fill="none" stroke="#a1d99b" stroke-width="1.3" stroke-opacity="0.78" stroke-linejoin="round"/><circle cx="100.80" cy="332.11" r="4.25" fill="#a1d99b"/><circle cx="124.00" cy="332.11" r="4.25" fill="#a1d99b"/><circle cx="147.20" cy="332.11" r="4.25" fill="#a1d99b"/><circle cx="170.40" cy="332.11" r="4.25" fill="#a1d99b"/><circle cx="193.60" cy="328.96" r="4.25" fill="#a1d99b"/><circle cx="216.80" cy="328.96" r="4.25" fill="#a1d99b"/><circle cx="240.00" cy="328.96" r="4.25" fill="#a1d99b"/><circle cx="263.20" cy="328.96" r="4.25" fill="#a1d99b"/><circle cx="286.40" cy="332.11" r="4.25" fill="#a1d99b"/><circle cx="309.60" cy="332.11" r="4.25" fill="#a1d99b"/><circle cx="332.80" cy="332.11" r="4.25" fill="#a1d99b"/><circle cx="356.00" cy="332.11" r="4.25" fill="#a1d99b"/><circle cx="379.20" cy="332.11" r="4.25" fill="#a1d99b"/><circle cx="402.40" cy="332.11" r="4.25" fill="#a1d99b"/><circle cx="425.60" cy="332.11" r="4.25" fill="#a1d99b"/><circle cx="448.80" cy="332.11" r="4.25" fill="#a1d99b"/><circle cx="472.00" cy="332.11" r="4.25" fill="#a1d99b"/><circle cx="495.20" cy="332.11" r="4.25" fill="#a1d99b"/><circle cx="518.40" cy="332.11" r="4.25" fill="#a1d99b"/><circle cx="541.60" cy="332.11" r="4.25" fill="#a1d99b"/><circle cx="564.80" cy="332.11" r="4.25" fill="#a1d99b"/><circle cx="588.00" cy="332.11" r="4.25" fill="#a1d99b"/><circle cx="611.20" cy="332.11" r="4.25" fill="#a1d99b"/><circle cx="634.40" cy="332.11" r="4.25" fill="#a1d99b"/><circle cx="657.60" cy="332.11" r="4.25" fill="#a1d99b"/><circle cx="680.80" cy="329.75" r="4.25" fill="#a1d99b"/><circle cx="704.00" cy="329.75" r="4.25" fill="#a1d99b"/><circle cx="727.20" cy="329.75" r="4.25" fill="#a1d99b"/><circle cx="750.40" cy="332.11" r="4.25" fill="#a1d99b"/><circle cx="773.60" cy="329.75" r="4.25" fill="#a1d99b"/><path d="M100.80,340.49 L124.00,340.49 L147.20,340.49 L170.40,340.49 L193.60,337.35 L216.80,337.35 L240.00,337.35 L263.20,337.35 L286.40,340.49 L309.60,340.49 L332.80,340.49 L356.00,340.49 L379.20,340.49 L402.40,340.49 L425.60,340.49 L448.80,340.49 L472.00,340.49 L495.20,340.49 L518.40,340.49 L541.60,340.49 L564.80,340.49 L588.00,340.49 L611.20,340.49 L634.40,340.49 L657.60,340.49 L680.80,338.13 L704.00,338.13 L727.20,338.13 L750.40,340.49 L773.60,338.13" fill="none" stroke="#a1d99b" stroke-width="1.3" stroke-opacity="0.78" stroke-linejoin="round"/><circle cx="100.80" cy="340.49" r="4.25" fill="#a1d99b"/><circle cx="124.00" cy="340.49" r="4.25" fill="#a1d99b"/><circle cx="147.20" cy="340.49" r="4.25" fill="#a1d99b"/><circle cx="170.40" cy="340.49" r="4.25" fill="#a1d99b"/><circle cx="193.60" cy="337.35" r="4.25" fill="#a1d99b"/><circle cx="216.80" cy="337.35" r="4.25" fill="#a1d99b"/><circle cx="240.00" cy="337.35" r="4.25" fill="#a1d99b"/><circle cx="263.20" cy="337.35" r="4.25" fill="#a1d99b"/><circle cx="286.40" cy="340.49" r="4.25" fill="#a1d99b"/><circle cx="309.60" cy="340.49" r="4.25" fill="#a1d99b"/><circle cx="332.80" cy="340.49" r="4.25" fill="#a1d99b"/><circle cx="356.00" cy="340.49" r="4.25" fill="#a1d99b"/><circle cx="379.20" cy="340.49" r="4.25" fill="#a1d99b"/><circle cx="402.40" cy="340.49" r="4.25" fill="#a1d99b"/><circle cx="425.60" cy="340.49" r="4.25" fill="#a1d99b"/><circle cx="448.80" cy="340.49" r="4.25" fill="#a1d99b"/><circle cx="472.00" cy="340.49" r="4.25" fill="#a1d99b"/><circle cx="495.20" cy="340.49" r="4.25" fill="#a1d99b"/><circle cx="518.40" cy="340.49" r="4.25" fill="#a1d99b"/><circle cx="541.60" cy="340.49" r="4.25" fill="#a1d99b"/><circle cx="564.80" cy="340.49" r="4.25" fill="#a1d99b"/><circle cx="588.00" cy="340.49" r="4.25" fill="#a1d99b"/><circle cx="611.20" cy="340.49" r="4.25" fill="#a1d99b"/><circle cx="634.40" cy="340.49" r="4.25" fill="#a1d99b"/><circle cx="657.60" cy="340.49" r="4.25" fill="#a1d99b"/><circle cx="680.80" cy="338.13" r="4.25" fill="#a1d99b"/><circle cx="704.00" cy="338.13" r="4.25" fill="#a1d99b"/><circle cx="727.20" cy="338.13" r="4.25" fill="#a1d99b"/><circle cx="750.40" cy="340.49" r="4.25" fill="#a1d99b"/><circle cx="773.60" cy="338.13" r="4.25" fill="#a1d99b"/><path d="M100.80,336.04 L124.00,336.04 L147.20,336.04 L170.40,336.04 L193.60,332.89 L216.80,332.89 L240.00,332.89 L263.20,332.89 L286.40,336.04 L309.60,336.04 L332.80,336.04 L356.00,336.04 L379.20,336.04 L402.40,336.04 L425.60,336.04 L448.80,336.04 L472.00,336.04 L495.20,336.04 L518.40,336.04 L541.60,336.04 L564.80,336.04 L588.00,336.04 L611.20,336.04 L634.40,336.04 L657.60,336.04 L680.80,333.68 L704.00,333.68 L727.20,333.68 L750.40,336.04 L773.60,333.68" fill="none" stroke="#c7e9c0" stroke-width="1.3" stroke-opacity="0.78" stroke-linejoin="round"/><circle cx="100.80" cy="336.04" r="4.25" fill="#c7e9c0"/><circle cx="124.00" cy="336.04" r="4.25" fill="#c7e9c0"/><circle cx="147.20" cy="336.04" r="4.25" fill="#c7e9c0"/><circle cx="170.40" cy="336.04" r="4.25" fill="#c7e9c0"/><circle cx="193.60" cy="332.89" r="4.25" fill="#c7e9c0"/><circle cx="216.80" cy="332.89" r="4.25" fill="#c7e9c0"/><circle cx="240.00" cy="332.89" r="4.25" fill="#c7e9c0"/><circle cx="263.20" cy="332.89" r="4.25" fill="#c7e9c0"/><circle cx="286.40" cy="336.04" r="4.25" fill="#c7e9c0"/><circle cx="309.60" cy="336.04" r="4.25" fill="#c7e9c0"/><circle cx="332.80" cy="336.04" r="4.25" fill="#c7e9c0"/><circle cx="356.00" cy="336.04" r="4.25" fill="#c7e9c0"/><circle cx="379.20" cy="336.04" r="4.25" fill="#c7e9c0"/><circle cx="402.40" cy="336.04" r="4.25" fill="#c7e9c0"/><circle cx="425.60" cy="336.04" r="4.25" fill="#c7e9c0"/><circle cx="448.80" cy="336.04" r="4.25" fill="#c7e9c0"/><circle cx="472.00" cy="336.04" r="4.25" fill="#c7e9c0"/><circle cx="495.20" cy="336.04" r="4.25" fill="#c7e9c0"/><circle cx="518.40" cy="336.04" r="4.25" fill="#c7e9c0"/><circle cx="541.60" cy="336.04" r="4.25" fill="#c7e9c0"/><circle cx="564.80" cy="336.04" r="4.25" fill="#c7e9c0"/><circle cx="588.00" cy="336.04" r="4.25" fill="#c7e9c0"/><circle cx="611.20" cy="336.04" r="4.25" fill="#c7e9c0"/><circle cx="634.40" cy="336.04" r="4.25" fill="#c7e9c0"/><circle cx="657.60" cy="336.04" r="4.25" fill="#c7e9c0"/><circle cx="680.80" cy="333.68" r="4.25" fill="#c7e9c0"/><circle cx="704.00" cy="333.68" r="4.25" fill="#c7e9c0"/><circle cx="727.20" cy="333.68" r="4.25" fill="#c7e9c0"/><circle cx="750.40" cy="336.04" r="4.25" fill="#c7e9c0"/><circle cx="773.60" cy="333.68" r="4.25" fill="#c7e9c0"/><path d="M100.80,357.26 L124.00,357.26 L147.20,357.26 L170.40,357.26 L193.60,354.11 L216.80,354.11 L240.00,354.11 L263.20,354.11 L286.40,357.26 L309.60,357.26 L332.80,357.26 L356.00,357.26 L379.20,357.26 L402.40,357.26 L425.60,357.26 L448.80,357.26 L472.00,357.26 L495.20,357.26 L518.40,357.26 L541.60,357.26 L564.80,357.26 L588.00,357.26 L611.20,357.26 L634.40,357.26 L657.60,357.26 L680.80,354.90 L704.00,354.90 L727.20,354.90 L750.40,357.26 L773.60,354.90" fill="none" stroke="#756bb1" stroke-width="1.3" stroke-opacity="0.78" stroke-linejoin="round"/><circle cx="100.80" cy="357.26" r="4.25" fill="#756bb1"/><circle cx="124.00" cy="357.26" r="4.25" fill="#756bb1"/><circle cx="147.20" cy="357.26" r="4.25" fill="#756bb1"/><circle cx="170.40" cy="357.26" r="4.25" fill="#756bb1"/><circle cx="193.60" cy="354.11" r="4.25" fill="#756bb1"/><circle cx="216.80" cy="354.11" r="4.25" fill="#756bb1"/><circle cx="240.00" cy="354.11" r="4.25" fill="#756bb1"/><circle cx="263.20" cy="354.11" r="4.25" fill="#756bb1"/><circle cx="286.40" cy="357.26" r="4.25" fill="#756bb1"/><circle cx="309.60" cy="357.26" r="4.25" fill="#756bb1"/><circle cx="332.80" cy="357.26" r="4.25" fill="#756bb1"/><circle cx="356.00" cy="357.26" r="4.25" fill="#756bb1"/><circle cx="379.20" cy="357.26" r="4.25" fill="#756bb1"/><circle cx="402.40" cy="357.26" r="4.25" fill="#756bb1"/><circle cx="425.60" cy="357.26" r="4.25" fill="#756bb1"/><circle cx="448.80" cy="357.26" r="4.25" fill="#756bb1"/><circle cx="472.00" cy="357.26" r="4.25" fill="#756bb1"/><circle cx="495.20" cy="357.26" r="4.25" fill="#756bb1"/><circle cx="518.40" cy="357.26" r="4.25" fill="#756bb1"/><circle cx="541.60" cy="357.26" r="4.25" fill="#756bb1"/><circle cx="564.80" cy="357.26" r="4.25" fill="#756bb1"/><circle cx="588.00" cy="357.26" r="4.25" fill="#756bb1"/><circle cx="611.20" cy="357.26" r="4.25" fill="#756bb1"/><circle cx="634.40" cy="357.26" r="4.25" fill="#756bb1"/><circle cx="657.60" cy="357.26" r="4.25" fill="#756bb1"/><circle cx="680.80" cy="354.90" r="4.25" fill="#756bb1"/><circle cx="704.00" cy="354.90" r="4.25" fill="#756bb1"/><circle cx="727.20" cy="354.90" r="4.25" fill="#756bb1"/><circle cx="750.40" cy="357.26" r="4.25" fill="#756bb1"/><circle cx="773.60" cy="354.90" r="4.25" fill="#756bb1"/><path d="M100.80,447.12 L124.00,447.12 L147.20,447.12 L170.40,447.12 L193.60,443.98 L216.80,443.98 L240.00,443.98 L263.20,443.98 L286.40,447.12 L309.60,447.12 L332.80,447.12 L356.00,447.12 L379.20,447.12 L402.40,447.12 L425.60,447.12 L448.80,447.12 L472.00,447.12 L495.20,447.12 L518.40,447.12 L541.60,447.12 L564.80,447.12 L588.00,447.12 L611.20,447.12 L634.40,447.12 L657.60,447.12 L680.80,444.77 L704.00,444.77 L727.20,444.77 L750.40,447.12 L773.60,444.77" fill="none" stroke="#756bb1" stroke-width="1.3" stroke-opacity="0.78" stroke-linejoin="round"/><circle cx="100.80" cy="447.12" r="4.25" fill="#756bb1"/><circle cx="124.00" cy="447.12" r="4.25" fill="#756bb1"/><circle cx="147.20" cy="447.12" r="4.25" fill="#756bb1"/><circle cx="170.40" cy="447.12" r="4.25" fill="#756bb1"/><circle cx="193.60" cy="443.98" r="4.25" fill="#756bb1"/><circle cx="216.80" cy="443.98" r="4.25" fill="#756bb1"/><circle cx="240.00" cy="443.98" r="4.25" fill="#756bb1"/><circle cx="263.20" cy="443.98" r="4.25" fill="#756bb1"/><circle cx="286.40" cy="447.12" r="4.25" fill="#756bb1"/><circle cx="309.60" cy="447.12" r="4.25" fill="#756bb1"/><circle cx="332.80" cy="447.12" r="4.25" fill="#756bb1"/><circle cx="356.00" cy="447.12" r="4.25" fill="#756bb1"/><circle cx="379.20" cy="447.12" r="4.25" fill="#756bb1"/><circle cx="402.40" cy="447.12" r="4.25" fill="#756bb1"/><circle cx="425.60" cy="447.12" r="4.25" fill="#756bb1"/><circle cx="448.80" cy="447.12" r="4.25" fill="#756bb1"/><circle cx="472.00" cy="447.12" r="4.25" fill="#756bb1"/><circle cx="495.20" cy="447.12" r="4.25" fill="#756bb1"/><circle cx="518.40" cy="447.12" r="4.25" fill="#756bb1"/><circle cx="541.60" cy="447.12" r="4.25" fill="#756bb1"/><circle cx="564.80" cy="447.12" r="4.25" fill="#756bb1"/><circle cx="588.00" cy="447.12" r="4.25" fill="#756bb1"/><circle cx="611.20" cy="447.12" r="4.25" fill="#756bb1"/><circle cx="634.40" cy="447.12" r="4.25" fill="#756bb1"/><circle cx="657.60" cy="447.12" r="4.25" fill="#756bb1"/><circle cx="680.80" cy="444.77" r="4.25" fill="#756bb1"/><circle cx="704.00" cy="444.77" r="4.25" fill="#756bb1"/><circle cx="727.20" cy="444.77" r="4.25" fill="#756bb1"/><circle cx="750.40" cy="447.12" r="4.25" fill="#756bb1"/><circle cx="773.60" cy="444.77" r="4.25" fill="#756bb1"/><path d="M100.80,348.87 L124.00,348.87 L147.20,348.87 L170.40,348.87 L193.60,345.73 L216.80,345.73 L240.00,345.73 L263.20,345.73 L286.40,348.87 L309.60,348.87 L332.80,348.87 L356.00,348.87 L379.20,348.87 L402.40,348.87 L425.60,348.87 L448.80,348.87 L472.00,348.87 L495.20,348.87 L518.40,348.87 L541.60,348.87 L564.80,348.87 L588.00,348.87 L611.20,348.87 L634.40,348.87 L657.60,348.87 L680.80,346.52 L704.00,346.52 L727.20,346.52 L750.40,348.87 L773.60,346.52" fill="none" stroke="#9e9ac8" stroke-width="1.3" stroke-opacity="0.78" stroke-linejoin="round"/><circle cx="100.80" cy="348.87" r="4.25" fill="#9e9ac8"/><circle cx="124.00" cy="348.87" r="4.25" fill="#9e9ac8"/><circle cx="147.20" cy="348.87" r="4.25" fill="#9e9ac8"/><circle cx="170.40" cy="348.87" r="4.25" fill="#9e9ac8"/><circle cx="193.60" cy="345.73" r="4.25" fill="#9e9ac8"/><circle cx="216.80" cy="345.73" r="4.25" fill="#9e9ac8"/><circle cx="240.00" cy="345.73" r="4.25" fill="#9e9ac8"/><circle cx="263.20" cy="345.73" r="4.25" fill="#9e9ac8"/><circle cx="286.40" cy="348.87" r="4.25" fill="#9e9ac8"/><circle cx="309.60" cy="348.87" r="4.25" fill="#9e9ac8"/><circle cx="332.80" cy="348.87" r="4.25" fill="#9e9ac8"/><circle cx="356.00" cy="348.87" r="4.25" fill="#9e9ac8"/><circle cx="379.20" cy="348.87" r="4.25" fill="#9e9ac8"/><circle cx="402.40" cy="348.87" r="4.25" fill="#9e9ac8"/><circle cx="425.60" cy="348.87" r="4.25" fill="#9e9ac8"/><circle cx="448.80" cy="348.87" r="4.25" fill="#9e9ac8"/><circle cx="472.00" cy="348.87" r="4.25" fill="#9e9ac8"/><circle cx="495.20" cy="348.87" r="4.25" fill="#9e9ac8"/><circle cx="518.40" cy="348.87" r="4.25" fill="#9e9ac8"/><circle cx="541.60" cy="348.87" r="4.25" fill="#9e9ac8"/><circle cx="564.80" cy="348.87" r="4.25" fill="#9e9ac8"/><circle cx="588.00" cy="348.87" r="4.25" fill="#9e9ac8"/><circle cx="611.20" cy="348.87" r="4.25" fill="#9e9ac8"/><circle cx="634.40" cy="348.87" r="4.25" fill="#9e9ac8"/><circle cx="657.60" cy="348.87" r="4.25" fill="#9e9ac8"/><circle cx="680.80" cy="346.52" r="4.25" fill="#9e9ac8"/><circle cx="704.00" cy="346.52" r="4.25" fill="#9e9ac8"/><circle cx="727.20" cy="346.52" r="4.25" fill="#9e9ac8"/><circle cx="750.40" cy="348.87" r="4.25" fill="#9e9ac8"/><circle cx="773.60" cy="346.52" r="4.25" fill="#9e9ac8"/><path d="M100.80,339.70 L124.00,339.70 L147.20,339.70 L170.40,339.70 L193.60,336.56 L216.80,336.56 L240.00,336.56 L263.20,336.56 L286.40,339.70 L309.60,339.70 L332.80,339.70 L356.00,339.70 L379.20,339.70 L402.40,339.70 L425.60,339.70 L448.80,339.70 L472.00,339.70 L495.20,339.70 L518.40,339.70 L541.60,339.70 L564.80,339.70 L588.00,339.70 L611.20,339.70 L634.40,339.70 L657.60,339.70 L680.80,337.35 L704.00,337.35 L727.20,337.35 L750.40,339.70 L773.60,337.35" fill="none" stroke="#9e9ac8" stroke-width="1.3" stroke-opacity="0.78" stroke-linejoin="round"/><circle cx="100.80" cy="339.70" r="4.25" fill="#9e9ac8"/><circle cx="124.00" cy="339.70" r="4.25" fill="#9e9ac8"/><circle cx="147.20" cy="339.70" r="4.25" fill="#9e9ac8"/><circle cx="170.40" cy="339.70" r="4.25" fill="#9e9ac8"/><circle cx="193.60" cy="336.56" r="4.25" fill="#9e9ac8"/><circle cx="216.80" cy="336.56" r="4.25" fill="#9e9ac8"/><circle cx="240.00" cy="336.56" r="4.25" fill="#9e9ac8"/><circle cx="263.20" cy="336.56" r="4.25" fill="#9e9ac8"/><circle cx="286.40" cy="339.70" r="4.25" fill="#9e9ac8"/><circle cx="309.60" cy="339.70" r="4.25" fill="#9e9ac8"/><circle cx="332.80" cy="339.70" r="4.25" fill="#9e9ac8"/><circle cx="356.00" cy="339.70" r="4.25" fill="#9e9ac8"/><circle cx="379.20" cy="339.70" r="4.25" fill="#9e9ac8"/><circle cx="402.40" cy="339.70" r="4.25" fill="#9e9ac8"/><circle cx="425.60" cy="339.70" r="4.25" fill="#9e9ac8"/><circle cx="448.80" cy="339.70" r="4.25" fill="#9e9ac8"/><circle cx="472.00" cy="339.70" r="4.25" fill="#9e9ac8"/><circle cx="495.20" cy="339.70" r="4.25" fill="#9e9ac8"/><circle cx="518.40" cy="339.70" r="4.25" fill="#9e9ac8"/><circle cx="541.60" cy="339.70" r="4.25" fill="#9e9ac8"/><circle cx="564.80" cy="339.70" r="4.25" fill="#9e9ac8"/><circle cx="588.00" cy="339.70" r="4.25" fill="#9e9ac8"/><circle cx="611.20" cy="339.70" r="4.25" fill="#9e9ac8"/><circle cx="634.40" cy="339.70" r="4.25" fill="#9e9ac8"/><circle cx="657.60" cy="339.70" r="4.25" fill="#9e9ac8"/><circle cx="680.80" cy="337.35" r="4.25" fill="#9e9ac8"/><circle cx="704.00" cy="337.35" r="4.25" fill="#9e9ac8"/><circle cx="727.20" cy="337.35" r="4.25" fill="#9e9ac8"/><circle cx="750.40" cy="339.70" r="4.25" fill="#9e9ac8"/><circle cx="773.60" cy="337.35" r="4.25" fill="#9e9ac8"/><path d="M100.80,390.79 L124.00,390.79 L147.20,390.79 L170.40,390.79 L193.60,387.65 L216.80,387.65 L240.00,387.65 L263.20,387.65 L286.40,390.79 L309.60,390.79 L332.80,390.79 L356.00,390.79 L379.20,390.79 L402.40,390.79 L425.60,390.79 L448.80,390.79 L472.00,390.79 L495.20,390.79 L518.40,390.79 L541.60,390.79 L564.80,390.79 L588.00,390.79 L611.20,390.79 L634.40,390.79 L657.60,390.79 L680.80,388.44 L704.00,388.44 L727.20,388.44 L750.40,390.79 L773.60,388.44" fill="none" stroke="#bcbddc" stroke-width="1.3" stroke-opacity="0.78" stroke-linejoin="round"/><circle cx="100.80" cy="390.79" r="4.25" fill="#bcbddc"/><circle cx="124.00" cy="390.79" r="4.25" fill="#bcbddc"/><circle cx="147.20" cy="390.79" r="4.25" fill="#bcbddc"/><circle cx="170.40" cy="390.79" r="4.25" fill="#bcbddc"/><circle cx="193.60" cy="387.65" r="4.25" fill="#bcbddc"/><circle cx="216.80" cy="387.65" r="4.25" fill="#bcbddc"/><circle cx="240.00" cy="387.65" r="4.25" fill="#bcbddc"/><circle cx="263.20" cy="387.65" r="4.25" fill="#bcbddc"/><circle cx="286.40" cy="390.79" r="4.25" fill="#bcbddc"/><circle cx="309.60" cy="390.79" r="4.25" fill="#bcbddc"/><circle cx="332.80" cy="390.79" r="4.25" fill="#bcbddc"/><circle cx="356.00" cy="390.79" r="4.25" fill="#bcbddc"/><circle cx="379.20" cy="390.79" r="4.25" fill="#bcbddc"/><circle cx="402.40" cy="390.79" r="4.25" fill="#bcbddc"/><circle cx="425.60" cy="390.79" r="4.25" fill="#bcbddc"/><circle cx="448.80" cy="390.79" r="4.25" fill="#bcbddc"/><circle cx="472.00" cy="390.79" r="4.25" fill="#bcbddc"/><circle cx="495.20" cy="390.79" r="4.25" fill="#bcbddc"/><circle cx="518.40" cy="390.79" r="4.25" fill="#bcbddc"/><circle cx="541.60" cy="390.79" r="4.25" fill="#bcbddc"/><circle cx="564.80" cy="390.79" r="4.25" fill="#bcbddc"/><circle cx="588.00" cy="390.79" r="4.25" fill="#bcbddc"/><circle cx="611.20" cy="390.79" r="4.25" fill="#bcbddc"/><circle cx="634.40" cy="390.79" r="4.25" fill="#bcbddc"/><circle cx="657.60" cy="390.79" r="4.25" fill="#bcbddc"/><circle cx="680.80" cy="388.44" r="4.25" fill="#bcbddc"/><circle cx="704.00" cy="388.44" r="4.25" fill="#bcbddc"/><circle cx="727.20" cy="388.44" r="4.25" fill="#bcbddc"/><circle cx="750.40" cy="390.79" r="4.25" fill="#bcbddc"/><circle cx="773.60" cy="388.44" r="4.25" fill="#bcbddc"/><path d="M100.80,318.74 L124.00,318.74 L147.20,318.74 L170.40,318.74 L193.60,315.60 L216.80,315.60 L240.00,315.60 L263.20,315.60 L286.40,318.74 L309.60,318.74 L332.80,318.74 L356.00,318.74 L379.20,318.74 L402.40,318.74 L425.60,318.74 L448.80,318.74 L472.00,318.74 L495.20,318.74 L518.40,318.74 L541.60,318.74 L564.80,318.74 L588.00,318.74 L611.20,318.74 L634.40,318.74 L657.60,318.74 L680.80,316.39 L704.00,316.39 L727.20,316.39 L750.40,318.74 L773.60,316.39" fill="none" stroke="#dadaeb" stroke-width="1.3" stroke-opacity="0.78" stroke-linejoin="round"/><circle cx="100.80" cy="318.74" r="4.25" fill="#dadaeb"/><circle cx="124.00" cy="318.74" r="4.25" fill="#dadaeb"/><circle cx="147.20" cy="318.74" r="4.25" fill="#dadaeb"/><circle cx="170.40" cy="318.74" r="4.25" fill="#dadaeb"/><circle cx="193.60" cy="315.60" r="4.25" fill="#dadaeb"/><circle cx="216.80" cy="315.60" r="4.25" fill="#dadaeb"/><circle cx="240.00" cy="315.60" r="4.25" fill="#dadaeb"/><circle cx="263.20" cy="315.60" r="4.25" fill="#dadaeb"/><circle cx="286.40" cy="318.74" r="4.25" fill="#dadaeb"/><circle cx="309.60" cy="318.74" r="4.25" fill="#dadaeb"/><circle cx="332.80" cy="318.74" r="4.25" fill="#dadaeb"/><circle cx="356.00" cy="318.74" r="4.25" fill="#dadaeb"/><circle cx="379.20" cy="318.74" r="4.25" fill="#dadaeb"/><circle cx="402.40" cy="318.74" r="4.25" fill="#dadaeb"/><circle cx="425.60" cy="318.74" r="4.25" fill="#dadaeb"/><circle cx="448.80" cy="318.74" r="4.25" fill="#dadaeb"/><circle cx="472.00" cy="318.74" r="4.25" fill="#dadaeb"/><circle cx="495.20" cy="318.74" r="4.25" fill="#dadaeb"/><circle cx="518.40" cy="318.74" r="4.25" fill="#dadaeb"/><circle cx="541.60" cy="318.74" r="4.25" fill="#dadaeb"/><circle cx="564.80" cy="318.74" r="4.25" fill="#dadaeb"/><circle cx="588.00" cy="318.74" r="4.25" fill="#dadaeb"/><circle cx="611.20" cy="318.74" r="4.25" fill="#dadaeb"/><circle cx="634.40" cy="318.74" r="4.25" fill="#dadaeb"/><circle cx="657.60" cy="318.74" r="4.25" fill="#dadaeb"/><circle cx="680.80" cy="316.39" r="4.25" fill="#dadaeb"/><circle cx="704.00" cy="316.39" r="4.25" fill="#dadaeb"/><circle cx="727.20" cy="316.39" r="4.25" fill="#dadaeb"/><circle cx="750.40" cy="318.74" r="4.25" fill="#dadaeb"/><circle cx="773.60" cy="316.39" r="4.25" fill="#dadaeb"/><path d="M100.80,371.14 L124.00,371.14 L147.20,371.14 L170.40,371.14 L193.60,368.00 L216.80,368.00 L240.00,368.00 L263.20,368.00 L286.40,371.14 L309.60,371.14 L332.80,371.14 L356.00,371.14 L379.20,371.14 L402.40,371.14 L425.60,371.14 L448.80,371.14 L472.00,371.14 L495.20,371.14 L518.40,371.14 L541.60,371.14 L564.80,371.14 L588.00,371.14 L611.20,371.14 L634.40,371.14 L657.60,371.14 L680.80,368.79 L704.00,368.79 L727.20,368.79 L750.40,371.14 L773.60,368.79" fill="none" stroke="#dadaeb" stroke-width="1.3" stroke-opacity="0.78" stroke-linejoin="round"/><circle cx="100.80" cy="371.14" r="4.25" fill="#dadaeb"/><circle cx="124.00" cy="371.14" r="4.25" fill="#dadaeb"/><circle cx="147.20" cy="371.14" r="4.25" fill="#dadaeb"/><circle cx="170.40" cy="371.14" r="4.25" fill="#dadaeb"/><circle cx="193.60" cy="368.00" r="4.25" fill="#dadaeb"/><circle cx="216.80" cy="368.00" r="4.25" fill="#dadaeb"/><circle cx="240.00" cy="368.00" r="4.25" fill="#dadaeb"/><circle cx="263.20" cy="368.00" r="4.25" fill="#dadaeb"/><circle cx="286.40" cy="371.14" r="4.25" fill="#dadaeb"/><circle cx="309.60" cy="371.14" r="4.25" fill="#dadaeb"/><circle cx="332.80" cy="371.14" r="4.25" fill="#dadaeb"/><circle cx="356.00" cy="371.14" r="4.25" fill="#dadaeb"/><circle cx="379.20" cy="371.14" r="4.25" fill="#dadaeb"/><circle cx="402.40" cy="371.14" r="4.25" fill="#dadaeb"/><circle cx="425.60" cy="371.14" r="4.25" fill="#dadaeb"/><circle cx="448.80" cy="371.14" r="4.25" fill="#dadaeb"/><circle cx="472.00" cy="371.14" r="4.25" fill="#dadaeb"/><circle cx="495.20" cy="371.14" r="4.25" fill="#dadaeb"/><circle cx="518.40" cy="371.14" r="4.25" fill="#dadaeb"/><circle cx="541.60" cy="371.14" r="4.25" fill="#dadaeb"/><circle cx="564.80" cy="371.14" r="4.25" fill="#dadaeb"/><circle cx="588.00" cy="371.14" r="4.25" fill="#dadaeb"/><circle cx="611.20" cy="371.14" r="4.25" fill="#dadaeb"/><circle cx="634.40" cy="371.14" r="4.25" fill="#dadaeb"/><circle cx="657.60" cy="371.14" r="4.25" fill="#dadaeb"/><circle cx="680.80" cy="368.79" r="4.25" fill="#dadaeb"/><circle cx="704.00" cy="368.79" r="4.25" fill="#dadaeb"/><circle cx="727.20" cy="368.79" r="4.25" fill="#dadaeb"/><circle cx="750.40" cy="371.14" r="4.25" fill="#dadaeb"/><circle cx="773.60" cy="368.79" r="4.25" fill="#dadaeb"/><path d="M100.80,322.67 L124.00,322.67 L147.20,322.67 L170.40,322.67 L193.60,319.53 L216.80,319.53 L240.00,319.53 L263.20,319.53 L286.40,322.67 L309.60,322.67 L332.80,322.67 L356.00,322.67 L379.20,322.67 L402.40,322.67 L425.60,322.67 L448.80,322.67 L472.00,322.67 L495.20,322.67 L518.40,322.67 L541.60,322.67 L564.80,322.67 L588.00,322.67 L611.20,322.67 L634.40,322.67 L657.60,322.67 L680.80,320.32 L704.00,320.32 L727.20,320.32 L750.40,322.67 L773.60,320.32" fill="none" stroke="#636363" stroke-width="1.3" stroke-opacity="0.78" stroke-linejoin="round"/><circle cx="100.80" cy="322.67" r="4.25" fill="#636363"/><circle cx="124.00" cy="322.67" r="4.25" fill="#636363"/><circle cx="147.20" cy="322.67" r="4.25" fill="#636363"/><circle cx="170.40" cy="322.67" r="4.25" fill="#636363"/><circle cx="193.60" cy="319.53" r="4.25" fill="#636363"/><circle cx="216.80" cy="319.53" r="4.25" fill="#636363"/><circle cx="240.00" cy="319.53" r="4.25" fill="#636363"/><circle cx="263.20" cy="319.53" r="4.25" fill="#636363"/><circle cx="286.40" cy="322.67" r="4.25" fill="#636363"/><circle cx="309.60" cy="322.67" r="4.25" fill="#636363"/><circle cx="332.80" cy="322.67" r="4.25" fill="#636363"/><circle cx="356.00" cy="322.67" r="4.25" fill="#636363"/><circle cx="379.20" cy="322.67" r="4.25" fill="#636363"/><circle cx="402.40" cy="322.67" r="4.25" fill="#636363"/><circle cx="425.60" cy="322.67" r="4.25" fill="#636363"/><circle cx="448.80" cy="322.67" r="4.25" fill="#636363"/><circle cx="472.00" cy="322.67" r="4.25" fill="#636363"/><circle cx="495.20" cy="322.67" r="4.25" fill="#636363"/><circle cx="518.40" cy="322.67" r="4.25" fill="#636363"/><circle cx="541.60" cy="322.67" r="4.25" fill="#636363"/><circle cx="564.80" cy="322.67" r="4.25" fill="#636363"/><circle cx="588.00" cy="322.67" r="4.25" fill="#636363"/><circle cx="611.20" cy="322.67" r="4.25" fill="#636363"/><circle cx="634.40" cy="322.67" r="4.25" fill="#636363"/><circle cx="657.60" cy="322.67" r="4.25" fill="#636363"/><circle cx="680.80" cy="320.32" r="4.25" fill="#636363"/><circle cx="704.00" cy="320.32" r="4.25" fill="#636363"/><circle cx="727.20" cy="320.32" r="4.25" fill="#636363"/><circle cx="750.40" cy="322.67" r="4.25" fill="#636363"/><circle cx="773.60" cy="320.32" r="4.25" fill="#636363"/><path d="M100.80,331.06 L124.00,331.06 L147.20,331.06 L170.40,331.06 L193.60,327.91 L216.80,327.91 L240.00,327.91 L263.20,327.91 L286.40,331.06 L309.60,331.06 L332.80,331.06 L356.00,331.06 L379.20,331.06 L402.40,331.06 L425.60,331.06 L448.80,331.06 L472.00,331.06 L495.20,331.06 L518.40,331.06 L541.60,331.06 L564.80,331.06 L588.00,331.06 L611.20,331.06 L634.40,331.06 L657.60,331.06 L680.80,328.70 L704.00,328.70 L727.20,328.70 L750.40,331.06 L773.60,328.70" fill="none" stroke="#636363" stroke-width="1.3" stroke-opacity="0.78" stroke-linejoin="round"/><circle cx="100.80" cy="331.06" r="4.25" fill="#636363"/><circle cx="124.00" cy="331.06" r="4.25" fill="#636363"/><circle cx="147.20" cy="331.06" r="4.25" fill="#636363"/><circle cx="170.40" cy="331.06" r="4.25" fill="#636363"/><circle cx="193.60" cy="327.91" r="4.25" fill="#636363"/><circle cx="216.80" cy="327.91" r="4.25" fill="#636363"/><circle cx="240.00" cy="327.91" r="4.25" fill="#636363"/><circle cx="263.20" cy="327.91" r="4.25" fill="#636363"/><circle cx="286.40" cy="331.06" r="4.25" fill="#636363"/><circle cx="309.60" cy="331.06" r="4.25" fill="#636363"/><circle cx="332.80" cy="331.06" r="4.25" fill="#636363"/><circle cx="356.00" cy="331.06" r="4.25" fill="#636363"/><circle cx="379.20" cy="331.06" r="4.25" fill="#636363"/><circle cx="402.40" cy="331.06" r="4.25" fill="#636363"/><circle cx="425.60" cy="331.06" r="4.25" fill="#636363"/><circle cx="448.80" cy="331.06" r="4.25" fill="#636363"/><circle cx="472.00" cy="331.06" r="4.25" fill="#636363"/><circle cx="495.20" cy="331.06" r="4.25" fill="#636363"/><circle cx="518.40" cy="331.06" r="4.25" fill="#636363"/><circle cx="541.60" cy="331.06" r="4.25" fill="#636363"/><circle cx="564.80" cy="331.06" r="4.25" fill="#636363"/><circle cx="588.00" cy="331.06" r="4.25" fill="#636363"/><circle cx="611.20" cy="331.06" r="4.25" fill="#636363"/><circle cx="634.40" cy="331.06" r="4.25" fill="#636363"/><circle cx="657.60" cy="331.06" r="4.25" fill="#636363"/><circle cx="680.80" cy="328.70" r="4.25" fill="#636363"/><circle cx="704.00" cy="328.70" r="4.25" fill="#636363"/><circle cx="727.20" cy="328.70" r="4.25" fill="#636363"/><circle cx="750.40" cy="331.06" r="4.25" fill="#636363"/><circle cx="773.60" cy="328.70" r="4.25" fill="#636363"/><path d="M100.80,418.57 L124.00,418.57 L147.20,418.57 L170.40,418.57 L193.60,415.42 L216.80,415.42 L240.00,415.42 L263.20,415.42 L286.40,418.57 L309.60,418.57 L332.80,418.57 L356.00,418.57 L379.20,418.57 L402.40,418.57 L425.60,418.57 L448.80,418.57 L472.00,418.57 L495.20,418.57 L518.40,418.57 L541.60,418.57 L564.80,418.57 L588.00,418.57 L611.20,418.57 L634.40,418.57 L657.60,418.57 L680.80,416.21 L704.00,416.21 L727.20,416.21 L750.40,418.57 L773.60,416.21" fill="none" stroke="#969696" stroke-width="1.3" stroke-opacity="0.78" stroke-linejoin="round"/><circle cx="100.80" cy="418.57" r="4.25" fill="#969696"/><circle cx="124.00" cy="418.57" r="4.25" fill="#969696"/><circle cx="147.20" cy="418.57" r="4.25" fill="#969696"/><circle cx="170.40" cy="418.57" r="4.25" fill="#969696"/><circle cx="193.60" cy="415.42" r="4.25" fill="#969696"/><circle cx="216.80" cy="415.42" r="4.25" fill="#969696"/><circle cx="240.00" cy="415.42" r="4.25" fill="#969696"/><circle cx="263.20" cy="415.42" r="4.25" fill="#969696"/><circle cx="286.40" cy="418.57" r="4.25" fill="#969696"/><circle cx="309.60" cy="418.57" r="4.25" fill="#969696"/><circle cx="332.80" cy="418.57" r="4.25" fill="#969696"/><circle cx="356.00" cy="418.57" r="4.25" fill="#969696"/><circle cx="379.20" cy="418.57" r="4.25" fill="#969696"/><circle cx="402.40" cy="418.57" r="4.25" fill="#969696"/><circle cx="425.60" cy="418.57" r="4.25" fill="#969696"/><circle cx="448.80" cy="418.57" r="4.25" fill="#969696"/><circle cx="472.00" cy="418.57" r="4.25" fill="#969696"/><circle cx="495.20" cy="418.57" r="4.25" fill="#969696"/><circle cx="518.40" cy="418.57" r="4.25" fill="#969696"/><circle cx="541.60" cy="418.57" r="4.25" fill="#969696"/><circle cx="564.80" cy="418.57" r="4.25" fill="#969696"/><circle cx="588.00" cy="418.57" r="4.25" fill="#969696"/><circle cx="611.20" cy="418.57" r="4.25" fill="#969696"/><circle cx="634.40" cy="418.57" r="4.25" fill="#969696"/><circle cx="657.60" cy="418.57" r="4.25" fill="#969696"/><circle cx="680.80" cy="416.21" r="4.25" fill="#969696"/><circle cx="704.00" cy="416.21" r="4.25" fill="#969696"/><circle cx="727.20" cy="416.21" r="4.25" fill="#969696"/><circle cx="750.40" cy="418.57" r="4.25" fill="#969696"/><circle cx="773.60" cy="416.21" r="4.25" fill="#969696"/><path d="M100.80,397.34 L124.00,397.34 L147.20,397.34 L170.40,397.34 L193.60,394.20 L216.80,394.20 L240.00,394.20 L263.20,394.20 L286.40,397.34 L309.60,397.34 L332.80,397.34 L356.00,397.34 L379.20,397.34 L402.40,397.34 L425.60,397.34 L448.80,397.34 L472.00,397.34 L495.20,397.34 L518.40,397.34 L541.60,397.34 L564.80,397.34 L588.00,397.34 L611.20,397.34 L634.40,397.34 L657.60,397.34 L680.80,394.99 L704.00,394.99 L727.20,394.99 L750.40,397.34 L773.60,394.99" fill="none" stroke="#969696" stroke-width="1.3" stroke-opacity="0.78" stroke-linejoin="round"/><circle cx="100.80" cy="397.34" r="4.25" fill="#969696"/><circle cx="124.00" cy="397.34" r="4.25" fill="#969696"/><circle cx="147.20" cy="397.34" r="4.25" fill="#969696"/><circle cx="170.40" cy="397.34" r="4.25" fill="#969696"/><circle cx="193.60" cy="394.20" r="4.25" fill="#969696"/><circle cx="216.80" cy="394.20" r="4.25" fill="#969696"/><circle cx="240.00" cy="394.20" r="4.25" fill="#969696"/><circle cx="263.20" cy="394.20" r="4.25" fill="#969696"/><circle cx="286.40" cy="397.34" r="4.25" fill="#969696"/><circle cx="309.60" cy="397.34" r="4.25" fill="#969696"/><circle cx="332.80" cy="397.34" r="4.25" fill="#969696"/><circle cx="356.00" cy="397.34" r="4.25" fill="#969696"/><circle cx="379.20" cy="397.34" r="4.25" fill="#969696"/><circle cx="402.40" cy="397.34" r="4.25" fill="#969696"/><circle cx="425.60" cy="397.34" r="4.25" fill="#969696"/><circle cx="448.80" cy="397.34" r="4.25" fill="#969696"/><circle cx="472.00" cy="397.34" r="4.25" fill="#969696"/><circle cx="495.20" cy="397.34" r="4.25" fill="#969696"/><circle cx="518.40" cy="397.34" r="4.25" fill="#969696"/><circle cx="541.60" cy="397.34" r="4.25" fill="#969696"/><circle cx="564.80" cy="397.34" r="4.25" fill="#969696"/><circle cx="588.00" cy="397.34" r="4.25" fill="#969696"/><circle cx="611.20" cy="397.34" r="4.25" fill="#969696"/><circle cx="634.40" cy="397.34" r="4.25" fill="#969696"/><circle cx="657.60" cy="397.34" r="4.25" fill="#969696"/><circle cx="680.80" cy="394.99" r="4.25" fill="#969696"/><circle cx="704.00" cy="394.99" r="4.25" fill="#969696"/><circle cx="727.20" cy="394.99" r="4.25" fill="#969696"/><circle cx="750.40" cy="397.34" r="4.25" fill="#969696"/><circle cx="773.60" cy="394.99" r="4.25" fill="#969696"/><path d="M100.80,337.61 L124.00,337.61 L147.20,337.61 L170.40,337.61 L193.60,334.46 L216.80,334.46 L240.00,334.46 L263.20,334.46 L286.40,337.61 L309.60,337.61 L332.80,337.61 L356.00,337.61 L379.20,337.61 L402.40,337.61 L425.60,337.61 L448.80,337.61 L472.00,337.61 L495.20,337.61 L518.40,337.61 L541.60,337.61 L564.80,337.61 L588.00,337.61 L611.20,337.61 L634.40,337.61 L657.60,337.61 L680.80,335.25 L704.00,335.25 L727.20,335.25 L750.40,337.61 L773.60,335.25" fill="none" stroke="#bdbdbd" stroke-width="1.3" stroke-opacity="0.78" stroke-linejoin="round"/><circle cx="100.80" cy="337.61" r="4.25" fill="#bdbdbd"/><circle cx="124.00" cy="337.61" r="4.25" fill="#bdbdbd"/><circle cx="147.20" cy="337.61" r="4.25" fill="#bdbdbd"/><circle cx="170.40" cy="337.61" r="4.25" fill="#bdbdbd"/><circle cx="193.60" cy="334.46" r="4.25" fill="#bdbdbd"/><circle cx="216.80" cy="334.46" r="4.25" fill="#bdbdbd"/><circle cx="240.00" cy="334.46" r="4.25" fill="#bdbdbd"/><circle cx="263.20" cy="334.46" r="4.25" fill="#bdbdbd"/><circle cx="286.40" cy="337.61" r="4.25" fill="#bdbdbd"/><circle cx="309.60" cy="337.61" r="4.25" fill="#bdbdbd"/><circle cx="332.80" cy="337.61" r="4.25" fill="#bdbdbd"/><circle cx="356.00" cy="337.61" r="4.25" fill="#bdbdbd"/><circle cx="379.20" cy="337.61" r="4.25" fill="#bdbdbd"/><circle cx="402.40" cy="337.61" r="4.25" fill="#bdbdbd"/><circle cx="425.60" cy="337.61" r="4.25" fill="#bdbdbd"/><circle cx="448.80" cy="337.61" r="4.25" fill="#bdbdbd"/><circle cx="472.00" cy="337.61" r="4.25" fill="#bdbdbd"/><circle cx="495.20" cy="337.61" r="4.25" fill="#bdbdbd"/><circle cx="518.40" cy="337.61" r="4.25" fill="#bdbdbd"/><circle cx="541.60" cy="337.61" r="4.25" fill="#bdbdbd"/><circle cx="564.80" cy="337.61" r="4.25" fill="#bdbdbd"/><circle cx="588.00" cy="337.61" r="4.25" fill="#bdbdbd"/><circle cx="611.20" cy="337.61" r="4.25" fill="#bdbdbd"/><circle cx="634.40" cy="337.61" r="4.25" fill="#bdbdbd"/><circle cx="657.60" cy="337.61" r="4.25" fill="#bdbdbd"/><circle cx="680.80" cy="335.25" r="4.25" fill="#bdbdbd"/><circle cx="704.00" cy="335.25" r="4.25" fill="#bdbdbd"/><circle cx="727.20" cy="335.25" r="4.25" fill="#bdbdbd"/><circle cx="750.40" cy="337.61" r="4.25" fill="#bdbdbd"/><circle cx="773.60" cy="335.25" r="4.25" fill="#bdbdbd"/><path d="M100.80,340.75 L124.00,340.75 L147.20,340.75 L170.40,340.75 L193.60,337.61 L216.80,337.61 L240.00,337.61 L263.20,337.61 L286.40,340.75 L309.60,340.75 L332.80,340.75 L356.00,340.75 L379.20,340.75 L402.40,340.75 L425.60,340.75 L448.80,340.75 L472.00,340.75 L495.20,340.75 L518.40,340.75 L541.60,340.75 L564.80,340.75 L588.00,340.75 L611.20,340.75 L634.40,340.75 L657.60,340.75 L680.80,338.39 L704.00,338.39 L727.20,338.39 L750.40,340.75 L773.60,338.39" fill="none" stroke="#bdbdbd" stroke-width="1.3" stroke-opacity="0.78" stroke-linejoin="round"/><circle cx="100.80" cy="340.75" r="4.25" fill="#bdbdbd"/><circle cx="124.00" cy="340.75" r="4.25" fill="#bdbdbd"/><circle cx="147.20" cy="340.75" r="4.25" fill="#bdbdbd"/><circle cx="170.40" cy="340.75" r="4.25" fill="#bdbdbd"/><circle cx="193.60" cy="337.61" r="4.25" fill="#bdbdbd"/><circle cx="216.80" cy="337.61" r="4.25" fill="#bdbdbd"/><circle cx="240.00" cy="337.61" r="4.25" fill="#bdbdbd"/><circle cx="263.20" cy="337.61" r="4.25" fill="#bdbdbd"/><circle cx="286.40" cy="340.75" r="4.25" fill="#bdbdbd"/><circle cx="309.60" cy="340.75" r="4.25" fill="#bdbdbd"/><circle cx="332.80" cy="340.75" r="4.25" fill="#bdbdbd"/><circle cx="356.00" cy="340.75" r="4.25" fill="#bdbdbd"/><circle cx="379.20" cy="340.75" r="4.25" fill="#bdbdbd"/><circle cx="402.40" cy="340.75" r="4.25" fill="#bdbdbd"/><circle cx="425.60" cy="340.75" r="4.25" fill="#bdbdbd"/><circle cx="448.80" cy="340.75" r="4.25" fill="#bdbdbd"/><circle cx="472.00" cy="340.75" r="4.25" fill="#bdbdbd"/><circle cx="495.20" cy="340.75" r="4.25" fill="#bdbdbd"/><circle cx="518.40" cy="340.75" r="4.25" fill="#bdbdbd"/><circle cx="541.60" cy="340.75" r="4.25" fill="#bdbdbd"/><circle cx="564.80" cy="340.75" r="4.25" fill="#bdbdbd"/><circle cx="588.00" cy="340.75" r="4.25" fill="#bdbdbd"/><circle cx="611.20" cy="340.75" r="4.25" fill="#bdbdbd"/><circle cx="634.40" cy="340.75" r="4.25" fill="#bdbdbd"/><circle cx="657.60" cy="340.75" r="4.25" fill="#bdbdbd"/><circle cx="680.80" cy="338.39" r="4.25" fill="#bdbdbd"/><circle cx="704.00" cy="338.39" r="4.25" fill="#bdbdbd"/><circle cx="727.20" cy="338.39" r="4.25" fill="#bdbdbd"/><circle cx="750.40" cy="340.75" r="4.25" fill="#bdbdbd"/><circle cx="773.60" cy="338.39" r="4.25" fill="#bdbdbd"/><path d="M100.80,397.08 L124.00,397.08 L147.20,397.08 L170.40,397.08 L193.60,393.94 L216.80,393.94 L240.00,393.94 L263.20,393.94 L286.40,397.08 L309.60,397.08 L332.80,397.08 L356.00,397.08 L379.20,397.08 L402.40,397.08 L425.60,397.08 L448.80,397.08 L472.00,397.08 L495.20,397.08 L518.40,397.08 L541.60,397.08 L564.80,397.08 L588.00,397.08 L611.20,397.08 L634.40,397.08 L657.60,397.08 L680.80,394.72 L704.00,394.72 L727.20,394.72 L750.40,397.08 L773.60,394.72" fill="none" stroke="#d9d9d9" stroke-width="1.3" stroke-opacity="0.78" stroke-linejoin="round"/><circle cx="100.80" cy="397.08" r="4.25" fill="#d9d9d9"/><circle cx="124.00" cy="397.08" r="4.25" fill="#d9d9d9"/><circle cx="147.20" cy="397.08" r="4.25" fill="#d9d9d9"/><circle cx="170.40" cy="397.08" r="4.25" fill="#d9d9d9"/><circle cx="193.60" cy="393.94" r="4.25" fill="#d9d9d9"/><circle cx="216.80" cy="393.94" r="4.25" fill="#d9d9d9"/><circle cx="240.00" cy="393.94" r="4.25" fill="#d9d9d9"/><circle cx="263.20" cy="393.94" r="4.25" fill="#d9d9d9"/><circle cx="286.40" cy="397.08" r="4.25" fill="#d9d9d9"/><circle cx="309.60" cy="397.08" r="4.25" fill="#d9d9d9"/><circle cx="332.80" cy="397.08" r="4.25" fill="#d9d9d9"/><circle cx="356.00" cy="397.08" r="4.25" fill="#d9d9d9"/><circle cx="379.20" cy="397.08" r="4.25" fill="#d9d9d9"/><circle cx="402.40" cy="397.08" r="4.25" fill="#d9d9d9"/><circle cx="425.60" cy="397.08" r="4.25" fill="#d9d9d9"/><circle cx="448.80" cy="397.08" r="4.25" fill="#d9d9d9"/><circle cx="472.00" cy="397.08" r="4.25" fill="#d9d9d9"/><circle cx="495.20" cy="397.08" r="4.25" fill="#d9d9d9"/><circle cx="518.40" cy="397.08" r="4.25" fill="#d9d9d9"/><circle cx="541.60" cy="397.08" r="4.25" fill="#d9d9d9"/><circle cx="564.80" cy="397.08" r="4.25" fill="#d9d9d9"/><circle cx="588.00" cy="397.08" r="4.25" fill="#d9d9d9"/><circle cx="611.20" cy="397.08" r="4.25" fill="#d9d9d9"/><circle cx="634.40" cy="397.08" r="4.25" fill="#d9d9d9"/><circle cx="657.60" cy="397.08" r="4.25" fill="#d9d9d9"/><circle cx="680.80" cy="394.72" r="4.25" fill="#d9d9d9"/><circle cx="704.00" cy="394.72" r="4.25" fill="#d9d9d9"/><circle cx="727.20" cy="394.72" r="4.25" fill="#d9d9d9"/><circle cx="750.40" cy="397.08" r="4.25" fill="#d9d9d9"/><circle cx="773.60" cy="394.72" r="4.25" fill="#d9d9d9"/><path d="M100.80,406.51 L124.00,406.51 L147.20,406.51 L170.40,406.51 L193.60,403.37 L216.80,403.37 L240.00,403.37 L263.20,403.37 L286.40,406.51 L309.60,406.51 L332.80,406.51 L356.00,406.51 L379.20,406.51 L402.40,406.51 L425.60,406.51 L448.80,406.51 L472.00,406.51 L495.20,406.51 L518.40,406.51 L541.60,406.51 L564.80,406.51 L588.00,406.51 L611.20,406.51 L634.40,406.51 L657.60,406.51 L680.80,404.16 L704.00,404.16 L727.20,404.16 L750.40,406.51 L773.60,404.16" fill="none" stroke="#d9d9d9" stroke-width="1.3" stroke-opacity="0.78" stroke-linejoin="round"/><circle cx="100.80" cy="406.51" r="4.25" fill="#d9d9d9"/><circle cx="124.00" cy="406.51" r="4.25" fill="#d9d9d9"/><circle cx="147.20" cy="406.51" r="4.25" fill="#d9d9d9"/><circle cx="170.40" cy="406.51" r="4.25" fill="#d9d9d9"/><circle cx="193.60" cy="403.37" r="4.25" fill="#d9d9d9"/><circle cx="216.80" cy="403.37" r="4.25" fill="#d9d9d9"/><circle cx="240.00" cy="403.37" r="4.25" fill="#d9d9d9"/><circle cx="263.20" cy="403.37" r="4.25" fill="#d9d9d9"/><circle cx="286.40" cy="406.51" r="4.25" fill="#d9d9d9"/><circle cx="309.60" cy="406.51" r="4.25" fill="#d9d9d9"/><circle cx="332.80" cy="406.51" r="4.25" fill="#d9d9d9"/><circle cx="356.00" cy="406.51" r="4.25" fill="#d9d9d9"/><circle cx="379.20" cy="406.51" r="4.25" fill="#d9d9d9"/><circle cx="402.40" cy="406.51" r="4.25" fill="#d9d9d9"/><circle cx="425.60" cy="406.51" r="4.25" fill="#d9d9d9"/><circle cx="448.80" cy="406.51" r="4.25" fill="#d9d9d9"/><circle cx="472.00" cy="406.51" r="4.25" fill="#d9d9d9"/><circle cx="495.20" cy="406.51" r="4.25" fill="#d9d9d9"/><circle cx="518.40" cy="406.51" r="4.25" fill="#d9d9d9"/><circle cx="541.60" cy="406.51" r="4.25" fill="#d9d9d9"/><circle cx="564.80" cy="406.51" r="4.25" fill="#d9d9d9"/><circle cx="588.00" cy="406.51" r="4.25" fill="#d9d9d9"/><circle cx="611.20" cy="406.51" r="4.25" fill="#d9d9d9"/><circle cx="634.40" cy="406.51" r="4.25" fill="#d9d9d9"/><circle cx="657.60" cy="406.51" r="4.25" fill="#d9d9d9"/><circle cx="680.80" cy="404.16" r="4.25" fill="#d9d9d9"/><circle cx="704.00" cy="404.16" r="4.25" fill="#d9d9d9"/><circle cx="727.20" cy="404.16" r="4.25" fill="#d9d9d9"/><circle cx="750.40" cy="406.51" r="4.25" fill="#d9d9d9"/><circle cx="773.60" cy="404.16" r="4.25" fill="#d9d9d9"/></g><line x1="67.5" y1="258.1" x2="807.5" y2="258.1" stroke="#b5b5b5" stroke-width="1.2"/><line x1="67.5" y1="456.4" x2="807.5" y2="456.4" stroke="#999" stroke-width="1.3"/><line x1="67.5" y1="257.5" x2="67.5" y2="457.04999999999995" stroke="#555" stroke-width="1.2"/><line x1="807.5" y1="257.5" x2="807.5" y2="457.04999999999995" stroke="#6a6a6a" stroke-width="1.2"/><line x1="65.5" y1="276.30" x2="67.5" y2="276.30" stroke="#444" stroke-width="1.0"/><line x1="65.5" y1="302.50" x2="67.5" y2="302.50" stroke="#444" stroke-width="1.0"/><line x1="65.5" y1="328.70" x2="67.5" y2="328.70" stroke="#444" stroke-width="1.0"/><line x1="65.5" y1="354.90" x2="67.5" y2="354.90" stroke="#444" stroke-width="1.0"/><line x1="65.5" y1="381.10" x2="67.5" y2="381.10" stroke="#444" stroke-width="1.0"/><line x1="65.5" y1="407.30" x2="67.5" y2="407.30" stroke="#444" stroke-width="1.0"/><line x1="65.5" y1="433.50" x2="67.5" y2="433.50" stroke="#444" stroke-width="1.0"/><line x1="100.80" y1="456.4" x2="100.80" y2="458.4" stroke="#444" stroke-width="1.0"/><line x1="124.00" y1="456.4" x2="124.00" y2="458.4" stroke="#444" stroke-width="1.0"/><line x1="147.20" y1="456.4" x2="147.20" y2="458.4" stroke="#444" stroke-width="1.0"/><line x1="170.40" y1="456.4" x2="170.40" y2="458.4" stroke="#444" stroke-width="1.0"/><line x1="193.60" y1="456.4" x2="193.60" y2="458.4" stroke="#444" stroke-width="1.0"/><line x1="216.80" y1="456.4" x2="216.80" y2="458.4" stroke="#444" stroke-width="1.0"/><line x1="240.00" y1="456.4" x2="240.00" y2="458.4" stroke="#444" stroke-width="1.0"/><line x1="263.20" y1="456.4" x2="263.20" y2="458.4" stroke="#444" stroke-width="1.0"/><line x1="286.40" y1="456.4" x2="286.40" y2="458.4" stroke="#444" stroke-width="1.0"/><line x1="309.60" y1="456.4" x2="309.60" y2="458.4" stroke="#444" stroke-width="1.0"/><line x1="332.80" y1="456.4" x2="332.80" y2="458.4" stroke="#444" stroke-width="1.0"/><line x1="356.00" y1="456.4" x2="356.00" y2="458.4" stroke="#444" stroke-width="1.0"/><line x1="379.20" y1="456.4" x2="379.20" y2="458.4" stroke="#444" stroke-width="1.0"/><line x1="402.40" y1="456.4" x2="402.40" y2="458.4" stroke="#444" stroke-width="1.0"/><line x1="425.60" y1="456.4" x2="425.60" y2="458.4" stroke="#444" stroke-width="1.0"/><line x1="448.80" y1="456.4" x2="448.80" y2="458.4" stroke="#444" stroke-width="1.0"/><line x1="472.00" y1="456.4" x2="472.00" y2="458.4" stroke="#444" stroke-width="1.0"/><line x1="495.20" y1="456.4" x2="495.20" y2="458.4" stroke="#444" stroke-width="1.0"/><line x1="518.40" y1="456.4" x2="518.40" y2="458.4" stroke="#444" stroke-width="1.0"/><line x1="541.60" y1="456.4" x2="541.60" y2="458.4" stroke="#444" stroke-width="1.0"/><line x1="564.80" y1="456.4" x2="564.80" y2="458.4" stroke="#444" stroke-width="1.0"/><line x1="588.00" y1="456.4" x2="588.00" y2="458.4" stroke="#444" stroke-width="1.0"/><line x1="611.20" y1="456.4" x2="611.20" y2="458.4" stroke="#444" stroke-width="1.0"/><line x1="634.40" y1="456.4" x2="634.40" y2="458.4" stroke="#444" stroke-width="1.0"/><line x1="657.60" y1="456.4" x2="657.60" y2="458.4" stroke="#444" stroke-width="1.0"/><line x1="680.80" y1="456.4" x2="680.80" y2="458.4" stroke="#444" stroke-width="1.0"/><line x1="704.00" y1="456.4" x2="704.00" y2="458.4" stroke="#444" stroke-width="1.0"/><line x1="727.20" y1="456.4" x2="727.20" y2="458.4" stroke="#444" stroke-width="1.0"/><line x1="750.40" y1="456.4" x2="750.40" y2="458.4" stroke="#444" stroke-width="1.0"/><line x1="773.60" y1="456.4" x2="773.60" y2="458.4" stroke="#444" stroke-width="1.0"/>
<clipPath id="c3"><rect x="65.0" y="561.9" width="743.9" height="211.5"/></clipPath><g clip-path="url(#c3)"><path d="M215.35,762.63 L238.68,759.31 L262.01,759.31 L285.34,755.99 L308.67,758.94 L332.00,758.20 L355.33,762.26 L378.66,761.52 L401.99,762.26 L425.32,763.00 L448.65,761.89 L471.98,761.89 L495.31,761.89 L518.64,761.89 L541.97,761.89 L565.30,761.89 L588.63,761.89 L611.96,761.89 L635.29,761.89 L658.62,761.89 L681.95,761.89 L705.28,761.89 L728.61,761.89 L751.94,761.89 L775.27,761.89" fill="none" stroke="#3182bd" stroke-width="1.3" stroke-opacity="0.78" stroke-linejoin="round"/><circle cx="215.35" cy="762.63" r="4.35" fill="#3182bd"/><circle cx="238.68" cy="759.31" r="4.35" fill="#3182bd"/><circle cx="262.01" cy="759.31" r="4.35" fill="#3182bd"/><circle cx="285.34" cy="755.99" r="4.35" fill="#3182bd"/><circle cx="308.67" cy="758.94" r="4.35" fill="#3182bd"/><circle cx="332.00" cy="758.20" r="4.35" fill="#3182bd"/><circle cx="355.33" cy="762.26" r="4.35" fill="#3182bd"/><circle cx="378.66" cy="761.52" r="4.35" fill="#3182bd"/><circle cx="401.99" cy="762.26" r="4.35" fill="#3182bd"/><circle cx="425.32" cy="763.00" r="4.35" fill="#3182bd"/><circle cx="448.65" cy="761.89" r="4.35" fill="#3182bd"/><circle cx="471.98" cy="761.89" r="4.35" fill="#3182bd"/><circle cx="495.31" cy="761.89" r="4.35" fill="#3182bd"/><circle cx="518.64" cy="761.89" r="4.35" fill="#3182bd"/><circle cx="541.97" cy="761.89" r="4.35" fill="#3182bd"/><circle cx="565.30" cy="761.89" r="4.35" fill="#3182bd"/><circle cx="588.63" cy="761.89" r="4.35" fill="#3182bd"/><circle cx="611.96" cy="761.89" r="4.35" fill="#3182bd"/><circle cx="635.29" cy="761.89" r="4.35" fill="#3182bd"/><circle cx="658.62" cy="761.89" r="4.35" fill="#3182bd"/><circle cx="681.95" cy="761.89" r="4.35" fill="#3182bd"/><circle cx="705.28" cy="761.89" r="4.35" fill="#3182bd"/><circle cx="728.61" cy="761.89" r="4.35" fill="#3182bd"/><circle cx="751.94" cy="761.89" r="4.35" fill="#3182bd"/><circle cx="775.27" cy="761.89" r="4.35" fill="#3182bd"/><path d="M98.70,741.97 L122.03,741.23 L145.36,741.23 L168.69,741.23 L192.02,741.23 L215.35,741.23 L238.68,737.91 L262.01,737.17 L285.34,734.96 L308.67,737.91 L332.00,737.17 L355.33,742.34 L378.66,740.86 L401.99,741.23 L425.32,741.23 L448.65,741.23 L471.98,741.23 L495.31,741.23 L518.64,741.23 L541.97,741.23 L565.30,741.23 L588.63,741.23 L611.96,741.23 L635.29,741.23 L658.62,741.23 L681.95,741.23 L705.28,741.23 L728.61,741.23 L751.94,741.23 L775.27,741.23" fill="none" stroke="#c6dbef" stroke-width="1.3" stroke-opacity="0.78" stroke-linejoin="round"/><circle cx="98.70" cy="741.97" r="4.35" fill="#c6dbef"/><circle cx="122.03" cy="741.23" r="4.35" fill="#c6dbef"/><circle cx="145.36" cy="741.23" r="4.35" fill="#c6dbef"/><circle cx="168.69" cy="741.23" r="4.35" fill="#c6dbef"/><circle cx="192.02" cy="741.23" r="4.35" fill="#c6dbef"/><circle cx="215.35" cy="741.23" r="4.35" fill="#c6dbef"/><circle cx="238.68" cy="737.91" r="4.35" fill="#c6dbef"/><circle cx="262.01" cy="737.17" r="4.35" fill="#c6dbef"/><circle cx="285.34" cy="734.96" r="4.35" fill="#c6dbef"/><circle cx="308.67" cy="737.91" r="4.35" fill="#c6dbef"/><circle cx="332.00" cy="737.17" r="4.35" fill="#c6dbef"/><circle cx="355.33" cy="742.34" r="4.35" fill="#c6dbef"/><circle cx="378.66" cy="740.86" r="4.35" fill="#c6dbef"/><circle cx="401.99" cy="741.23" r="4.35" fill="#c6dbef"/><circle cx="425.32" cy="741.23" r="4.35" fill="#c6dbef"/><circle cx="448.65" cy="741.23" r="4.35" fill="#c6dbef"/><circle cx="471.98" cy="741.23" r="4.35" fill="#c6dbef"/><circle cx="495.31" cy="741.23" r="4.35" fill="#c6dbef"/><circle cx="518.64" cy="741.23" r="4.35" fill="#c6dbef"/><circle cx="541.97" cy="741.23" r="4.35" fill="#c6dbef"/><circle cx="565.30" cy="741.23" r="4.35" fill="#c6dbef"/><circle cx="588.63" cy="741.23" r="4.35" fill="#c6dbef"/><circle cx="611.96" cy="741.23" r="4.35" fill="#c6dbef"/><circle cx="635.29" cy="741.23" r="4.35" fill="#c6dbef"/><circle cx="658.62" cy="741.23" r="4.35" fill="#c6dbef"/><circle cx="681.95" cy="741.23" r="4.35" fill="#c6dbef"/><circle cx="705.28" cy="741.23" r="4.35" fill="#c6dbef"/><circle cx="728.61" cy="741.23" r="4.35" fill="#c6dbef"/><circle cx="751.94" cy="741.23" r="4.35" fill="#c6dbef"/><circle cx="775.27" cy="741.23" r="4.35" fill="#c6dbef"/><path d="M98.70,737.91 L122.03,737.54 L145.36,736.80 L168.69,737.17 L192.02,738.28 L215.35,738.28 L238.68,734.22 L262.01,733.85 L285.34,731.27 L308.67,735.33" fill="none" stroke="#fdae6b" stroke-width="1.3" stroke-opacity="0.78" stroke-linejoin="round"/><path d="M401.99,736.80 L425.32,736.80 L448.65,736.80 L471.98,736.80 L495.31,736.80 L518.64,736.80 L541.97,736.80 L565.30,736.80 L588.63,736.80 L611.96,736.80 L635.29,736.80 L658.62,736.80 L681.95,736.80 L705.28,736.80 L728.61,736.80 L751.94,736.80 L775.27,736.80" fill="none" stroke="#fdae6b" stroke-width="1.3" stroke-opacity="0.78" stroke-linejoin="round"/><circle cx="98.70" cy="737.91" r="4.35" fill="#fdae6b"/><circle cx="122.03" cy="737.54" r="4.35" fill="#fdae6b"/><circle cx="145.36" cy="736.80" r="4.35" fill="#fdae6b"/><circle cx="168.69" cy="737.17" r="4.35" fill="#fdae6b"/><circle cx="192.02" cy="738.28" r="4.35" fill="#fdae6b"/><circle cx="215.35" cy="738.28" r="4.35" fill="#fdae6b"/><circle cx="238.68" cy="734.22" r="4.35" fill="#fdae6b"/><circle cx="262.01" cy="733.85" r="4.35" fill="#fdae6b"/><circle cx="285.34" cy="731.27" r="4.35" fill="#fdae6b"/><circle cx="308.67" cy="735.33" r="4.35" fill="#fdae6b"/><circle cx="401.99" cy="736.80" r="4.35" fill="#fdae6b"/><circle cx="425.32" cy="736.80" r="4.35" fill="#fdae6b"/><circle cx="448.65" cy="736.80" r="4.35" fill="#fdae6b"/><circle cx="471.98" cy="736.80" r="4.35" fill="#fdae6b"/><circle cx="495.31" cy="736.80" r="4.35" fill="#fdae6b"/><circle cx="518.64" cy="736.80" r="4.35" fill="#fdae6b"/><circle cx="541.97" cy="736.80" r="4.35" fill="#fdae6b"/><circle cx="565.30" cy="736.80" r="4.35" fill="#fdae6b"/><circle cx="588.63" cy="736.80" r="4.35" fill="#fdae6b"/><circle cx="611.96" cy="736.80" r="4.35" fill="#fdae6b"/><circle cx="635.29" cy="736.80" r="4.35" fill="#fdae6b"/><circle cx="658.62" cy="736.80" r="4.35" fill="#fdae6b"/><circle cx="681.95" cy="736.80" r="4.35" fill="#fdae6b"/><circle cx="705.28" cy="736.80" r="4.35" fill="#fdae6b"/><circle cx="728.61" cy="736.80" r="4.35" fill="#fdae6b"/><circle cx="751.94" cy="736.80" r="4.35" fill="#fdae6b"/><circle cx="775.27" cy="736.80" r="4.35" fill="#fdae6b"/><path d="M98.70,726.84 L122.03,725.36 L145.36,725.73 L168.69,726.10 L192.02,725.36 L215.35,725.36 L238.68,722.04 L262.01,721.67 L285.34,718.35 L308.67,721.67 L332.00,720.93 L355.33,724.99 L378.66,724.62 L401.99,724.62 L425.32,724.62 L448.65,724.62 L471.98,724.62 L495.31,724.62 L518.64,724.62 L541.97,724.62 L565.30,724.62 L588.63,724.62 L611.96,724.62 L635.29,724.62 L658.62,724.62 L681.95,724.62 L705.28,724.62 L728.61,724.62 L751.94,724.62 L775.27,724.62" fill="none" stroke="#a1d99b" stroke-width="1.3" stroke-opacity="0.78" stroke-linejoin="round"/><circle cx="98.70" cy="726.84" r="4.35" fill="#a1d99b"/><circle cx="122.03" cy="725.36" r="4.35" fill="#a1d99b"/><circle cx="145.36" cy="725.73" r="4.35" fill="#a1d99b"/><circle cx="168.69" cy="726.10" r="4.35" fill="#a1d99b"/><circle cx="192.02" cy="725.36" r="4.35" fill="#a1d99b"/><circle cx="215.35" cy="725.36" r="4.35" fill="#a1d99b"/><circle cx="238.68" cy="722.04" r="4.35" fill="#a1d99b"/><circle cx="262.01" cy="721.67" r="4.35" fill="#a1d99b"/><circle cx="285.34" cy="718.35" r="4.35" fill="#a1d99b"/><circle cx="308.67" cy="721.67" r="4.35" fill="#a1d99b"/><circle cx="332.00" cy="720.93" r="4.35" fill="#a1d99b"/><circle cx="355.33" cy="724.99" r="4.35" fill="#a1d99b"/><circle cx="378.66" cy="724.62" r="4.35" fill="#a1d99b"/><circle cx="401.99" cy="724.62" r="4.35" fill="#a1d99b"/><circle cx="425.32" cy="724.62" r="4.35" fill="#a1d99b"/><circle cx="448.65" cy="724.62" r="4.35" fill="#a1d99b"/><circle cx="471.98" cy="724.62" r="4.35" fill="#a1d99b"/><circle cx="495.31" cy="724.62" r="4.35" fill="#a1d99b"/><circle cx="518.64" cy="724.62" r="4.35" fill="#a1d99b"/><circle cx="541.97" cy="724.62" r="4.35" fill="#a1d99b"/><circle cx="565.30" cy="724.62" r="4.35" fill="#a1d99b"/><circle cx="588.63" cy="724.62" r="4.35" fill="#a1d99b"/><circle cx="611.96" cy="724.62" r="4.35" fill="#a1d99b"/><circle cx="635.29" cy="724.62" r="4.35" fill="#a1d99b"/><circle cx="658.62" cy="724.62" r="4.35" fill="#a1d99b"/><circle cx="681.95" cy="724.62" r="4.35" fill="#a1d99b"/><circle cx="705.28" cy="724.62" r="4.35" fill="#a1d99b"/><circle cx="728.61" cy="724.62" r="4.35" fill="#a1d99b"/><circle cx="751.94" cy="724.62" r="4.35" fill="#a1d99b"/><circle cx="775.27" cy="724.62" r="4.35" fill="#a1d99b"/><path d="M98.70,747.87 L122.03,746.76 L145.36,746.76 L168.69,746.76 L192.02,746.76" fill="none" stroke="#9e9ac8" stroke-width="1.3" stroke-opacity="0.78" stroke-linejoin="round"/><path d="M285.34,740.86 L308.67,744.18 L332.00,744.18 L355.33,747.87 L378.66,746.40 L401.99,747.13 L425.32,747.13 L448.65,747.13 L471.98,747.13 L495.31,747.13 L518.64,747.13 L541.97,747.13 L565.30,747.13 L588.63,747.13 L611.96,747.13 L635.29,747.13 L658.62,747.13 L681.95,747.13 L705.28,747.13 L728.61,747.13 L751.94,747.13 L775.27,747.13" fill="none" stroke="#9e9ac8" stroke-width="1.3" stroke-opacity="0.78" stroke-linejoin="round"/><circle cx="98.70" cy="747.87" r="4.35" fill="#9e9ac8"/><circle cx="122.03" cy="746.76" r="4.35" fill="#9e9ac8"/><circle cx="145.36" cy="746.76" r="4.35" fill="#9e9ac8"/><circle cx="168.69" cy="746.76" r="4.35" fill="#9e9ac8"/><circle cx="192.02" cy="746.76" r="4.35" fill="#9e9ac8"/><circle cx="285.34" cy="740.86" r="4.35" fill="#9e9ac8"/><circle cx="308.67" cy="744.18" r="4.35" fill="#9e9ac8"/><circle cx="332.00" cy="744.18" r="4.35" fill="#9e9ac8"/><circle cx="355.33" cy="747.87" r="4.35" fill="#9e9ac8"/><circle cx="378.66" cy="746.40" r="4.35" fill="#9e9ac8"/><circle cx="401.99" cy="747.13" r="4.35" fill="#9e9ac8"/><circle cx="425.32" cy="747.13" r="4.35" fill="#9e9ac8"/><circle cx="448.65" cy="747.13" r="4.35" fill="#9e9ac8"/><circle cx="471.98" cy="747.13" r="4.35" fill="#9e9ac8"/><circle cx="495.31" cy="747.13" r="4.35" fill="#9e9ac8"/><circle cx="518.64" cy="747.13" r="4.35" fill="#9e9ac8"/><circle cx="541.97" cy="747.13" r="4.35" fill="#9e9ac8"/><circle cx="565.30" cy="747.13" r="4.35" fill="#9e9ac8"/><circle cx="588.63" cy="747.13" r="4.35" fill="#9e9ac8"/><circle cx="611.96" cy="747.13" r="4.35" fill="#9e9ac8"/><circle cx="635.29" cy="747.13" r="4.35" fill="#9e9ac8"/><circle cx="658.62" cy="747.13" r="4.35" fill="#9e9ac8"/><circle cx="681.95" cy="747.13" r="4.35" fill="#9e9ac8"/><circle cx="705.28" cy="747.13" r="4.35" fill="#9e9ac8"/><circle cx="728.61" cy="747.13" r="4.35" fill="#9e9ac8"/><circle cx="751.94" cy="747.13" r="4.35" fill="#9e9ac8"/><circle cx="775.27" cy="747.13" r="4.35" fill="#9e9ac8"/><path d="M98.70,611.71 L122.03,610.60 L145.36,611.34 L168.69,611.34 L192.02,610.60 L215.35,610.60" fill="none" stroke="#636363" stroke-width="1.3" stroke-opacity="0.78" stroke-linejoin="round"/><path d="M308.67,607.28 L332.00,607.28 L355.33,611.71 L378.66,611.34 L401.99,611.71 L425.32,612.45 L448.65,611.34 L471.98,611.34 L495.31,611.34 L518.64,611.34 L541.97,611.34 L565.30,611.34 L588.63,611.34 L611.96,611.34 L635.29,611.34 L658.62,611.34 L681.95,611.34 L705.28,611.34 L728.61,611.34 L751.94,611.34 L775.27,611.34" fill="none" stroke="#636363" stroke-width="1.3" stroke-opacity="0.78" stroke-linejoin="round"/><circle cx="98.70" cy="611.71" r="4.35" fill="#636363"/><circle cx="122.03" cy="610.60" r="4.35" fill="#636363"/><circle cx="145.36" cy="611.34" r="4.35" fill="#636363"/><circle cx="168.69" cy="611.34" r="4.35" fill="#636363"/><circle cx="192.02" cy="610.60" r="4.35" fill="#636363"/><circle cx="215.35" cy="610.60" r="4.35" fill="#636363"/><circle cx="308.67" cy="607.28" r="4.35" fill="#636363"/><circle cx="332.00" cy="607.28" r="4.35" fill="#636363"/><circle cx="355.33" cy="611.71" r="4.35" fill="#636363"/><circle cx="378.66" cy="611.34" r="4.35" fill="#636363"/><circle cx="401.99" cy="611.71" r="4.35" fill="#636363"/><circle cx="425.32" cy="612.45" r="4.35" fill="#636363"/><circle cx="448.65" cy="611.34" r="4.35" fill="#636363"/><circle cx="471.98" cy="611.34" r="4.35" fill="#636363"/><circle cx="495.31" cy="611.34" r="4.35" fill="#636363"/><circle cx="518.64" cy="611.34" r="4.35" fill="#636363"/><circle cx="541.97" cy="611.34" r="4.35" fill="#636363"/><circle cx="565.30" cy="611.34" r="4.35" fill="#636363"/><circle cx="588.63" cy="611.34" r="4.35" fill="#636363"/><circle cx="611.96" cy="611.34" r="4.35" fill="#636363"/><circle cx="635.29" cy="611.34" r="4.35" fill="#636363"/><circle cx="658.62" cy="611.34" r="4.35" fill="#636363"/><circle cx="681.95" cy="611.34" r="4.35" fill="#636363"/><circle cx="705.28" cy="611.34" r="4.35" fill="#636363"/><circle cx="728.61" cy="611.34" r="4.35" fill="#636363"/><circle cx="751.94" cy="611.34" r="4.35" fill="#636363"/><circle cx="775.27" cy="611.34" r="4.35" fill="#636363"/><path d="M98.70,576.66 L122.03,575.18 L145.36,575.18 L168.69,575.18 L192.02,575.18 L215.35,574.44 L238.68,571.12 L262.01,571.12" fill="none" stroke="#d9d9d9" stroke-width="1.3" stroke-opacity="0.78" stroke-linejoin="round"/><path d="M355.33,576.29 L378.66,574.81 L401.99,574.81 L425.32,574.81 L448.65,574.81 L471.98,574.81 L495.31,574.81 L518.64,574.81 L541.97,574.81 L565.30,574.81 L588.63,574.81 L611.96,576.66 L635.29,575.55 L658.62,575.55 L681.95,575.55 L705.28,575.55 L728.61,575.55 L751.94,575.55 L775.27,575.55" fill="none" stroke="#d9d9d9" stroke-width="1.3" stroke-opacity="0.78" stroke-linejoin="round"/><circle cx="98.70" cy="576.66" r="4.35" fill="#d9d9d9"/><circle cx="122.03" cy="575.18" r="4.35" fill="#d9d9d9"/><circle cx="145.36" cy="575.18" r="4.35" fill="#d9d9d9"/><circle cx="168.69" cy="575.18" r="4.35" fill="#d9d9d9"/><circle cx="192.02" cy="575.18" r="4.35" fill="#d9d9d9"/><circle cx="215.35" cy="574.44" r="4.35" fill="#d9d9d9"/><circle cx="238.68" cy="571.12" r="4.35" fill="#d9d9d9"/><circle cx="262.01" cy="571.12" r="4.35" fill="#d9d9d9"/><circle cx="355.33" cy="576.29" r="4.35" fill="#d9d9d9"/><circle cx="378.66" cy="574.81" r="4.35" fill="#d9d9d9"/><circle cx="401.99" cy="574.81" r="4.35" fill="#d9d9d9"/><circle cx="425.32" cy="574.81" r="4.35" fill="#d9d9d9"/><circle cx="448.65" cy="574.81" r="4.35" fill="#d9d9d9"/><circle cx="471.98" cy="574.81" r="4.35" fill="#d9d9d9"/><circle cx="495.31" cy="574.81" r="4.35" fill="#d9d9d9"/><circle cx="518.64" cy="574.81" r="4.35" fill="#d9d9d9"/><circle cx="541.97" cy="574.81" r="4.35" fill="#d9d9d9"/><circle cx="565.30" cy="574.81" r="4.35" fill="#d9d9d9"/><circle cx="588.63" cy="574.81" r="4.35" fill="#d9d9d9"/><circle cx="611.96" cy="576.66" r="4.35" fill="#d9d9d9"/><circle cx="635.29" cy="575.55" r="4.35" fill="#d9d9d9"/><circle cx="658.62" cy="575.55" r="4.35" fill="#d9d9d9"/><circle cx="681.95" cy="575.55" r="4.35" fill="#d9d9d9"/><circle cx="705.28" cy="575.55" r="4.35" fill="#d9d9d9"/><circle cx="728.61" cy="575.55" r="4.35" fill="#d9d9d9"/><circle cx="751.94" cy="575.55" r="4.35" fill="#d9d9d9"/><circle cx="775.27" cy="575.55" r="4.35" fill="#d9d9d9"/></g><line x1="65.0" y1="561.9" x2="808.9" y2="561.9" stroke="#8a8a8a" stroke-width="1.9"/><line x1="65.0" y1="773.4" x2="808.9" y2="773.4" stroke="#dcdcdc" stroke-width="1.5"/><line x1="65.0" y1="560.9499999999999" x2="65.0" y2="774.15" stroke="#8a8a8a" stroke-width="1.9"/><line x1="808.9" y1="560.9499999999999" x2="808.9" y2="774.15" stroke="#a0a0a0" stroke-width="1.8"/><line x1="63.0" y1="568.50" x2="65.0" y2="568.50" stroke="#444" stroke-width="1.0"/><line x1="63.0" y1="605.20" x2="65.0" y2="605.20" stroke="#444" stroke-width="1.0"/><line x1="63.0" y1="641.90" x2="65.0" y2="641.90" stroke="#444" stroke-width="1.0"/><line x1="63.0" y1="678.60" x2="65.0" y2="678.60" stroke="#444" stroke-width="1.0"/><line x1="63.0" y1="715.30" x2="65.0" y2="715.30" stroke="#444" stroke-width="1.0"/><line x1="63.0" y1="752.00" x2="65.0" y2="752.00" stroke="#444" stroke-width="1.0"/><line x1="98.70" y1="773.4" x2="98.70" y2="775.4" stroke="#444" stroke-width="1.0"/><line x1="122.03" y1="773.4" x2="122.03" y2="775.4" stroke="#444" stroke-width="1.0"/><line x1="145.36" y1="773.4" x2="145.36" y2="775.4" stroke="#444" stroke-width="1.0"/><line x1="168.69" y1="773.4" x2="168.69" y2="775.4" stroke="#444" stroke-width="1.0"/><line x1="192.02" y1="773.4" x2="192.02" y2="775.4" stroke="#444" stroke-width="1.0"/><line x1="215.35" y1="773.4" x2="215.35" y2="775.4" stroke="#444" stroke-width="1.0"/><line x1="238.68" y1="773.4" x2="238.68" y2="775.4" stroke="#444" stroke-width="1.0"/><line x1="262.01" y1="773.4" x2="262.01" y2="775.4" stroke="#444" stroke-width="1.0"/><line x1="285.34" y1="773.4" x2="285.34" y2="775.4" stroke="#444" stroke-width="1.0"/><line x1="308.67" y1="773.4" x2="308.67" y2="775.4" stroke="#444" stroke-width="1.0"/><line x1="332.00" y1="773.4" x2="332.00" y2="775.4" stroke="#444" stroke-width="1.0"/><line x1="355.33" y1="773.4" x2="355.33" y2="775.4" stroke="#444" stroke-width="1.0"/><line x1="378.66" y1="773.4" x2="378.66" y2="775.4" stroke="#444" stroke-width="1.0"/><line x1="401.99" y1="773.4" x2="401.99" y2="775.4" stroke="#444" stroke-width="1.0"/><line x1="425.32" y1="773.4" x2="425.32" y2="775.4" stroke="#444" stroke-width="1.0"/><line x1="448.65" y1="773.4" x2="448.65" y2="775.4" stroke="#444" stroke-width="1.0"/><line x1="471.98" y1="773.4" x2="471.98" y2="775.4" stroke="#444" stroke-width="1.0"/><line x1="495.31" y1="773.4" x2="495.31" y2="775.4" stroke="#444" stroke-width="1.0"/><line x1="518.64" y1="773.4" x2="518.64" y2="775.4" stroke="#444" stroke-width="1.0"/><line x1="541.97" y1="773.4" x2="541.97" y2="775.4" stroke="#444" stroke-width="1.0"/><line x1="565.30" y1="773.4" x2="565.30" y2="775.4" stroke="#444" stroke-width="1.0"/><line x1="588.63" y1="773.4" x2="588.63" y2="775.4" stroke="#444" stroke-width="1.0"/><line x1="611.96" y1="773.4" x2="611.96" y2="775.4" stroke="#444" stroke-width="1.0"/><line x1="635.29" y1="773.4" x2="635.29" y2="775.4" stroke="#444" stroke-width="1.0"/><line x1="658.62" y1="773.4" x2="658.62" y2="775.4" stroke="#444" stroke-width="1.0"/><line x1="681.95" y1="773.4" x2="681.95" y2="775.4" stroke="#444" stroke-width="1.0"/><line x1="705.28" y1="773.4" x2="705.28" y2="775.4" stroke="#444" stroke-width="1.0"/><line x1="728.61" y1="773.4" x2="728.61" y2="775.4" stroke="#444" stroke-width="1.0"/><line x1="751.94" y1="773.4" x2="751.94" y2="775.4" stroke="#444" stroke-width="1.0"/><line x1="775.27" y1="773.4" x2="775.27" y2="775.4" stroke="#444" stroke-width="1.0"/>
<clipPath id="c4"><rect x="65.0" y="815.7" width="743.9" height="211.0"/></clipPath><g clip-path="url(#c4)"><path d="M122.03,1014.86 L145.36,1014.86 L168.69,1015.60 L192.02,1012.28 L215.35,1011.54 L238.68,1011.54 L262.01,1012.28 L285.34,1015.60 L308.67,1014.86 L332.00,1014.86 L355.33,1014.86 L378.66,1014.86 L401.99,1014.86 L425.32,1016.34 L448.65,1016.34 L471.98,1016.34 L495.31,1014.86 L518.64,1014.86 L541.97,1014.86 L565.30,1014.86 L588.63,1014.86 L611.96,1014.86 L635.29,1014.86 L658.62,1014.86 L681.95,1011.91 L705.28,1011.91 L728.61,1011.91 L751.94,1014.86 L775.27,1011.91" fill="none" stroke="#3182bd" stroke-width="1.3" stroke-opacity="0.78" stroke-linejoin="round"/><circle cx="122.03" cy="1014.86" r="4.35" fill="#3182bd"/><circle cx="145.36" cy="1014.86" r="4.35" fill="#3182bd"/><circle cx="168.69" cy="1015.60" r="4.35" fill="#3182bd"/><circle cx="192.02" cy="1012.28" r="4.35" fill="#3182bd"/><circle cx="215.35" cy="1011.54" r="4.35" fill="#3182bd"/><circle cx="238.68" cy="1011.54" r="4.35" fill="#3182bd"/><circle cx="262.01" cy="1012.28" r="4.35" fill="#3182bd"/><circle cx="285.34" cy="1015.60" r="4.35" fill="#3182bd"/><circle cx="308.67" cy="1014.86" r="4.35" fill="#3182bd"/><circle cx="332.00" cy="1014.86" r="4.35" fill="#3182bd"/><circle cx="355.33" cy="1014.86" r="4.35" fill="#3182bd"/><circle cx="378.66" cy="1014.86" r="4.35" fill="#3182bd"/><circle cx="401.99" cy="1014.86" r="4.35" fill="#3182bd"/><circle cx="425.32" cy="1016.34" r="4.35" fill="#3182bd"/><circle cx="448.65" cy="1016.34" r="4.35" fill="#3182bd"/><circle cx="471.98" cy="1016.34" r="4.35" fill="#3182bd"/><circle cx="495.31" cy="1014.86" r="4.35" fill="#3182bd"/><circle cx="518.64" cy="1014.86" r="4.35" fill="#3182bd"/><circle cx="541.97" cy="1014.86" r="4.35" fill="#3182bd"/><circle cx="565.30" cy="1014.86" r="4.35" fill="#3182bd"/><circle cx="588.63" cy="1014.86" r="4.35" fill="#3182bd"/><circle cx="611.96" cy="1014.86" r="4.35" fill="#3182bd"/><circle cx="635.29" cy="1014.86" r="4.35" fill="#3182bd"/><circle cx="658.62" cy="1014.86" r="4.35" fill="#3182bd"/><circle cx="681.95" cy="1011.91" r="4.35" fill="#3182bd"/><circle cx="705.28" cy="1011.91" r="4.35" fill="#3182bd"/><circle cx="728.61" cy="1011.91" r="4.35" fill="#3182bd"/><circle cx="751.94" cy="1014.86" r="4.35" fill="#3182bd"/><circle cx="775.27" cy="1011.91" r="4.35" fill="#3182bd"/><path d="M98.70,993.09 L122.03,993.09 L145.36,993.09 L168.69,993.09 L192.02,988.66 L215.35,988.66 L238.68,988.66 L262.01,988.66 L285.34,993.09 L308.67,993.09 L332.00,993.09 L355.33,993.09 L378.66,993.09 L401.99,993.09 L425.32,993.09 L448.65,993.09 L471.98,993.09 L495.31,993.09 L518.64,993.09 L541.97,993.09 L565.30,993.09 L588.63,993.09 L611.96,993.09 L635.29,993.09 L658.62,993.09 L681.95,989.03 L705.28,989.03 L728.61,989.03 L751.94,993.09 L775.27,990.14" fill="none" stroke="#c6dbef" stroke-width="1.3" stroke-opacity="0.78" stroke-linejoin="round"/><circle cx="98.70" cy="993.09" r="4.35" fill="#c6dbef"/><circle cx="122.03" cy="993.09" r="4.35" fill="#c6dbef"/><circle cx="145.36" cy="993.09" r="4.35" fill="#c6dbef"/><circle cx="168.69" cy="993.09" r="4.35" fill="#c6dbef"/><circle cx="192.02" cy="988.66" r="4.35" fill="#c6dbef"/><circle cx="215.35" cy="988.66" r="4.35" fill="#c6dbef"/><circle cx="238.68" cy="988.66" r="4.35" fill="#c6dbef"/><circle cx="262.01" cy="988.66" r="4.35" fill="#c6dbef"/><circle cx="285.34" cy="993.09" r="4.35" fill="#c6dbef"/><circle cx="308.67" cy="993.09" r="4.35" fill="#c6dbef"/><circle cx="332.00" cy="993.09" r="4.35" fill="#c6dbef"/><circle cx="355.33" cy="993.09" r="4.35" fill="#c6dbef"/><circle cx="378.66" cy="993.09" r="4.35" fill="#c6dbef"/><circle cx="401.99" cy="993.09" r="4.35" fill="#c6dbef"/><circle cx="425.32" cy="993.09" r="4.35" fill="#c6dbef"/><circle cx="448.65" cy="993.09" r="4.35" fill="#c6dbef"/><circle cx="471.98" cy="993.09" r="4.35" fill="#c6dbef"/><circle cx="495.31" cy="993.09" r="4.35" fill="#c6dbef"/><circle cx="518.64" cy="993.09" r="4.35" fill="#c6dbef"/><circle cx="541.97" cy="993.09" r="4.35" fill="#c6dbef"/><circle cx="565.30" cy="993.09" r="4.35" fill="#c6dbef"/><circle cx="588.63" cy="993.09" r="4.35" fill="#c6dbef"/><circle cx="611.96" cy="993.09" r="4.35" fill="#c6dbef"/><circle cx="635.29" cy="993.09" r="4.35" fill="#c6dbef"/><circle cx="658.62" cy="993.09" r="4.35" fill="#c6dbef"/><circle cx="681.95" cy="989.03" r="4.35" fill="#c6dbef"/><circle cx="705.28" cy="989.03" r="4.35" fill="#c6dbef"/><circle cx="728.61" cy="989.03" r="4.35" fill="#c6dbef"/><circle cx="751.94" cy="993.09" r="4.35" fill="#c6dbef"/><circle cx="775.27" cy="990.14" r="4.35" fill="#c6dbef"/><path d="M98.70,989.77 L122.03,989.77 L145.36,989.77 L168.69,989.77 L192.02,984.24 L215.35,984.24 L238.68,984.24 L262.01,984.24 L285.34,989.40 L308.67,989.40 L332.00,989.40 L355.33,989.40 L378.66,989.40 L401.99,989.40 L425.32,989.40 L448.65,989.40" fill="none" stroke="#fdae6b" stroke-width="1.3" stroke-opacity="0.78" stroke-linejoin="round"/><path d="M588.63,989.40 L611.96,989.40 L635.29,989.40 L658.62,989.40 L681.95,986.08 L705.28,986.08 L728.61,986.08 L751.94,990.14 L775.27,986.08" fill="none" stroke="#fdae6b" stroke-width="1.3" stroke-opacity="0.78" stroke-linejoin="round"/><circle cx="98.70" cy="989.77" r="4.35" fill="#fdae6b"/><circle cx="122.03" cy="989.77" r="4.35" fill="#fdae6b"/><circle cx="145.36" cy="989.77" r="4.35" fill="#fdae6b"/><circle cx="168.69" cy="989.77" r="4.35" fill="#fdae6b"/><circle cx="192.02" cy="984.24" r="4.35" fill="#fdae6b"/><circle cx="215.35" cy="984.24" r="4.35" fill="#fdae6b"/><circle cx="238.68" cy="984.24" r="4.35" fill="#fdae6b"/><circle cx="262.01" cy="984.24" r="4.35" fill="#fdae6b"/><circle cx="285.34" cy="989.40" r="4.35" fill="#fdae6b"/><circle cx="308.67" cy="989.40" r="4.35" fill="#fdae6b"/><circle cx="332.00" cy="989.40" r="4.35" fill="#fdae6b"/><circle cx="355.33" cy="989.40" r="4.35" fill="#fdae6b"/><circle cx="378.66" cy="989.40" r="4.35" fill="#fdae6b"/><circle cx="401.99" cy="989.40" r="4.35" fill="#fdae6b"/><circle cx="425.32" cy="989.40" r="4.35" fill="#fdae6b"/><circle cx="448.65" cy="989.40" r="4.35" fill="#fdae6b"/><circle cx="588.63" cy="989.40" r="4.35" fill="#fdae6b"/><circle cx="611.96" cy="989.40" r="4.35" fill="#fdae6b"/><circle cx="635.29" cy="989.40" r="4.35" fill="#fdae6b"/><circle cx="658.62" cy="989.40" r="4.35" fill="#fdae6b"/><circle cx="681.95" cy="986.08" r="4.35" fill="#fdae6b"/><circle cx="705.28" cy="986.08" r="4.35" fill="#fdae6b"/><circle cx="728.61" cy="986.08" r="4.35" fill="#fdae6b"/><circle cx="751.94" cy="990.14" r="4.35" fill="#fdae6b"/><circle cx="775.27" cy="986.08" r="4.35" fill="#fdae6b"/><path d="M98.70,976.12 L122.03,976.12 L145.36,976.12 L168.69,976.12 L192.02,973.17 L215.35,972.80 L238.68,972.80 L262.01,972.80 L285.34,976.12" fill="none" stroke="#a1d99b" stroke-width="1.3" stroke-opacity="0.78" stroke-linejoin="round"/><path d="M448.65,978.33 L471.98,977.59 L495.31,976.12 L518.64,976.12 L541.97,976.12 L565.30,976.12 L588.63,976.12 L611.96,976.12 L635.29,976.12 L658.62,976.12 L681.95,972.80 L705.28,972.80 L728.61,972.80 L751.94,976.12 L775.27,972.80" fill="none" stroke="#a1d99b" stroke-width="1.3" stroke-opacity="0.78" stroke-linejoin="round"/><circle cx="98.70" cy="976.12" r="4.35" fill="#a1d99b"/><circle cx="122.03" cy="976.12" r="4.35" fill="#a1d99b"/><circle cx="145.36" cy="976.12" r="4.35" fill="#a1d99b"/><circle cx="168.69" cy="976.12" r="4.35" fill="#a1d99b"/><circle cx="192.02" cy="973.17" r="4.35" fill="#a1d99b"/><circle cx="215.35" cy="972.80" r="4.35" fill="#a1d99b"/><circle cx="238.68" cy="972.80" r="4.35" fill="#a1d99b"/><circle cx="262.01" cy="972.80" r="4.35" fill="#a1d99b"/><circle cx="285.34" cy="976.12" r="4.35" fill="#a1d99b"/><circle cx="448.65" cy="978.33" r="4.35" fill="#a1d99b"/><circle cx="471.98" cy="977.59" r="4.35" fill="#a1d99b"/><circle cx="495.31" cy="976.12" r="4.35" fill="#a1d99b"/><circle cx="518.64" cy="976.12" r="4.35" fill="#a1d99b"/><circle cx="541.97" cy="976.12" r="4.35" fill="#a1d99b"/><circle cx="565.30" cy="976.12" r="4.35" fill="#a1d99b"/><circle cx="588.63" cy="976.12" r="4.35" fill="#a1d99b"/><circle cx="611.96" cy="976.12" r="4.35" fill="#a1d99b"/><circle cx="635.29" cy="976.12" r="4.35" fill="#a1d99b"/><circle cx="658.62" cy="976.12" r="4.35" fill="#a1d99b"/><circle cx="681.95" cy="972.80" r="4.35" fill="#a1d99b"/><circle cx="705.28" cy="972.80" r="4.35" fill="#a1d99b"/><circle cx="728.61" cy="972.80" r="4.35" fill="#a1d99b"/><circle cx="751.94" cy="976.12" r="4.35" fill="#a1d99b"/><circle cx="775.27" cy="972.80" r="4.35" fill="#a1d99b"/><path d="M98.70,998.63 L122.03,998.63 L145.36,998.63 L168.69,998.63 L192.02,993.83" fill="none" stroke="#9e9ac8" stroke-width="1.3" stroke-opacity="0.78" stroke-linejoin="round"/><path d="M308.67,998.26 L332.00,998.26 L355.33,998.26 L378.66,998.26 L401.99,998.26 L425.32,998.26 L448.65,998.26 L471.98,998.26 L495.31,998.26 L518.64,998.26 L541.97,998.26 L565.30,998.26 L588.63,998.26 L611.96,998.26 L635.29,998.26 L658.62,998.26 L681.95,993.09 L705.28,993.09 L728.61,993.09 L751.94,998.63 L775.27,993.09" fill="none" stroke="#9e9ac8" stroke-width="1.3" stroke-opacity="0.78" stroke-linejoin="round"/><circle cx="98.70" cy="998.63" r="4.35" fill="#9e9ac8"/><circle cx="122.03" cy="998.63" r="4.35" fill="#9e9ac8"/><circle cx="145.36" cy="998.63" r="4.35" fill="#9e9ac8"/><circle cx="168.69" cy="998.63" r="4.35" fill="#9e9ac8"/><circle cx="192.02" cy="993.83" r="4.35" fill="#9e9ac8"/><circle cx="308.67" cy="998.26" r="4.35" fill="#9e9ac8"/><circle cx="332.00" cy="998.26" r="4.35" fill="#9e9ac8"/><circle cx="355.33" cy="998.26" r="4.35" fill="#9e9ac8"/><circle cx="378.66" cy="998.26" r="4.35" fill="#9e9ac8"/><circle cx="401.99" cy="998.26" r="4.35" fill="#9e9ac8"/><circle cx="425.32" cy="998.26" r="4.35" fill="#9e9ac8"/><circle cx="448.65" cy="998.26" r="4.35" fill="#9e9ac8"/><circle cx="471.98" cy="998.26" r="4.35" fill="#9e9ac8"/><circle cx="495.31" cy="998.26" r="4.35" fill="#9e9ac8"/><circle cx="518.64" cy="998.26" r="4.35" fill="#9e9ac8"/><circle cx="541.97" cy="998.26" r="4.35" fill="#9e9ac8"/><circle cx="565.30" cy="998.26" r="4.35" fill="#9e9ac8"/><circle cx="588.63" cy="998.26" r="4.35" fill="#9e9ac8"/><circle cx="611.96" cy="998.26" r="4.35" fill="#9e9ac8"/><circle cx="635.29" cy="998.26" r="4.35" fill="#9e9ac8"/><circle cx="658.62" cy="998.26" r="4.35" fill="#9e9ac8"/><circle cx="681.95" cy="993.09" r="4.35" fill="#9e9ac8"/><circle cx="705.28" cy="993.09" r="4.35" fill="#9e9ac8"/><circle cx="728.61" cy="993.09" r="4.35" fill="#9e9ac8"/><circle cx="751.94" cy="998.63" r="4.35" fill="#9e9ac8"/><circle cx="775.27" cy="993.09" r="4.35" fill="#9e9ac8"/><path d="M98.70,863.20 L122.03,863.20 L145.36,863.20 L168.69,864.31 L192.02,859.51 L215.35,859.51 L238.68,859.14 L262.01,859.51 L285.34,864.31 L308.67,863.20 L332.00,863.20 L355.33,863.20 L378.66,863.20 L401.99,863.20 L425.32,863.20 L448.65,865.42 L471.98,865.42 L495.31,863.20 L518.64,863.20 L541.97,863.20 L565.30,863.20 L588.63,863.20 L611.96,863.20 L635.29,863.20 L658.62,863.20" fill="none" stroke="#636363" stroke-width="1.3" stroke-opacity="0.78" stroke-linejoin="round"/><circle cx="98.70" cy="863.20" r="4.35" fill="#636363"/><circle cx="122.03" cy="863.20" r="4.35" fill="#636363"/><circle cx="145.36" cy="863.20" r="4.35" fill="#636363"/><circle cx="168.69" cy="864.31" r="4.35" fill="#636363"/><circle cx="192.02" cy="859.51" r="4.35" fill="#636363"/><circle cx="215.35" cy="859.51" r="4.35" fill="#636363"/><circle cx="238.68" cy="859.14" r="4.35" fill="#636363"/><circle cx="262.01" cy="859.51" r="4.35" fill="#636363"/><circle cx="285.34" cy="864.31" r="4.35" fill="#636363"/><circle cx="308.67" cy="863.20" r="4.35" fill="#636363"/><circle cx="332.00" cy="863.20" r="4.35" fill="#636363"/><circle cx="355.33" cy="863.20" r="4.35" fill="#636363"/><circle cx="378.66" cy="863.20" r="4.35" fill="#636363"/><circle cx="401.99" cy="863.20" r="4.35" fill="#636363"/><circle cx="425.32" cy="863.20" r="4.35" fill="#636363"/><circle cx="448.65" cy="865.42" r="4.35" fill="#636363"/><circle cx="471.98" cy="865.42" r="4.35" fill="#636363"/><circle cx="495.31" cy="863.20" r="4.35" fill="#636363"/><circle cx="518.64" cy="863.20" r="4.35" fill="#636363"/><circle cx="541.97" cy="863.20" r="4.35" fill="#636363"/><circle cx="565.30" cy="863.20" r="4.35" fill="#636363"/><circle cx="588.63" cy="863.20" r="4.35" fill="#636363"/><circle cx="611.96" cy="863.20" r="4.35" fill="#636363"/><circle cx="635.29" cy="863.20" r="4.35" fill="#636363"/><circle cx="658.62" cy="863.20" r="4.35" fill="#636363"/><circle cx="751.94" cy="863.20" r="4.35" fill="#636363"/><path d="M98.70,828.15 L122.03,828.15 L145.36,828.15 L168.69,828.15" fill="none" stroke="#d9d9d9" stroke-width="1.3" stroke-opacity="0.78" stroke-linejoin="round"/><path d="M285.34,828.15 L308.67,827.41 L332.00,827.41 L355.33,827.41 L378.66,827.41 L401.99,827.41 L425.32,827.41 L448.65,827.41 L471.98,827.41 L495.31,827.41 L518.64,827.41 L541.97,827.41 L565.30,827.41 L588.63,827.41 L611.96,827.41 L635.29,827.41 L658.62,827.41 L681.95,825.20 L705.28,825.20 L728.61,825.20 L751.94,829.26 L775.27,825.20" fill="none" stroke="#d9d9d9" stroke-width="1.3" stroke-opacity="0.78" stroke-linejoin="round"/><circle cx="98.70" cy="828.15" r="4.35" fill="#d9d9d9"/><circle cx="122.03" cy="828.15" r="4.35" fill="#d9d9d9"/><circle cx="145.36" cy="828.15" r="4.35" fill="#d9d9d9"/><circle cx="168.69" cy="828.15" r="4.35" fill="#d9d9d9"/><circle cx="285.34" cy="828.15" r="4.35" fill="#d9d9d9"/><circle cx="308.67" cy="827.41" r="4.35" fill="#d9d9d9"/><circle cx="332.00" cy="827.41" r="4.35" fill="#d9d9d9"/><circle cx="355.33" cy="827.41" r="4.35" fill="#d9d9d9"/><circle cx="378.66" cy="827.41" r="4.35" fill="#d9d9d9"/><circle cx="401.99" cy="827.41" r="4.35" fill="#d9d9d9"/><circle cx="425.32" cy="827.41" r="4.35" fill="#d9d9d9"/><circle cx="448.65" cy="827.41" r="4.35" fill="#d9d9d9"/><circle cx="471.98" cy="827.41" r="4.35" fill="#d9d9d9"/><circle cx="495.31" cy="827.41" r="4.35" fill="#d9d9d9"/><circle cx="518.64" cy="827.41" r="4.35" fill="#d9d9d9"/><circle cx="541.97" cy="827.41" r="4.35" fill="#d9d9d9"/><circle cx="565.30" cy="827.41" r="4.35" fill="#d9d9d9"/><circle cx="588.63" cy="827.41" r="4.35" fill="#d9d9d9"/><circle cx="611.96" cy="827.41" r="4.35" fill="#d9d9d9"/><circle cx="635.29" cy="827.41" r="4.35" fill="#d9d9d9"/><circle cx="658.62" cy="827.41" r="4.35" fill="#d9d9d9"/><circle cx="681.95" cy="825.20" r="4.35" fill="#d9d9d9"/><circle cx="705.28" cy="825.20" r="4.35" fill="#d9d9d9"/><circle cx="728.61" cy="825.20" r="4.35" fill="#d9d9d9"/><circle cx="751.94" cy="829.26" r="4.35" fill="#d9d9d9"/><circle cx="775.27" cy="825.20" r="4.35" fill="#d9d9d9"/></g><line x1="65.0" y1="815.7" x2="808.9" y2="815.7" stroke="#bbbbbb" stroke-width="1.5"/><line x1="65.0" y1="1026.7" x2="808.9" y2="1026.7" stroke="#808080" stroke-width="1.9"/><line x1="65.0" y1="814.95" x2="65.0" y2="1027.65" stroke="#8a8a8a" stroke-width="1.9"/><line x1="808.9" y1="814.95" x2="808.9" y2="1027.65" stroke="#a0a0a0" stroke-width="1.8"/><line x1="63.0" y1="820.80" x2="65.0" y2="820.80" stroke="#444" stroke-width="1.0"/><line x1="63.0" y1="857.60" x2="65.0" y2="857.60" stroke="#444" stroke-width="1.0"/><line x1="63.0" y1="894.40" x2="65.0" y2="894.40" stroke="#444" stroke-width="1.0"/><line x1="63.0" y1="931.20" x2="65.0" y2="931.20" stroke="#444" stroke-width="1.0"/><line x1="63.0" y1="968.00" x2="65.0" y2="968.00" stroke="#444" stroke-width="1.0"/><line x1="63.0" y1="1004.80" x2="65.0" y2="1004.80" stroke="#444" stroke-width="1.0"/><line x1="98.70" y1="1026.7" x2="98.70" y2="1028.7" stroke="#444" stroke-width="1.0"/><line x1="122.03" y1="1026.7" x2="122.03" y2="1028.7" stroke="#444" stroke-width="1.0"/><line x1="145.36" y1="1026.7" x2="145.36" y2="1028.7" stroke="#444" stroke-width="1.0"/><line x1="168.69" y1="1026.7" x2="168.69" y2="1028.7" stroke="#444" stroke-width="1.0"/><line x1="192.02" y1="1026.7" x2="192.02" y2="1028.7" stroke="#444" stroke-width="1.0"/><line x1="215.35" y1="1026.7" x2="215.35" y2="1028.7" stroke="#444" stroke-width="1.0"/><line x1="238.68" y1="1026.7" x2="238.68" y2="1028.7" stroke="#444" stroke-width="1.0"/><line x1="262.01" y1="1026.7" x2="262.01" y2="1028.7" stroke="#444" stroke-width="1.0"/><line x1="285.34" y1="1026.7" x2="285.34" y2="1028.7" stroke="#444" stroke-width="1.0"/><line x1="308.67" y1="1026.7" x2="308.67" y2="1028.7" stroke="#444" stroke-width="1.0"/><line x1="332.00" y1="1026.7" x2="332.00" y2="1028.7" stroke="#444" stroke-width="1.0"/><line x1="355.33" y1="1026.7" x2="355.33" y2="1028.7" stroke="#444" stroke-width="1.0"/><line x1="378.66" y1="1026.7" x2="378.66" y2="1028.7" stroke="#444" stroke-width="1.0"/><line x1="401.99" y1="1026.7" x2="401.99" y2="1028.7" stroke="#444" stroke-width="1.0"/><line x1="425.32" y1="1026.7" x2="425.32" y2="1028.7" stroke="#444" stroke-width="1.0"/><line x1="448.65" y1="1026.7" x2="448.65" y2="1028.7" stroke="#444" stroke-width="1.0"/><line x1="471.98" y1="1026.7" x2="471.98" y2="1028.7" stroke="#444" stroke-width="1.0"/><line x1="495.31" y1="1026.7" x2="495.31" y2="1028.7" stroke="#444" stroke-width="1.0"/><line x1="518.64" y1="1026.7" x2="518.64" y2="1028.7" stroke="#444" stroke-width="1.0"/><line x1="541.97" y1="1026.7" x2="541.97" y2="1028.7" stroke="#444" stroke-width="1.0"/><line x1="565.30" y1="1026.7" x2="565.30" y2="1028.7" stroke="#444" stroke-width="1.0"/><line x1="588.63" y1="1026.7" x2="588.63" y2="1028.7" stroke="#444" stroke-width="1.0"/><line x1="611.96" y1="1026.7" x2="611.96" y2="1028.7" stroke="#444" stroke-width="1.0"/><line x1="635.29" y1="1026.7" x2="635.29" y2="1028.7" stroke="#444" stroke-width="1.0"/><line x1="658.62" y1="1026.7" x2="658.62" y2="1028.7" stroke="#444" stroke-width="1.0"/><line x1="681.95" y1="1026.7" x2="681.95" y2="1028.7" stroke="#444" stroke-width="1.0"/><line x1="705.28" y1="1026.7" x2="705.28" y2="1028.7" stroke="#444" stroke-width="1.0"/><line x1="728.61" y1="1026.7" x2="728.61" y2="1028.7" stroke="#444" stroke-width="1.0"/><line x1="751.94" y1="1026.7" x2="751.94" y2="1028.7" stroke="#444" stroke-width="1.0"/><line x1="775.27" y1="1026.7" x2="775.27" y2="1028.7" stroke="#444" stroke-width="1.0"/>
<line x1="840.5" y1="25.90" x2="857" y2="25.90" stroke="#3182bd" stroke-width="1.3" stroke-opacity="0.8"/><circle cx="848.9" cy="25.90" r="4.25" fill="#3182bd"/><line x1="840.5" y1="37.33" x2="857" y2="37.33" stroke="#3182bd" stroke-width="1.3" stroke-opacity="0.8"/><circle cx="848.9" cy="37.33" r="4.25" fill="#3182bd"/><line x1="840.5" y1="48.76" x2="857" y2="48.76" stroke="#6baed6" stroke-width="1.3" stroke-opacity="0.8"/><circle cx="848.9" cy="48.76" r="4.25" fill="#6baed6"/><line x1="840.5" y1="60.19" x2="857" y2="60.19" stroke="#6baed6" stroke-width="1.3" stroke-opacity="0.8"/><circle cx="848.9" cy="60.19" r="4.25" fill="#6baed6"/><line x1="840.5" y1="71.62" x2="857" y2="71.62" stroke="#9ecae1" stroke-width="1.3" stroke-opacity="0.8"/><circle cx="848.9" cy="71.62" r="4.25" fill="#9ecae1"/><line x1="840.5" y1="83.05" x2="857" y2="83.05" stroke="#9ecae1" stroke-width="1.3" stroke-opacity="0.8"/><circle cx="848.9" cy="83.05" r="4.25" fill="#9ecae1"/><line x1="840.5" y1="94.48" x2="857" y2="94.48" stroke="#c6dbef" stroke-width="1.3" stroke-opacity="0.8"/><circle cx="848.9" cy="94.48" r="4.25" fill="#c6dbef"/><line x1="840.5" y1="105.91" x2="857" y2="105.91" stroke="#c6dbef" stroke-width="1.3" stroke-opacity="0.8"/><circle cx="848.9" cy="105.91" r="4.25" fill="#c6dbef"/><line x1="840.5" y1="117.34" x2="857" y2="117.34" stroke="#e6550d" stroke-width="1.3" stroke-opacity="0.8"/><circle cx="848.9" cy="117.34" r="4.25" fill="#e6550d"/><line x1="840.5" y1="128.77" x2="857" y2="128.77" stroke="#fd8d3c" stroke-width="1.3" stroke-opacity="0.8"/><circle cx="848.9" cy="128.77" r="4.25" fill="#fd8d3c"/><line x1="840.5" y1="140.20" x2="857" y2="140.20" stroke="#fd8d3c" stroke-width="1.3" stroke-opacity="0.8"/><circle cx="848.9" cy="140.20" r="4.25" fill="#fd8d3c"/><line x1="840.5" y1="151.63" x2="857" y2="151.63" stroke="#fdae6b" stroke-width="1.3" stroke-opacity="0.8"/><circle cx="848.9" cy="151.63" r="4.25" fill="#fdae6b"/><line x1="840.5" y1="163.06" x2="857" y2="163.06" stroke="#fdae6b" stroke-width="1.3" stroke-opacity="0.8"/><circle cx="848.9" cy="163.06" r="4.25" fill="#fdae6b"/><line x1="840.5" y1="174.49" x2="857" y2="174.49" stroke="#fdd0a2" stroke-width="1.3" stroke-opacity="0.8"/><circle cx="848.9" cy="174.49" r="4.25" fill="#fdd0a2"/><line x1="840.5" y1="185.92" x2="857" y2="185.92" stroke="#fdd0a2" stroke-width="1.3" stroke-opacity="0.8"/><circle cx="848.9" cy="185.92" r="4.25" fill="#fdd0a2"/><line x1="840.5" y1="197.35" x2="857" y2="197.35" stroke="#31a354" stroke-width="1.3" stroke-opacity="0.8"/><circle cx="848.9" cy="197.35" r="4.25" fill="#31a354"/><line x1="840.5" y1="208.78" x2="857" y2="208.78" stroke="#31a354" stroke-width="1.3" stroke-opacity="0.8"/><circle cx="848.9" cy="208.78" r="4.25" fill="#31a354"/><line x1="840.5" y1="220.21" x2="857" y2="220.21" stroke="#74c476" stroke-width="1.3" stroke-opacity="0.8"/><circle cx="848.9" cy="220.21" r="4.25" fill="#74c476"/><line x1="840.5" y1="231.64" x2="857" y2="231.64" stroke="#a1d99b" stroke-width="1.3" stroke-opacity="0.8"/><circle cx="848.9" cy="231.64" r="4.25" fill="#a1d99b"/><line x1="840.5" y1="243.07" x2="857" y2="243.07" stroke="#a1d99b" stroke-width="1.3" stroke-opacity="0.8"/><circle cx="848.9" cy="243.07" r="4.25" fill="#a1d99b"/><line x1="840.5" y1="254.50" x2="857" y2="254.50" stroke="#c7e9c0" stroke-width="1.3" stroke-opacity="0.8"/><circle cx="848.9" cy="254.50" r="4.25" fill="#c7e9c0"/><line x1="840.5" y1="265.93" x2="857" y2="265.93" stroke="#c7e9c0" stroke-width="1.3" stroke-opacity="0.8"/><circle cx="848.9" cy="265.93" r="4.25" fill="#c7e9c0"/><line x1="840.5" y1="277.36" x2="857" y2="277.36" stroke="#756bb1" stroke-width="1.3" stroke-opacity="0.8"/><circle cx="848.9" cy="277.36" r="4.25" fill="#756bb1"/><line x1="840.5" y1="288.79" x2="857" y2="288.79" stroke="#756bb1" stroke-width="1.3" stroke-opacity="0.8"/><circle cx="848.9" cy="288.79" r="4.25" fill="#756bb1"/><line x1="840.5" y1="300.22" x2="857" y2="300.22" stroke="#9e9ac8" stroke-width="1.3" stroke-opacity="0.8"/><circle cx="848.9" cy="300.22" r="4.25" fill="#9e9ac8"/><line x1="840.5" y1="311.65" x2="857" y2="311.65" stroke="#9e9ac8" stroke-width="1.3" stroke-opacity="0.8"/><circle cx="848.9" cy="311.65" r="4.25" fill="#9e9ac8"/><line x1="840.5" y1="323.08" x2="857" y2="323.08" stroke="#bcbddc" stroke-width="1.3" stroke-opacity="0.8"/><circle cx="848.9" cy="323.08" r="4.25" fill="#bcbddc"/><line x1="840.5" y1="334.51" x2="857" y2="334.51" stroke="#dadaeb" stroke-width="1.3" stroke-opacity="0.8"/><circle cx="848.9" cy="334.51" r="4.25" fill="#dadaeb"/><line x1="840.5" y1="345.94" x2="857" y2="345.94" stroke="#dadaeb" stroke-width="1.3" stroke-opacity="0.8"/><circle cx="848.9" cy="345.94" r="4.25" fill="#dadaeb"/><line x1="840.5" y1="357.37" x2="857" y2="357.37" stroke="#636363" stroke-width="1.3" stroke-opacity="0.8"/><circle cx="848.9" cy="357.37" r="4.25" fill="#636363"/><line x1="840.5" y1="368.80" x2="857" y2="368.80" stroke="#636363" stroke-width="1.3" stroke-opacity="0.8"/><circle cx="848.9" cy="368.80" r="4.25" fill="#636363"/><line x1="840.5" y1="380.23" x2="857" y2="380.23" stroke="#969696" stroke-width="1.3" stroke-opacity="0.8"/><circle cx="848.9" cy="380.23" r="4.25" fill="#969696"/><line x1="840.5" y1="391.66" x2="857" y2="391.66" stroke="#969696" stroke-width="1.3" stroke-opacity="0.8"/><circle cx="848.9" cy="391.66" r="4.25" fill="#969696"/><line x1="840.5" y1="403.09" x2="857" y2="403.09" stroke="#bdbdbd" stroke-width="1.3" stroke-opacity="0.8"/><circle cx="848.9" cy="403.09" r="4.25" fill="#bdbdbd"/><line x1="840.5" y1="414.52" x2="857" y2="414.52" stroke="#bdbdbd" stroke-width="1.3" stroke-opacity="0.8"/><circle cx="848.9" cy="414.52" r="4.25" fill="#bdbdbd"/><line x1="840.5" y1="425.95" x2="857" y2="425.95" stroke="#d9d9d9" stroke-width="1.3" stroke-opacity="0.8"/><circle cx="848.9" cy="425.95" r="4.25" fill="#d9d9d9"/><line x1="840.5" y1="437.38" x2="857" y2="437.38" stroke="#d9d9d9" stroke-width="1.3" stroke-opacity="0.8"/><circle cx="848.9" cy="437.38" r="4.25" fill="#d9d9d9"/>
<line x1="834.2" y1="569.40" x2="854.2" y2="569.40" stroke="#3182bd" stroke-width="1.3" stroke-opacity="0.8"/><circle cx="844.2" cy="569.40" r="4.3" fill="#3182bd"/><line x1="834.2" y1="584.00" x2="854.2" y2="584.00" stroke="#c6dbef" stroke-width="1.3" stroke-opacity="0.8"/><circle cx="844.2" cy="584.00" r="4.3" fill="#c6dbef"/><line x1="834.2" y1="598.60" x2="854.2" y2="598.60" stroke="#fdae6b" stroke-width="1.3" stroke-opacity="0.8"/><circle cx="844.2" cy="598.60" r="4.3" fill="#fdae6b"/><line x1="834.2" y1="613.20" x2="854.2" y2="613.20" stroke="#a1d99b" stroke-width="1.3" stroke-opacity="0.8"/><circle cx="844.2" cy="613.20" r="4.3" fill="#a1d99b"/><line x1="834.2" y1="627.80" x2="854.2" y2="627.80" stroke="#9e9ac8" stroke-width="1.3" stroke-opacity="0.8"/><circle cx="844.2" cy="627.80" r="4.3" fill="#9e9ac8"/><line x1="834.2" y1="642.40" x2="854.2" y2="642.40" stroke="#636363" stroke-width="1.3" stroke-opacity="0.8"/><circle cx="844.2" cy="642.40" r="4.3" fill="#636363"/><line x1="834.2" y1="657.00" x2="854.2" y2="657.00" stroke="#d9d9d9" stroke-width="1.3" stroke-opacity="0.8"/><circle cx="844.2" cy="657.00" r="4.3" fill="#d9d9d9"/>
<g filter="url(#gs)"><text x="63.4" y="45.76" text-anchor="end" font-size="16" fill="#111" textLength="18.95" lengthAdjust="spacingAndGlyphs">20</text><text x="63.4" y="71.73" text-anchor="end" font-size="16" fill="#111" textLength="18.95" lengthAdjust="spacingAndGlyphs">10</text><text x="63.4" y="97.70" text-anchor="end" font-size="16" fill="#111" textLength="9.48" lengthAdjust="spacingAndGlyphs">0</text><text x="63.4" y="123.67" text-anchor="end" font-size="16" fill="#111" textLength="24.33" lengthAdjust="spacingAndGlyphs">-10</text><text x="63.4" y="149.64" text-anchor="end" font-size="16" fill="#111" textLength="24.33" lengthAdjust="spacingAndGlyphs">-20</text><text x="63.4" y="175.61" text-anchor="end" font-size="16" fill="#111" textLength="24.33" lengthAdjust="spacingAndGlyphs">-30</text><text x="63.4" y="201.58" text-anchor="end" font-size="16" fill="#111" textLength="24.33" lengthAdjust="spacingAndGlyphs">-40</text><text transform="translate(100.20,232.80) rotate(-45)" text-anchor="middle" dominant-baseline="central" font-size="12" fill="#111">213</text><text transform="translate(123.40,232.80) rotate(-45)" text-anchor="middle" dominant-baseline="central" font-size="12" fill="#111">214</text><text transform="translate(146.60,232.80) rotate(-45)" text-anchor="middle" dominant-baseline="central" font-size="12" fill="#111">215</text><text transform="translate(169.80,232.80) rotate(-45)" text-anchor="middle" dominant-baseline="central" font-size="12" fill="#111">216</text><text transform="translate(193.00,232.80) rotate(-45)" text-anchor="middle" dominant-baseline="central" font-size="12" fill="#111">217</text><text transform="translate(216.20,232.80) rotate(-45)" text-anchor="middle" dominant-baseline="central" font-size="12" fill="#111">218</text><text transform="translate(239.40,232.80) rotate(-45)" text-anchor="middle" dominant-baseline="central" font-size="12" fill="#111">219</text><text transform="translate(262.60,232.80) rotate(-45)" text-anchor="middle" dominant-baseline="central" font-size="12" fill="#111">220</text><text transform="translate(285.80,232.80) rotate(-45)" text-anchor="middle" dominant-baseline="central" font-size="12" fill="#111">221</text><text transform="translate(309.00,232.80) rotate(-45)" text-anchor="middle" dominant-baseline="central" font-size="12" fill="#111">222</text><text transform="translate(332.20,232.80) rotate(-45)" text-anchor="middle" dominant-baseline="central" font-size="12" fill="#111">223</text><text transform="translate(355.40,232.80) rotate(-45)" text-anchor="middle" dominant-baseline="central" font-size="12" fill="#111">224</text><text transform="translate(378.60,232.80) rotate(-45)" text-anchor="middle" dominant-baseline="central" font-size="12" fill="#111">225</text><text transform="translate(401.80,232.80) rotate(-45)" text-anchor="middle" dominant-baseline="central" font-size="12" fill="#111">226</text><text transform="translate(425.00,232.80) rotate(-45)" text-anchor="middle" dominant-baseline="central" font-size="12" fill="#111">227</text><text transform="translate(448.20,232.80) rotate(-45)" text-anchor="middle" dominant-baseline="central" font-size="12" fill="#111">228</text><text transform="translate(471.40,232.80) rotate(-45)" text-anchor="middle" dominant-baseline="central" font-size="12" fill="#111">229</text><text transform="translate(494.60,232.80) rotate(-45)" text-anchor="middle" dominant-baseline="central" font-size="12" fill="#111">230</text><text transform="translate(517.80,232.80) rotate(-45)" text-anchor="middle" dominant-baseline="central" font-size="12" fill="#111">231</text><text transform="translate(541.00,232.80) rotate(-45)" text-anchor="middle" dominant-baseline="central" font-size="12" fill="#111">232</text><text transform="translate(564.20,232.80) rotate(-45)" text-anchor="middle" dominant-baseline="central" font-size="12" fill="#111">233</text><text transform="translate(587.40,232.80) rotate(-45)" text-anchor="middle" dominant-baseline="central" font-size="12" fill="#111">234</text><text transform="translate(610.60,232.80) rotate(-45)" text-anchor="middle" dominant-baseline="central" font-size="12" fill="#111">235</text><text transform="translate(633.80,232.80) rotate(-45)" text-anchor="middle" dominant-baseline="central" font-size="12" fill="#111">236</text><text transform="translate(657.00,232.80) rotate(-45)" text-anchor="middle" dominant-baseline="central" font-size="12" fill="#111">237</text><text transform="translate(680.20,232.80) rotate(-45)" text-anchor="middle" dominant-baseline="central" font-size="12" fill="#111">238</text><text transform="translate(703.40,232.80) rotate(-45)" text-anchor="middle" dominant-baseline="central" font-size="12" fill="#111">239</text><text transform="translate(726.60,232.80) rotate(-45)" text-anchor="middle" dominant-baseline="central" font-size="12" fill="#111">240</text><text transform="translate(749.80,232.80) rotate(-45)" text-anchor="middle" dominant-baseline="central" font-size="12" fill="#111">241</text><text transform="translate(773.00,232.80) rotate(-45)" text-anchor="middle" dominant-baseline="central" font-size="12" fill="#111">242</text><text transform="translate(32.0,119.20) rotate(-90)" text-anchor="middle" font-size="15.6" fill="#111" textLength="143.5" lengthAdjust="spacingAndGlyphs">Calm Day DCB /ns</text><text x="63.4" y="281.90" text-anchor="end" font-size="16" fill="#111" textLength="18.95" lengthAdjust="spacingAndGlyphs">20</text><text x="63.4" y="308.10" text-anchor="end" font-size="16" fill="#111" textLength="18.95" lengthAdjust="spacingAndGlyphs">10</text><text x="63.4" y="334.30" text-anchor="end" font-size="16" fill="#111" textLength="9.48" lengthAdjust="spacingAndGlyphs">0</text><text x="63.4" y="360.50" text-anchor="end" font-size="16" fill="#111" textLength="24.33" lengthAdjust="spacingAndGlyphs">-10</text><text x="63.4" y="386.70" text-anchor="end" font-size="16" fill="#111" textLength="24.33" lengthAdjust="spacingAndGlyphs">-20</text><text x="63.4" y="412.90" text-anchor="end" font-size="16" fill="#111" textLength="24.33" lengthAdjust="spacingAndGlyphs">-30</text><text x="63.4" y="439.10" text-anchor="end" font-size="16" fill="#111" textLength="24.33" lengthAdjust="spacingAndGlyphs">-40</text><text transform="translate(100.20,470.70) rotate(-45)" text-anchor="middle" dominant-baseline="central" font-size="12" fill="#111">288</text><text transform="translate(123.40,470.70) rotate(-45)" text-anchor="middle" dominant-baseline="central" font-size="12" fill="#111">289</text><text transform="translate(146.60,470.70) rotate(-45)" text-anchor="middle" dominant-baseline="central" font-size="12" fill="#111">290</text><text transform="translate(169.80,470.70) rotate(-45)" text-anchor="middle" dominant-baseline="central" font-size="12" fill="#111">291</text><text transform="translate(193.00,470.70) rotate(-45)" text-anchor="middle" dominant-baseline="central" font-size="12" fill="#111">292</text><text transform="translate(216.20,470.70) rotate(-45)" text-anchor="middle" dominant-baseline="central" font-size="12" fill="#111">293</text><text transform="translate(239.40,470.70) rotate(-45)" text-anchor="middle" dominant-baseline="central" font-size="12" fill="#111">294</text><text transform="translate(262.60,470.70) rotate(-45)" text-anchor="middle" dominant-baseline="central" font-size="12" fill="#111">295</text><text transform="translate(285.80,470.70) rotate(-45)" text-anchor="middle" dominant-baseline="central" font-size="12" fill="#111">296</text><text transform="translate(309.00,470.70) rotate(-45)" text-anchor="middle" dominant-baseline="central" font-size="12" fill="#111">297</text><text transform="translate(332.20,470.70) rotate(-45)" text-anchor="middle" dominant-baseline="central" font-size="12" fill="#111">298</text><text transform="translate(355.40,470.70) rotate(-45)" text-anchor="middle" dominant-baseline="central" font-size="12" fill="#111">299</text><text transform="translate(378.60,470.70) rotate(-45)" text-anchor="middle" dominant-baseline="central" font-size="12" fill="#111">300</text><text transform="translate(401.80,470.70) rotate(-45)" text-anchor="middle" dominant-baseline="central" font-size="12" fill="#111">301</text><text transform="translate(425.00,470.70) rotate(-45)" text-anchor="middle" dominant-baseline="central" font-size="12" fill="#111">302</text><text transform="translate(448.20,470.70) rotate(-45)" text-anchor="middle" dominant-baseline="central" font-size="12" fill="#111">303</text><text transform="translate(471.40,470.70) rotate(-45)" text-anchor="middle" dominant-baseline="central" font-size="12" fill="#111">304</text><text transform="translate(494.60,470.70) rotate(-45)" text-anchor="middle" dominant-baseline="central" font-size="12" fill="#111">305</text><text transform="translate(517.80,470.70) rotate(-45)" text-anchor="middle" dominant-baseline="central" font-size="12" fill="#111">306</text><text transform="translate(541.00,470.70) rotate(-45)" text-anchor="middle" dominant-baseline="central" font-size="12" fill="#111">307</text><text transform="translate(564.20,470.70) rotate(-45)" text-anchor="middle" dominant-baseline="central" font-size="12" fill="#111">308</text><text transform="translate(587.40,470.70) rotate(-45)" text-anchor="middle" dominant-baseline="central" font-size="12" fill="#111">309</text><text transform="translate(610.60,470.70) rotate(-45)" text-anchor="middle" dominant-baseline="central" font-size="12" fill="#111">310</text><text transform="translate(633.80,470.70) rotate(-45)" text-anchor="middle" dominant-baseline="central" font-size="12" fill="#111">311</text><text transform="translate(657.00,470.70) rotate(-45)" text-anchor="middle" dominant-baseline="central" font-size="12" fill="#111">312</text><text transform="translate(680.20,470.70) rotate(-45)" text-anchor="middle" dominant-baseline="central" font-size="12" fill="#111">313</text><text transform="translate(703.40,470.70) rotate(-45)" text-anchor="middle" dominant-baseline="central" font-size="12" fill="#111">314</text><text transform="translate(726.60,470.70) rotate(-45)" text-anchor="middle" dominant-baseline="central" font-size="12" fill="#111">315</text><text transform="translate(749.80,470.70) rotate(-45)" text-anchor="middle" dominant-baseline="central" font-size="12" fill="#111">316</text><text transform="translate(773.00,470.70) rotate(-45)" text-anchor="middle" dominant-baseline="central" font-size="12" fill="#111">317</text><text transform="translate(32.0,357.25) rotate(-90)" text-anchor="middle" font-size="15.6" fill="#111" textLength="151" lengthAdjust="spacingAndGlyphs">Active Day DCB /ns</text><text x="60.9" y="574.60" text-anchor="end" font-size="17.5" fill="#111" textLength="19.84" lengthAdjust="spacingAndGlyphs">50</text><text x="60.9" y="611.30" text-anchor="end" font-size="17.5" fill="#111" textLength="19.84" lengthAdjust="spacingAndGlyphs">40</text><text x="60.9" y="648.00" text-anchor="end" font-size="17.5" fill="#111" textLength="19.84" lengthAdjust="spacingAndGlyphs">30</text><text x="60.9" y="684.70" text-anchor="end" font-size="17.5" fill="#111" textLength="19.84" lengthAdjust="spacingAndGlyphs">20</text><text x="60.9" y="721.40" text-anchor="end" font-size="17.5" fill="#111" textLength="19.84" lengthAdjust="spacingAndGlyphs">10</text><text x="60.9" y="758.10" text-anchor="end" font-size="17.5" fill="#111" textLength="9.92" lengthAdjust="spacingAndGlyphs">0</text><text transform="translate(98.20,788.90) rotate(-45)" text-anchor="middle" dominant-baseline="central" font-size="13" fill="#111">213</text><text transform="translate(121.53,788.90) rotate(-45)" text-anchor="middle" dominant-baseline="central" font-size="13" fill="#111">214</text><text transform="translate(144.86,788.90) rotate(-45)" text-anchor="middle" dominant-baseline="central" font-size="13" fill="#111">215</text><text transform="translate(168.19,788.90) rotate(-45)" text-anchor="middle" dominant-baseline="central" font-size="13" fill="#111">216</text><text transform="translate(191.52,788.90) rotate(-45)" text-anchor="middle" dominant-baseline="central" font-size="13" fill="#111">217</text><text transform="translate(214.85,788.90) rotate(-45)" text-anchor="middle" dominant-baseline="central" font-size="13" fill="#111">218</text><text transform="translate(238.18,788.90) rotate(-45)" text-anchor="middle" dominant-baseline="central" font-size="13" fill="#111">219</text><text transform="translate(261.51,788.90) rotate(-45)" text-anchor="middle" dominant-baseline="central" font-size="13" fill="#111">220</text><text transform="translate(284.84,788.90) rotate(-45)" text-anchor="middle" dominant-baseline="central" font-size="13" fill="#111">221</text><text transform="translate(308.17,788.90) rotate(-45)" text-anchor="middle" dominant-baseline="central" font-size="13" fill="#111">222</text><text transform="translate(331.50,788.90) rotate(-45)" text-anchor="middle" dominant-baseline="central" font-size="13" fill="#111">223</text><text transform="translate(354.83,788.90) rotate(-45)" text-anchor="middle" dominant-baseline="central" font-size="13" fill="#111">224</text><text transform="translate(378.16,788.90) rotate(-45)" text-anchor="middle" dominant-baseline="central" font-size="13" fill="#111">225</text><text transform="translate(401.49,788.90) rotate(-45)" text-anchor="middle" dominant-baseline="central" font-size="13" fill="#111">226</text><text transform="translate(424.82,788.90) rotate(-45)" text-anchor="middle" dominant-baseline="central" font-size="13" fill="#111">227</text><text transform="translate(448.15,788.90) rotate(-45)" text-anchor="middle" dominant-baseline="central" font-size="13" fill="#111">228</text><text transform="translate(471.48,788.90) rotate(-45)" text-anchor="middle" dominant-baseline="central" font-size="13" fill="#111">229</text><text transform="translate(494.81,788.90) rotate(-45)" text-anchor="middle" dominant-baseline="central" font-size="13" fill="#111">230</text><text transform="translate(518.14,788.90) rotate(-45)" text-anchor="middle" dominant-baseline="central" font-size="13" fill="#111">231</text><text transform="translate(541.47,788.90) rotate(-45)" text-anchor="middle" dominant-baseline="central" font-size="13" fill="#111">232</text><text transform="translate(564.80,788.90) rotate(-45)" text-anchor="middle" dominant-baseline="central" font-size="13" fill="#111">233</text><text transform="translate(588.13,788.90) rotate(-45)" text-anchor="middle" dominant-baseline="central" font-size="13" fill="#111">234</text><text transform="translate(611.46,788.90) rotate(-45)" text-anchor="middle" dominant-baseline="central" font-size="13" fill="#111">235</text><text transform="translate(634.79,788.90) rotate(-45)" text-anchor="middle" dominant-baseline="central" font-size="13" fill="#111">236</text><text transform="translate(658.12,788.90) rotate(-45)" text-anchor="middle" dominant-baseline="central" font-size="13" fill="#111">237</text><text transform="translate(681.45,788.90) rotate(-45)" text-anchor="middle" dominant-baseline="central" font-size="13" fill="#111">238</text><text transform="translate(704.78,788.90) rotate(-45)" text-anchor="middle" dominant-baseline="central" font-size="13" fill="#111">239</text><text transform="translate(728.11,788.90) rotate(-45)" text-anchor="middle" dominant-baseline="central" font-size="13" fill="#111">240</text><text transform="translate(751.44,788.90) rotate(-45)" text-anchor="middle" dominant-baseline="central" font-size="13" fill="#111">241</text><text transform="translate(774.77,788.90) rotate(-45)" text-anchor="middle" dominant-baseline="central" font-size="13" fill="#111">242</text><text transform="translate(35.3,667.65) rotate(-90)" text-anchor="middle" font-size="17" fill="#111" textLength="152.5" lengthAdjust="spacingAndGlyphs">Calm Day DCB /ns</text><text x="60.9" y="826.90" text-anchor="end" font-size="17.5" fill="#111" textLength="19.84" lengthAdjust="spacingAndGlyphs">50</text><text x="60.9" y="863.70" text-anchor="end" font-size="17.5" fill="#111" textLength="19.84" lengthAdjust="spacingAndGlyphs">40</text><text x="60.9" y="900.50" text-anchor="end" font-size="17.5" fill="#111" textLength="19.84" lengthAdjust="spacingAndGlyphs">30</text><text x="60.9" y="937.30" text-anchor="end" font-size="17.5" fill="#111" textLength="19.84" lengthAdjust="spacingAndGlyphs">20</text><text x="60.9" y="974.10" text-anchor="end" font-size="17.5" fill="#111" textLength="19.84" lengthAdjust="spacingAndGlyphs">10</text><text x="60.9" y="1010.90" text-anchor="end" font-size="17.5" fill="#111" textLength="9.92" lengthAdjust="spacingAndGlyphs">0</text><text transform="translate(98.20,1042.20) rotate(-45)" text-anchor="middle" dominant-baseline="central" font-size="13" fill="#111">288</text><text transform="translate(121.53,1042.20) rotate(-45)" text-anchor="middle" dominant-baseline="central" font-size="13" fill="#111">289</text><text transform="translate(144.86,1042.20) rotate(-45)" text-anchor="middle" dominant-baseline="central" font-size="13" fill="#111">290</text><text transform="translate(168.19,1042.20) rotate(-45)" text-anchor="middle" dominant-baseline="central" font-size="13" fill="#111">291</text><text transform="translate(191.52,1042.20) rotate(-45)" text-anchor="middle" dominant-baseline="central" font-size="13" fill="#111">292</text><text transform="translate(214.85,1042.20) rotate(-45)" text-anchor="middle" dominant-baseline="central" font-size="13" fill="#111">293</text><text transform="translate(238.18,1042.20) rotate(-45)" text-anchor="middle" dominant-baseline="central" font-size="13" fill="#111">294</text><text transform="translate(261.51,1042.20) rotate(-45)" text-anchor="middle" dominant-baseline="central" font-size="13" fill="#111">295</text><text transform="translate(284.84,1042.20) rotate(-45)" text-anchor="middle" dominant-baseline="central" font-size="13" fill="#111">296</text><text transform="translate(308.17,1042.20) rotate(-45)" text-anchor="middle" dominant-baseline="central" font-size="13" fill="#111">297</text><text transform="translate(331.50,1042.20) rotate(-45)" text-anchor="middle" dominant-baseline="central" font-size="13" fill="#111">298</text><text transform="translate(354.83,1042.20) rotate(-45)" text-anchor="middle" dominant-baseline="central" font-size="13" fill="#111">299</text><text transform="translate(378.16,1042.20) rotate(-45)" text-anchor="middle" dominant-baseline="central" font-size="13" fill="#111">300</text><text transform="translate(401.49,1042.20) rotate(-45)" text-anchor="middle" dominant-baseline="central" font-size="13" fill="#111">301</text><text transform="translate(424.82,1042.20) rotate(-45)" text-anchor="middle" dominant-baseline="central" font-size="13" fill="#111">302</text><text transform="translate(448.15,1042.20) rotate(-45)" text-anchor="middle" dominant-baseline="central" font-size="13" fill="#111">303</text><text transform="translate(471.48,1042.20) rotate(-45)" text-anchor="middle" dominant-baseline="central" font-size="13" fill="#111">304</text><text transform="translate(494.81,1042.20) rotate(-45)" text-anchor="middle" dominant-baseline="central" font-size="13" fill="#111">305</text><text transform="translate(518.14,1042.20) rotate(-45)" text-anchor="middle" dominant-baseline="central" font-size="13" fill="#111">306</text><text transform="translate(541.47,1042.20) rotate(-45)" text-anchor="middle" dominant-baseline="central" font-size="13" fill="#111">307</text><text transform="translate(564.80,1042.20) rotate(-45)" text-anchor="middle" dominant-baseline="central" font-size="13" fill="#111">308</text><text transform="translate(588.13,1042.20) rotate(-45)" text-anchor="middle" dominant-baseline="central" font-size="13" fill="#111">309</text><text transform="translate(611.46,1042.20) rotate(-45)" text-anchor="middle" dominant-baseline="central" font-size="13" fill="#111">310</text><text transform="translate(634.79,1042.20) rotate(-45)" text-anchor="middle" dominant-baseline="central" font-size="13" fill="#111">311</text><text transform="translate(658.12,1042.20) rotate(-45)" text-anchor="middle" dominant-baseline="central" font-size="13" fill="#111">312</text><text transform="translate(681.45,1042.20) rotate(-45)" text-anchor="middle" dominant-baseline="central" font-size="13" fill="#111">313</text><text transform="translate(704.78,1042.20) rotate(-45)" text-anchor="middle" dominant-baseline="central" font-size="13" fill="#111">314</text><text transform="translate(728.11,1042.20) rotate(-45)" text-anchor="middle" dominant-baseline="central" font-size="13" fill="#111">315</text><text transform="translate(751.44,1042.20) rotate(-45)" text-anchor="middle" dominant-baseline="central" font-size="13" fill="#111">316</text><text transform="translate(774.77,1042.20) rotate(-45)" text-anchor="middle" dominant-baseline="central" font-size="13" fill="#111">317</text><text transform="translate(35.3,921.20) rotate(-90)" text-anchor="middle" font-size="17" fill="#111" textLength="160.5" lengthAdjust="spacingAndGlyphs">Active Day DCB /ns</text><text x="863.2" y="28.90" font-size="8.5" fill="#111" stroke="#111" stroke-width="0.2" textLength="14.6" lengthAdjust="spacingAndGlyphs">C06</text><text x="863.2" y="40.33" font-size="8.5" fill="#111" stroke="#111" stroke-width="0.2" textLength="14.6" lengthAdjust="spacingAndGlyphs">C07</text><text x="863.2" y="51.76" font-size="8.5" fill="#111" stroke="#111" stroke-width="0.2" textLength="14.6" lengthAdjust="spacingAndGlyphs">C08</text><text x="863.2" y="63.19" font-size="8.5" fill="#111" stroke="#111" stroke-width="0.2" textLength="14.6" lengthAdjust="spacingAndGlyphs">C09</text><text x="863.2" y="74.62" font-size="8.5" fill="#111" stroke="#111" stroke-width="0.2" textLength="14.6" lengthAdjust="spacingAndGlyphs">C10</text><text x="863.2" y="86.05" font-size="8.5" fill="#111" stroke="#111" stroke-width="0.2" textLength="14.6" lengthAdjust="spacingAndGlyphs">C11</text><text x="863.2" y="97.48" font-size="8.5" fill="#111" stroke="#111" stroke-width="0.2" textLength="14.6" lengthAdjust="spacingAndGlyphs">C12</text><text x="863.2" y="108.91" font-size="8.5" fill="#111" stroke="#111" stroke-width="0.2" textLength="14.6" lengthAdjust="spacingAndGlyphs">C13</text><text x="863.2" y="120.34" font-size="8.5" fill="#111" stroke="#111" stroke-width="0.2" textLength="14.6" lengthAdjust="spacingAndGlyphs">C14</text><text x="863.2" y="131.77" font-size="8.5" fill="#111" stroke="#111" stroke-width="0.2" textLength="14.6" lengthAdjust="spacingAndGlyphs">C16</text><text x="863.2" y="143.20" font-size="8.5" fill="#111" stroke="#111" stroke-width="0.2" textLength="14.6" lengthAdjust="spacingAndGlyphs">C19</text><text x="863.2" y="154.63" font-size="8.5" fill="#111" stroke="#111" stroke-width="0.2" textLength="14.6" lengthAdjust="spacingAndGlyphs">C20</text><text x="863.2" y="166.06" font-size="8.5" fill="#111" stroke="#111" stroke-width="0.2" textLength="14.6" lengthAdjust="spacingAndGlyphs">C21</text><text x="863.2" y="177.49" font-size="8.5" fill="#111" stroke="#111" stroke-width="0.2" textLength="14.6" lengthAdjust="spacingAndGlyphs">C22</text><text x="863.2" y="188.92" font-size="8.5" fill="#111" stroke="#111" stroke-width="0.2" textLength="14.6" lengthAdjust="spacingAndGlyphs">C23</text><text x="863.2" y="200.35" font-size="8.5" fill="#111" stroke="#111" stroke-width="0.2" textLength="14.6" lengthAdjust="spacingAndGlyphs">C24</text><text x="863.2" y="211.78" font-size="8.5" fill="#111" stroke="#111" stroke-width="0.2" textLength="14.6" lengthAdjust="spacingAndGlyphs">C25</text><text x="863.2" y="223.21" font-size="8.5" fill="#111" stroke="#111" stroke-width="0.2" textLength="14.6" lengthAdjust="spacingAndGlyphs">C26</text><text x="863.2" y="234.64" font-size="8.5" fill="#111" stroke="#111" stroke-width="0.2" textLength="14.6" lengthAdjust="spacingAndGlyphs">C27</text><text x="863.2" y="246.07" font-size="8.5" fill="#111" stroke="#111" stroke-width="0.2" textLength="14.6" lengthAdjust="spacingAndGlyphs">C28</text><text x="863.2" y="257.50" font-size="8.5" fill="#111" stroke="#111" stroke-width="0.2" textLength="14.6" lengthAdjust="spacingAndGlyphs">C29</text><text x="863.2" y="268.93" font-size="8.5" fill="#111" stroke="#111" stroke-width="0.2" textLength="14.6" lengthAdjust="spacingAndGlyphs">C30</text><text x="863.2" y="280.36" font-size="8.5" fill="#111" stroke="#111" stroke-width="0.2" textLength="14.6" lengthAdjust="spacingAndGlyphs">C32</text><text x="863.2" y="291.79" font-size="8.5" fill="#111" stroke="#111" stroke-width="0.2" textLength="14.6" lengthAdjust="spacingAndGlyphs">C33</text><text x="863.2" y="303.22" font-size="8.5" fill="#111" stroke="#111" stroke-width="0.2" textLength="14.6" lengthAdjust="spacingAndGlyphs">C34</text><text x="863.2" y="314.65" font-size="8.5" fill="#111" stroke="#111" stroke-width="0.2" textLength="14.6" lengthAdjust="spacingAndGlyphs">C35</text><text x="863.2" y="326.08" font-size="8.5" fill="#111" stroke="#111" stroke-width="0.2" textLength="14.6" lengthAdjust="spacingAndGlyphs">C36</text><text x="863.2" y="337.51" font-size="8.5" fill="#111" stroke="#111" stroke-width="0.2" textLength="14.6" lengthAdjust="spacingAndGlyphs">C37</text><text x="863.2" y="348.94" font-size="8.5" fill="#111" stroke="#111" stroke-width="0.2" textLength="14.6" lengthAdjust="spacingAndGlyphs">C38</text><text x="863.2" y="360.37" font-size="8.5" fill="#111" stroke="#111" stroke-width="0.2" textLength="14.6" lengthAdjust="spacingAndGlyphs">C39</text><text x="863.2" y="371.80" font-size="8.5" fill="#111" stroke="#111" stroke-width="0.2" textLength="14.6" lengthAdjust="spacingAndGlyphs">C40</text><text x="863.2" y="383.23" font-size="8.5" fill="#111" stroke="#111" stroke-width="0.2" textLength="14.6" lengthAdjust="spacingAndGlyphs">C41</text><text x="863.2" y="394.66" font-size="8.5" fill="#111" stroke="#111" stroke-width="0.2" textLength="14.6" lengthAdjust="spacingAndGlyphs">C42</text><text x="863.2" y="406.09" font-size="8.5" fill="#111" stroke="#111" stroke-width="0.2" textLength="14.6" lengthAdjust="spacingAndGlyphs">C43</text><text x="863.2" y="417.52" font-size="8.5" fill="#111" stroke="#111" stroke-width="0.2" textLength="14.6" lengthAdjust="spacingAndGlyphs">C44</text><text x="863.2" y="428.95" font-size="8.5" fill="#111" stroke="#111" stroke-width="0.2" textLength="14.6" lengthAdjust="spacingAndGlyphs">C45</text><text x="863.2" y="440.38" font-size="8.5" fill="#111" stroke="#111" stroke-width="0.2" textLength="14.6" lengthAdjust="spacingAndGlyphs">C46</text><text x="861.3" y="573.10" font-size="10.5" fill="#111" stroke="#111" stroke-width="0.15" textLength="17.5" lengthAdjust="spacingAndGlyphs">C01</text><text x="861.3" y="587.70" font-size="10.5" fill="#111" stroke="#111" stroke-width="0.15" textLength="17.5" lengthAdjust="spacingAndGlyphs">C02</text><text x="861.3" y="602.30" font-size="10.5" fill="#111" stroke="#111" stroke-width="0.15" textLength="17.5" lengthAdjust="spacingAndGlyphs">C03</text><text x="861.3" y="616.90" font-size="10.5" fill="#111" stroke="#111" stroke-width="0.15" textLength="17.5" lengthAdjust="spacingAndGlyphs">C04</text><text x="861.3" y="631.50" font-size="10.5" fill="#111" stroke="#111" stroke-width="0.15" textLength="17.5" lengthAdjust="spacingAndGlyphs">C05</text><text x="861.3" y="646.10" font-size="10.5" fill="#111" stroke="#111" stroke-width="0.15" textLength="17.5" lengthAdjust="spacingAndGlyphs">C59</text><text x="861.3" y="660.70" font-size="10.5" fill="#111" stroke="#111" stroke-width="0.15" textLength="17.5" lengthAdjust="spacingAndGlyphs">C60</text><text x="437" y="494.7" text-anchor="middle" font-size="15.8" fill="#111" textLength="27.5" lengthAdjust="spacingAndGlyphs">doy</text><text x="436.5" y="1067" text-anchor="middle" font-size="15.8" fill="#111" textLength="27.5" lengthAdjust="spacingAndGlyphs">doy</text><text x="449.8" y="542.8" text-anchor="middle" font-family="'Liberation Serif', serif" font-size="25" fill="#111" textLength="24.6" lengthAdjust="spacingAndGlyphs">(<tspan font-weight="bold">a</tspan>)</text><text x="449.6" y="1115.2" text-anchor="middle" font-family="'Liberation Serif', serif" font-size="24.5" fill="#111" textLength="27.8" lengthAdjust="spacingAndGlyphs">(<tspan font-weight="bold">b</tspan>)</text></g>
</svg></body></html>
